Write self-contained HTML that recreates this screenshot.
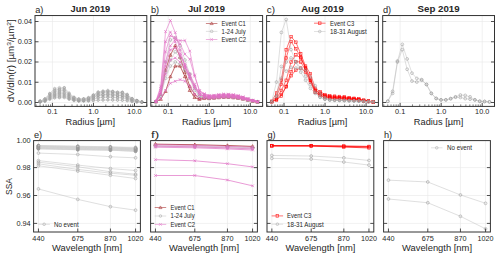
<!DOCTYPE html><html><head><meta charset="utf-8"><style>html,body{margin:0;padding:0;background:#fff;overflow:hidden}svg{display:block}</style></head><body>
<svg width="500" height="258" viewBox="0 0 500 258" font-family='"Liberation Sans", sans-serif'>
<rect width="500" height="258" fill="#fff"/>
<defs>
<clipPath id="ct0"><rect x="35" y="15.55" width="111.8" height="90.85"/></clipPath>
<clipPath id="cb0"><rect x="33.6" y="140.6" width="106.8" height="91.4"/></clipPath>
<clipPath id="ct1"><rect x="150.8" y="15.55" width="111.8" height="90.85"/></clipPath>
<clipPath id="cb1"><rect x="150.6" y="140.6" width="106.8" height="91.4"/></clipPath>
<clipPath id="ct2"><rect x="266.6" y="15.55" width="111.8" height="90.85"/></clipPath>
<clipPath id="cb2"><rect x="267" y="140.6" width="106.8" height="91.4"/></clipPath>
<clipPath id="ct3"><rect x="382.7" y="15.55" width="111.8" height="90.85"/></clipPath>
<clipPath id="cb3"><rect x="383.6" y="140.6" width="106.8" height="91.4"/></clipPath>
</defs>
<line x1="52.43" y1="15.55" x2="52.43" y2="106.4" stroke="#e8e8e8" stroke-width="0.6"/>
<line x1="93.46" y1="15.55" x2="93.46" y2="106.4" stroke="#e8e8e8" stroke-width="0.6"/>
<line x1="134.49" y1="15.55" x2="134.49" y2="106.4" stroke="#e8e8e8" stroke-width="0.6"/>
<line x1="35" y1="102.5" x2="146.8" y2="102.5" stroke="#e8e8e8" stroke-width="0.6"/>
<line x1="35" y1="82.25" x2="146.8" y2="82.25" stroke="#e8e8e8" stroke-width="0.6"/>
<line x1="35" y1="62" x2="146.8" y2="62" stroke="#e8e8e8" stroke-width="0.6"/>
<line x1="35" y1="41.75" x2="146.8" y2="41.75" stroke="#e8e8e8" stroke-width="0.6"/>
<line x1="35" y1="21.5" x2="146.8" y2="21.5" stroke="#e8e8e8" stroke-width="0.6"/>
<g clip-path="url(#ct0)">
<g opacity="1.0">
<path d="M40.08 102.04L44.92 101.35L49.76 99.55L54.6 98.15L59.44 97.87L64.28 97.77L69.12 99.44L73.96 100.7L78.8 101.18L83.64 100.93L88.48 100.32L93.32 99.07L98.16 97.75L103 97.28L107.84 96.92L112.68 97.12L117.52 97.74L122.36 97.58L127.2 98.79L132.04 100.67L136.88 101.47L141.72 102.09" fill="none" stroke="#c4c4c4" stroke-width="0.4" stroke-linejoin="round"/>
<circle cx="40.08" cy="102.04" r="1.15" fill="none" stroke="#a0a0a0" stroke-width="0.5"/>
<circle cx="44.92" cy="101.35" r="1.15" fill="none" stroke="#a0a0a0" stroke-width="0.5"/>
<circle cx="49.76" cy="99.55" r="1.15" fill="none" stroke="#a0a0a0" stroke-width="0.5"/>
<circle cx="54.6" cy="98.15" r="1.15" fill="none" stroke="#a0a0a0" stroke-width="0.5"/>
<circle cx="59.44" cy="97.87" r="1.15" fill="none" stroke="#a0a0a0" stroke-width="0.5"/>
<circle cx="64.28" cy="97.77" r="1.15" fill="none" stroke="#a0a0a0" stroke-width="0.5"/>
<circle cx="69.12" cy="99.44" r="1.15" fill="none" stroke="#a0a0a0" stroke-width="0.5"/>
<circle cx="73.96" cy="100.7" r="1.15" fill="none" stroke="#a0a0a0" stroke-width="0.5"/>
<circle cx="78.8" cy="101.18" r="1.15" fill="none" stroke="#a0a0a0" stroke-width="0.5"/>
<circle cx="83.64" cy="100.93" r="1.15" fill="none" stroke="#a0a0a0" stroke-width="0.5"/>
<circle cx="88.48" cy="100.32" r="1.15" fill="none" stroke="#a0a0a0" stroke-width="0.5"/>
<circle cx="93.32" cy="99.07" r="1.15" fill="none" stroke="#a0a0a0" stroke-width="0.5"/>
<circle cx="98.16" cy="97.75" r="1.15" fill="none" stroke="#a0a0a0" stroke-width="0.5"/>
<circle cx="103" cy="97.28" r="1.15" fill="none" stroke="#a0a0a0" stroke-width="0.5"/>
<circle cx="107.84" cy="96.92" r="1.15" fill="none" stroke="#a0a0a0" stroke-width="0.5"/>
<circle cx="112.68" cy="97.12" r="1.15" fill="none" stroke="#a0a0a0" stroke-width="0.5"/>
<circle cx="117.52" cy="97.74" r="1.15" fill="none" stroke="#a0a0a0" stroke-width="0.5"/>
<circle cx="122.36" cy="97.58" r="1.15" fill="none" stroke="#a0a0a0" stroke-width="0.5"/>
<circle cx="127.2" cy="98.79" r="1.15" fill="none" stroke="#a0a0a0" stroke-width="0.5"/>
<circle cx="132.04" cy="100.67" r="1.15" fill="none" stroke="#a0a0a0" stroke-width="0.5"/>
<circle cx="136.88" cy="101.47" r="1.15" fill="none" stroke="#a0a0a0" stroke-width="0.5"/>
<circle cx="141.72" cy="102.09" r="1.15" fill="none" stroke="#a0a0a0" stroke-width="0.5"/>
</g>
<g opacity="1.0">
<path d="M40.08 101.95L44.92 101.11L49.76 98.97L54.6 97.56L59.44 97.34L64.28 97.12L69.12 99.02L73.96 100.3L78.8 100.91L83.64 100.45L88.48 99.41L93.32 97.43L98.16 95.47L103 94.5L107.84 94.7L112.68 94.7L117.52 95.43L122.36 95.74L127.2 96.97L132.04 99.91L136.88 101.01L141.72 102.09" fill="none" stroke="#c4c4c4" stroke-width="0.4" stroke-linejoin="round"/>
<circle cx="40.08" cy="101.95" r="1.15" fill="none" stroke="#a0a0a0" stroke-width="0.5"/>
<circle cx="44.92" cy="101.11" r="1.15" fill="none" stroke="#a0a0a0" stroke-width="0.5"/>
<circle cx="49.76" cy="98.97" r="1.15" fill="none" stroke="#a0a0a0" stroke-width="0.5"/>
<circle cx="54.6" cy="97.56" r="1.15" fill="none" stroke="#a0a0a0" stroke-width="0.5"/>
<circle cx="59.44" cy="97.34" r="1.15" fill="none" stroke="#a0a0a0" stroke-width="0.5"/>
<circle cx="64.28" cy="97.12" r="1.15" fill="none" stroke="#a0a0a0" stroke-width="0.5"/>
<circle cx="69.12" cy="99.02" r="1.15" fill="none" stroke="#a0a0a0" stroke-width="0.5"/>
<circle cx="73.96" cy="100.3" r="1.15" fill="none" stroke="#a0a0a0" stroke-width="0.5"/>
<circle cx="78.8" cy="100.91" r="1.15" fill="none" stroke="#a0a0a0" stroke-width="0.5"/>
<circle cx="83.64" cy="100.45" r="1.15" fill="none" stroke="#a0a0a0" stroke-width="0.5"/>
<circle cx="88.48" cy="99.41" r="1.15" fill="none" stroke="#a0a0a0" stroke-width="0.5"/>
<circle cx="93.32" cy="97.43" r="1.15" fill="none" stroke="#a0a0a0" stroke-width="0.5"/>
<circle cx="98.16" cy="95.47" r="1.15" fill="none" stroke="#a0a0a0" stroke-width="0.5"/>
<circle cx="103" cy="94.5" r="1.15" fill="none" stroke="#a0a0a0" stroke-width="0.5"/>
<circle cx="107.84" cy="94.7" r="1.15" fill="none" stroke="#a0a0a0" stroke-width="0.5"/>
<circle cx="112.68" cy="94.7" r="1.15" fill="none" stroke="#a0a0a0" stroke-width="0.5"/>
<circle cx="117.52" cy="95.43" r="1.15" fill="none" stroke="#a0a0a0" stroke-width="0.5"/>
<circle cx="122.36" cy="95.74" r="1.15" fill="none" stroke="#a0a0a0" stroke-width="0.5"/>
<circle cx="127.2" cy="96.97" r="1.15" fill="none" stroke="#a0a0a0" stroke-width="0.5"/>
<circle cx="132.04" cy="99.91" r="1.15" fill="none" stroke="#a0a0a0" stroke-width="0.5"/>
<circle cx="136.88" cy="101.01" r="1.15" fill="none" stroke="#a0a0a0" stroke-width="0.5"/>
<circle cx="141.72" cy="102.09" r="1.15" fill="none" stroke="#a0a0a0" stroke-width="0.5"/>
</g>
<g opacity="1.0">
<path d="M40.08 101.87L44.92 100.93L49.76 98.7L54.6 96.74L59.44 96.7L64.28 96.36L69.12 98.68L73.96 100.17L78.8 100.82L83.64 100.36L88.48 99.54L93.32 97.54L98.16 95.57L103 94.82L107.84 94.87L112.68 95.28L117.52 95.86L122.36 95.9L127.2 97.32L132.04 100.04L136.88 101.15L141.72 102.09" fill="none" stroke="#c4c4c4" stroke-width="0.4" stroke-linejoin="round"/>
<circle cx="40.08" cy="101.87" r="1.15" fill="none" stroke="#a0a0a0" stroke-width="0.5"/>
<circle cx="44.92" cy="100.93" r="1.15" fill="none" stroke="#a0a0a0" stroke-width="0.5"/>
<circle cx="49.76" cy="98.7" r="1.15" fill="none" stroke="#a0a0a0" stroke-width="0.5"/>
<circle cx="54.6" cy="96.74" r="1.15" fill="none" stroke="#a0a0a0" stroke-width="0.5"/>
<circle cx="59.44" cy="96.7" r="1.15" fill="none" stroke="#a0a0a0" stroke-width="0.5"/>
<circle cx="64.28" cy="96.36" r="1.15" fill="none" stroke="#a0a0a0" stroke-width="0.5"/>
<circle cx="69.12" cy="98.68" r="1.15" fill="none" stroke="#a0a0a0" stroke-width="0.5"/>
<circle cx="73.96" cy="100.17" r="1.15" fill="none" stroke="#a0a0a0" stroke-width="0.5"/>
<circle cx="78.8" cy="100.82" r="1.15" fill="none" stroke="#a0a0a0" stroke-width="0.5"/>
<circle cx="83.64" cy="100.36" r="1.15" fill="none" stroke="#a0a0a0" stroke-width="0.5"/>
<circle cx="88.48" cy="99.54" r="1.15" fill="none" stroke="#a0a0a0" stroke-width="0.5"/>
<circle cx="93.32" cy="97.54" r="1.15" fill="none" stroke="#a0a0a0" stroke-width="0.5"/>
<circle cx="98.16" cy="95.57" r="1.15" fill="none" stroke="#a0a0a0" stroke-width="0.5"/>
<circle cx="103" cy="94.82" r="1.15" fill="none" stroke="#a0a0a0" stroke-width="0.5"/>
<circle cx="107.84" cy="94.87" r="1.15" fill="none" stroke="#a0a0a0" stroke-width="0.5"/>
<circle cx="112.68" cy="95.28" r="1.15" fill="none" stroke="#a0a0a0" stroke-width="0.5"/>
<circle cx="117.52" cy="95.86" r="1.15" fill="none" stroke="#a0a0a0" stroke-width="0.5"/>
<circle cx="122.36" cy="95.9" r="1.15" fill="none" stroke="#a0a0a0" stroke-width="0.5"/>
<circle cx="127.2" cy="97.32" r="1.15" fill="none" stroke="#a0a0a0" stroke-width="0.5"/>
<circle cx="132.04" cy="100.04" r="1.15" fill="none" stroke="#a0a0a0" stroke-width="0.5"/>
<circle cx="136.88" cy="101.15" r="1.15" fill="none" stroke="#a0a0a0" stroke-width="0.5"/>
<circle cx="141.72" cy="102.09" r="1.15" fill="none" stroke="#a0a0a0" stroke-width="0.5"/>
</g>
<g opacity="1.0">
<path d="M40.08 101.81L44.92 100.83L49.76 98.3L54.6 96.13L59.44 95.89L64.28 95.76L69.12 98.31L73.96 99.74L78.8 100.51L83.64 99.82L88.48 98.6L93.32 95.44L98.16 92.92L103 92.12L107.84 91.45L112.68 91.77L117.52 93.04L122.36 92.62L127.2 94.94L132.04 98.82L136.88 100.53L141.72 102.03" fill="none" stroke="#c4c4c4" stroke-width="0.4" stroke-linejoin="round"/>
<circle cx="40.08" cy="101.81" r="1.15" fill="none" stroke="#a0a0a0" stroke-width="0.5"/>
<circle cx="44.92" cy="100.83" r="1.15" fill="none" stroke="#a0a0a0" stroke-width="0.5"/>
<circle cx="49.76" cy="98.3" r="1.15" fill="none" stroke="#a0a0a0" stroke-width="0.5"/>
<circle cx="54.6" cy="96.13" r="1.15" fill="none" stroke="#a0a0a0" stroke-width="0.5"/>
<circle cx="59.44" cy="95.89" r="1.15" fill="none" stroke="#a0a0a0" stroke-width="0.5"/>
<circle cx="64.28" cy="95.76" r="1.15" fill="none" stroke="#a0a0a0" stroke-width="0.5"/>
<circle cx="69.12" cy="98.31" r="1.15" fill="none" stroke="#a0a0a0" stroke-width="0.5"/>
<circle cx="73.96" cy="99.74" r="1.15" fill="none" stroke="#a0a0a0" stroke-width="0.5"/>
<circle cx="78.8" cy="100.51" r="1.15" fill="none" stroke="#a0a0a0" stroke-width="0.5"/>
<circle cx="83.64" cy="99.82" r="1.15" fill="none" stroke="#a0a0a0" stroke-width="0.5"/>
<circle cx="88.48" cy="98.6" r="1.15" fill="none" stroke="#a0a0a0" stroke-width="0.5"/>
<circle cx="93.32" cy="95.44" r="1.15" fill="none" stroke="#a0a0a0" stroke-width="0.5"/>
<circle cx="98.16" cy="92.92" r="1.15" fill="none" stroke="#a0a0a0" stroke-width="0.5"/>
<circle cx="103" cy="92.12" r="1.15" fill="none" stroke="#a0a0a0" stroke-width="0.5"/>
<circle cx="107.84" cy="91.45" r="1.15" fill="none" stroke="#a0a0a0" stroke-width="0.5"/>
<circle cx="112.68" cy="91.77" r="1.15" fill="none" stroke="#a0a0a0" stroke-width="0.5"/>
<circle cx="117.52" cy="93.04" r="1.15" fill="none" stroke="#a0a0a0" stroke-width="0.5"/>
<circle cx="122.36" cy="92.62" r="1.15" fill="none" stroke="#a0a0a0" stroke-width="0.5"/>
<circle cx="127.2" cy="94.94" r="1.15" fill="none" stroke="#a0a0a0" stroke-width="0.5"/>
<circle cx="132.04" cy="98.82" r="1.15" fill="none" stroke="#a0a0a0" stroke-width="0.5"/>
<circle cx="136.88" cy="100.53" r="1.15" fill="none" stroke="#a0a0a0" stroke-width="0.5"/>
<circle cx="141.72" cy="102.03" r="1.15" fill="none" stroke="#a0a0a0" stroke-width="0.5"/>
</g>
<g opacity="1.0">
<path d="M40.08 101.77L44.92 100.6L49.76 97.85L54.6 95.42L59.44 95.29L64.28 95.01L69.12 97.94L73.96 99.72L78.8 100.84L83.64 101.17L88.48 101.11L93.32 100.56L98.16 100.16L103 99.94L107.84 99.72L112.68 99.93L117.52 100.07L122.36 100.22L127.2 100.62L132.04 101.63L136.88 102L141.72 102.09" fill="none" stroke="#c4c4c4" stroke-width="0.4" stroke-linejoin="round"/>
<circle cx="40.08" cy="101.77" r="1.15" fill="none" stroke="#a0a0a0" stroke-width="0.5"/>
<circle cx="44.92" cy="100.6" r="1.15" fill="none" stroke="#a0a0a0" stroke-width="0.5"/>
<circle cx="49.76" cy="97.85" r="1.15" fill="none" stroke="#a0a0a0" stroke-width="0.5"/>
<circle cx="54.6" cy="95.42" r="1.15" fill="none" stroke="#a0a0a0" stroke-width="0.5"/>
<circle cx="59.44" cy="95.29" r="1.15" fill="none" stroke="#a0a0a0" stroke-width="0.5"/>
<circle cx="64.28" cy="95.01" r="1.15" fill="none" stroke="#a0a0a0" stroke-width="0.5"/>
<circle cx="69.12" cy="97.94" r="1.15" fill="none" stroke="#a0a0a0" stroke-width="0.5"/>
<circle cx="73.96" cy="99.72" r="1.15" fill="none" stroke="#a0a0a0" stroke-width="0.5"/>
<circle cx="78.8" cy="100.84" r="1.15" fill="none" stroke="#a0a0a0" stroke-width="0.5"/>
<circle cx="83.64" cy="101.17" r="1.15" fill="none" stroke="#a0a0a0" stroke-width="0.5"/>
<circle cx="88.48" cy="101.11" r="1.15" fill="none" stroke="#a0a0a0" stroke-width="0.5"/>
<circle cx="93.32" cy="100.56" r="1.15" fill="none" stroke="#a0a0a0" stroke-width="0.5"/>
<circle cx="98.16" cy="100.16" r="1.15" fill="none" stroke="#a0a0a0" stroke-width="0.5"/>
<circle cx="103" cy="99.94" r="1.15" fill="none" stroke="#a0a0a0" stroke-width="0.5"/>
<circle cx="107.84" cy="99.72" r="1.15" fill="none" stroke="#a0a0a0" stroke-width="0.5"/>
<circle cx="112.68" cy="99.93" r="1.15" fill="none" stroke="#a0a0a0" stroke-width="0.5"/>
<circle cx="117.52" cy="100.07" r="1.15" fill="none" stroke="#a0a0a0" stroke-width="0.5"/>
<circle cx="122.36" cy="100.22" r="1.15" fill="none" stroke="#a0a0a0" stroke-width="0.5"/>
<circle cx="127.2" cy="100.62" r="1.15" fill="none" stroke="#a0a0a0" stroke-width="0.5"/>
<circle cx="132.04" cy="101.63" r="1.15" fill="none" stroke="#a0a0a0" stroke-width="0.5"/>
<circle cx="136.88" cy="102" r="1.15" fill="none" stroke="#a0a0a0" stroke-width="0.5"/>
<circle cx="141.72" cy="102.09" r="1.15" fill="none" stroke="#a0a0a0" stroke-width="0.5"/>
</g>
<g opacity="1.0">
<path d="M40.08 101.71L44.92 100.39L49.76 97.4L54.6 95.1L59.44 94.35L64.28 94.31L69.12 97.51L73.96 99.47L78.8 100.44L83.64 100.2L88.48 99.34L93.32 97.38L98.16 95.74L103 95.33L107.84 95.01L112.68 94.87L117.52 95.64L122.36 95.72L127.2 97.25L132.04 99.88L136.88 101.1L141.72 102.09" fill="none" stroke="#c4c4c4" stroke-width="0.4" stroke-linejoin="round"/>
<circle cx="40.08" cy="101.71" r="1.15" fill="none" stroke="#a0a0a0" stroke-width="0.5"/>
<circle cx="44.92" cy="100.39" r="1.15" fill="none" stroke="#a0a0a0" stroke-width="0.5"/>
<circle cx="49.76" cy="97.4" r="1.15" fill="none" stroke="#a0a0a0" stroke-width="0.5"/>
<circle cx="54.6" cy="95.1" r="1.15" fill="none" stroke="#a0a0a0" stroke-width="0.5"/>
<circle cx="59.44" cy="94.35" r="1.15" fill="none" stroke="#a0a0a0" stroke-width="0.5"/>
<circle cx="64.28" cy="94.31" r="1.15" fill="none" stroke="#a0a0a0" stroke-width="0.5"/>
<circle cx="69.12" cy="97.51" r="1.15" fill="none" stroke="#a0a0a0" stroke-width="0.5"/>
<circle cx="73.96" cy="99.47" r="1.15" fill="none" stroke="#a0a0a0" stroke-width="0.5"/>
<circle cx="78.8" cy="100.44" r="1.15" fill="none" stroke="#a0a0a0" stroke-width="0.5"/>
<circle cx="83.64" cy="100.2" r="1.15" fill="none" stroke="#a0a0a0" stroke-width="0.5"/>
<circle cx="88.48" cy="99.34" r="1.15" fill="none" stroke="#a0a0a0" stroke-width="0.5"/>
<circle cx="93.32" cy="97.38" r="1.15" fill="none" stroke="#a0a0a0" stroke-width="0.5"/>
<circle cx="98.16" cy="95.74" r="1.15" fill="none" stroke="#a0a0a0" stroke-width="0.5"/>
<circle cx="103" cy="95.33" r="1.15" fill="none" stroke="#a0a0a0" stroke-width="0.5"/>
<circle cx="107.84" cy="95.01" r="1.15" fill="none" stroke="#a0a0a0" stroke-width="0.5"/>
<circle cx="112.68" cy="94.87" r="1.15" fill="none" stroke="#a0a0a0" stroke-width="0.5"/>
<circle cx="117.52" cy="95.64" r="1.15" fill="none" stroke="#a0a0a0" stroke-width="0.5"/>
<circle cx="122.36" cy="95.72" r="1.15" fill="none" stroke="#a0a0a0" stroke-width="0.5"/>
<circle cx="127.2" cy="97.25" r="1.15" fill="none" stroke="#a0a0a0" stroke-width="0.5"/>
<circle cx="132.04" cy="99.88" r="1.15" fill="none" stroke="#a0a0a0" stroke-width="0.5"/>
<circle cx="136.88" cy="101.1" r="1.15" fill="none" stroke="#a0a0a0" stroke-width="0.5"/>
<circle cx="141.72" cy="102.09" r="1.15" fill="none" stroke="#a0a0a0" stroke-width="0.5"/>
</g>
<g opacity="1.0">
<path d="M40.08 101.62L44.92 100.25L49.76 97.01L54.6 94.45L59.44 93.76L64.28 93.43L69.12 96.79L73.96 99.01L78.8 100.17L83.64 99.63L88.48 98.78L93.32 96.41L98.16 94.19L103 92.74L107.84 92.93L112.68 92.84L117.52 93.44L122.36 94.05L127.2 95.85L132.04 99.09L136.88 100.76L141.72 102.05" fill="none" stroke="#c4c4c4" stroke-width="0.4" stroke-linejoin="round"/>
<circle cx="40.08" cy="101.62" r="1.15" fill="none" stroke="#a0a0a0" stroke-width="0.5"/>
<circle cx="44.92" cy="100.25" r="1.15" fill="none" stroke="#a0a0a0" stroke-width="0.5"/>
<circle cx="49.76" cy="97.01" r="1.15" fill="none" stroke="#a0a0a0" stroke-width="0.5"/>
<circle cx="54.6" cy="94.45" r="1.15" fill="none" stroke="#a0a0a0" stroke-width="0.5"/>
<circle cx="59.44" cy="93.76" r="1.15" fill="none" stroke="#a0a0a0" stroke-width="0.5"/>
<circle cx="64.28" cy="93.43" r="1.15" fill="none" stroke="#a0a0a0" stroke-width="0.5"/>
<circle cx="69.12" cy="96.79" r="1.15" fill="none" stroke="#a0a0a0" stroke-width="0.5"/>
<circle cx="73.96" cy="99.01" r="1.15" fill="none" stroke="#a0a0a0" stroke-width="0.5"/>
<circle cx="78.8" cy="100.17" r="1.15" fill="none" stroke="#a0a0a0" stroke-width="0.5"/>
<circle cx="83.64" cy="99.63" r="1.15" fill="none" stroke="#a0a0a0" stroke-width="0.5"/>
<circle cx="88.48" cy="98.78" r="1.15" fill="none" stroke="#a0a0a0" stroke-width="0.5"/>
<circle cx="93.32" cy="96.41" r="1.15" fill="none" stroke="#a0a0a0" stroke-width="0.5"/>
<circle cx="98.16" cy="94.19" r="1.15" fill="none" stroke="#a0a0a0" stroke-width="0.5"/>
<circle cx="103" cy="92.74" r="1.15" fill="none" stroke="#a0a0a0" stroke-width="0.5"/>
<circle cx="107.84" cy="92.93" r="1.15" fill="none" stroke="#a0a0a0" stroke-width="0.5"/>
<circle cx="112.68" cy="92.84" r="1.15" fill="none" stroke="#a0a0a0" stroke-width="0.5"/>
<circle cx="117.52" cy="93.44" r="1.15" fill="none" stroke="#a0a0a0" stroke-width="0.5"/>
<circle cx="122.36" cy="94.05" r="1.15" fill="none" stroke="#a0a0a0" stroke-width="0.5"/>
<circle cx="127.2" cy="95.85" r="1.15" fill="none" stroke="#a0a0a0" stroke-width="0.5"/>
<circle cx="132.04" cy="99.09" r="1.15" fill="none" stroke="#a0a0a0" stroke-width="0.5"/>
<circle cx="136.88" cy="100.76" r="1.15" fill="none" stroke="#a0a0a0" stroke-width="0.5"/>
<circle cx="141.72" cy="102.05" r="1.15" fill="none" stroke="#a0a0a0" stroke-width="0.5"/>
</g>
<g opacity="1.0">
<path d="M40.08 101.57L44.92 100.08L49.76 96.54L54.6 94.17L59.44 93.15L64.28 93.1L69.12 96.43L73.96 99.11L78.8 100.32L83.64 100.45L88.48 99.96L93.32 98.77L98.16 97.32L103 96.91L107.84 97.03L112.68 97.04L117.52 97.25L122.36 97.4L127.2 98.52L132.04 100.56L136.88 101.48L141.72 102.09" fill="none" stroke="#c4c4c4" stroke-width="0.4" stroke-linejoin="round"/>
<circle cx="40.08" cy="101.57" r="1.15" fill="none" stroke="#a0a0a0" stroke-width="0.5"/>
<circle cx="44.92" cy="100.08" r="1.15" fill="none" stroke="#a0a0a0" stroke-width="0.5"/>
<circle cx="49.76" cy="96.54" r="1.15" fill="none" stroke="#a0a0a0" stroke-width="0.5"/>
<circle cx="54.6" cy="94.17" r="1.15" fill="none" stroke="#a0a0a0" stroke-width="0.5"/>
<circle cx="59.44" cy="93.15" r="1.15" fill="none" stroke="#a0a0a0" stroke-width="0.5"/>
<circle cx="64.28" cy="93.1" r="1.15" fill="none" stroke="#a0a0a0" stroke-width="0.5"/>
<circle cx="69.12" cy="96.43" r="1.15" fill="none" stroke="#a0a0a0" stroke-width="0.5"/>
<circle cx="73.96" cy="99.11" r="1.15" fill="none" stroke="#a0a0a0" stroke-width="0.5"/>
<circle cx="78.8" cy="100.32" r="1.15" fill="none" stroke="#a0a0a0" stroke-width="0.5"/>
<circle cx="83.64" cy="100.45" r="1.15" fill="none" stroke="#a0a0a0" stroke-width="0.5"/>
<circle cx="88.48" cy="99.96" r="1.15" fill="none" stroke="#a0a0a0" stroke-width="0.5"/>
<circle cx="93.32" cy="98.77" r="1.15" fill="none" stroke="#a0a0a0" stroke-width="0.5"/>
<circle cx="98.16" cy="97.32" r="1.15" fill="none" stroke="#a0a0a0" stroke-width="0.5"/>
<circle cx="103" cy="96.91" r="1.15" fill="none" stroke="#a0a0a0" stroke-width="0.5"/>
<circle cx="107.84" cy="97.03" r="1.15" fill="none" stroke="#a0a0a0" stroke-width="0.5"/>
<circle cx="112.68" cy="97.04" r="1.15" fill="none" stroke="#a0a0a0" stroke-width="0.5"/>
<circle cx="117.52" cy="97.25" r="1.15" fill="none" stroke="#a0a0a0" stroke-width="0.5"/>
<circle cx="122.36" cy="97.4" r="1.15" fill="none" stroke="#a0a0a0" stroke-width="0.5"/>
<circle cx="127.2" cy="98.52" r="1.15" fill="none" stroke="#a0a0a0" stroke-width="0.5"/>
<circle cx="132.04" cy="100.56" r="1.15" fill="none" stroke="#a0a0a0" stroke-width="0.5"/>
<circle cx="136.88" cy="101.48" r="1.15" fill="none" stroke="#a0a0a0" stroke-width="0.5"/>
<circle cx="141.72" cy="102.09" r="1.15" fill="none" stroke="#a0a0a0" stroke-width="0.5"/>
</g>
<g opacity="1.0">
<path d="M40.08 101.51L44.92 100.01L49.76 96.31L54.6 93.44L59.44 92.73L64.28 92.25L69.12 96.3L73.96 98.93L78.8 100.24L83.64 100.47L88.48 100.15L93.32 99.03L98.16 98.07L103 97.71L107.84 97.44L112.68 97.73L117.52 97.97L122.36 98.15L127.2 99.22L132.04 100.9L136.88 101.61L141.72 102.09" fill="none" stroke="#c4c4c4" stroke-width="0.4" stroke-linejoin="round"/>
<circle cx="40.08" cy="101.51" r="1.15" fill="none" stroke="#a0a0a0" stroke-width="0.5"/>
<circle cx="44.92" cy="100.01" r="1.15" fill="none" stroke="#a0a0a0" stroke-width="0.5"/>
<circle cx="49.76" cy="96.31" r="1.15" fill="none" stroke="#a0a0a0" stroke-width="0.5"/>
<circle cx="54.6" cy="93.44" r="1.15" fill="none" stroke="#a0a0a0" stroke-width="0.5"/>
<circle cx="59.44" cy="92.73" r="1.15" fill="none" stroke="#a0a0a0" stroke-width="0.5"/>
<circle cx="64.28" cy="92.25" r="1.15" fill="none" stroke="#a0a0a0" stroke-width="0.5"/>
<circle cx="69.12" cy="96.3" r="1.15" fill="none" stroke="#a0a0a0" stroke-width="0.5"/>
<circle cx="73.96" cy="98.93" r="1.15" fill="none" stroke="#a0a0a0" stroke-width="0.5"/>
<circle cx="78.8" cy="100.24" r="1.15" fill="none" stroke="#a0a0a0" stroke-width="0.5"/>
<circle cx="83.64" cy="100.47" r="1.15" fill="none" stroke="#a0a0a0" stroke-width="0.5"/>
<circle cx="88.48" cy="100.15" r="1.15" fill="none" stroke="#a0a0a0" stroke-width="0.5"/>
<circle cx="93.32" cy="99.03" r="1.15" fill="none" stroke="#a0a0a0" stroke-width="0.5"/>
<circle cx="98.16" cy="98.07" r="1.15" fill="none" stroke="#a0a0a0" stroke-width="0.5"/>
<circle cx="103" cy="97.71" r="1.15" fill="none" stroke="#a0a0a0" stroke-width="0.5"/>
<circle cx="107.84" cy="97.44" r="1.15" fill="none" stroke="#a0a0a0" stroke-width="0.5"/>
<circle cx="112.68" cy="97.73" r="1.15" fill="none" stroke="#a0a0a0" stroke-width="0.5"/>
<circle cx="117.52" cy="97.97" r="1.15" fill="none" stroke="#a0a0a0" stroke-width="0.5"/>
<circle cx="122.36" cy="98.15" r="1.15" fill="none" stroke="#a0a0a0" stroke-width="0.5"/>
<circle cx="127.2" cy="99.22" r="1.15" fill="none" stroke="#a0a0a0" stroke-width="0.5"/>
<circle cx="132.04" cy="100.9" r="1.15" fill="none" stroke="#a0a0a0" stroke-width="0.5"/>
<circle cx="136.88" cy="101.61" r="1.15" fill="none" stroke="#a0a0a0" stroke-width="0.5"/>
<circle cx="141.72" cy="102.09" r="1.15" fill="none" stroke="#a0a0a0" stroke-width="0.5"/>
</g>
<g opacity="1.0">
<path d="M40.08 101.38L44.92 99.83L49.76 95.83L54.6 92.87L59.44 92.12L64.28 90.96L69.12 95.86L73.96 98.45L78.8 99.79L83.64 99.37L88.48 98.34L93.32 95.87L98.16 93.37L103 92.71L107.84 92.22L112.68 92.29L117.52 92.99L122.36 92.99L127.2 95.44L132.04 99.1L136.88 100.57L141.72 102.01" fill="none" stroke="#c4c4c4" stroke-width="0.4" stroke-linejoin="round"/>
<circle cx="40.08" cy="101.38" r="1.15" fill="none" stroke="#a0a0a0" stroke-width="0.5"/>
<circle cx="44.92" cy="99.83" r="1.15" fill="none" stroke="#a0a0a0" stroke-width="0.5"/>
<circle cx="49.76" cy="95.83" r="1.15" fill="none" stroke="#a0a0a0" stroke-width="0.5"/>
<circle cx="54.6" cy="92.87" r="1.15" fill="none" stroke="#a0a0a0" stroke-width="0.5"/>
<circle cx="59.44" cy="92.12" r="1.15" fill="none" stroke="#a0a0a0" stroke-width="0.5"/>
<circle cx="64.28" cy="90.96" r="1.15" fill="none" stroke="#a0a0a0" stroke-width="0.5"/>
<circle cx="69.12" cy="95.86" r="1.15" fill="none" stroke="#a0a0a0" stroke-width="0.5"/>
<circle cx="73.96" cy="98.45" r="1.15" fill="none" stroke="#a0a0a0" stroke-width="0.5"/>
<circle cx="78.8" cy="99.79" r="1.15" fill="none" stroke="#a0a0a0" stroke-width="0.5"/>
<circle cx="83.64" cy="99.37" r="1.15" fill="none" stroke="#a0a0a0" stroke-width="0.5"/>
<circle cx="88.48" cy="98.34" r="1.15" fill="none" stroke="#a0a0a0" stroke-width="0.5"/>
<circle cx="93.32" cy="95.87" r="1.15" fill="none" stroke="#a0a0a0" stroke-width="0.5"/>
<circle cx="98.16" cy="93.37" r="1.15" fill="none" stroke="#a0a0a0" stroke-width="0.5"/>
<circle cx="103" cy="92.71" r="1.15" fill="none" stroke="#a0a0a0" stroke-width="0.5"/>
<circle cx="107.84" cy="92.22" r="1.15" fill="none" stroke="#a0a0a0" stroke-width="0.5"/>
<circle cx="112.68" cy="92.29" r="1.15" fill="none" stroke="#a0a0a0" stroke-width="0.5"/>
<circle cx="117.52" cy="92.99" r="1.15" fill="none" stroke="#a0a0a0" stroke-width="0.5"/>
<circle cx="122.36" cy="92.99" r="1.15" fill="none" stroke="#a0a0a0" stroke-width="0.5"/>
<circle cx="127.2" cy="95.44" r="1.15" fill="none" stroke="#a0a0a0" stroke-width="0.5"/>
<circle cx="132.04" cy="99.1" r="1.15" fill="none" stroke="#a0a0a0" stroke-width="0.5"/>
<circle cx="136.88" cy="100.57" r="1.15" fill="none" stroke="#a0a0a0" stroke-width="0.5"/>
<circle cx="141.72" cy="102.01" r="1.15" fill="none" stroke="#a0a0a0" stroke-width="0.5"/>
</g>
<g opacity="1.0">
<path d="M40.08 101.34L44.92 99.55L49.76 95.28L54.6 91.7L59.44 90.97L64.28 90.31L69.12 95.18L73.96 98.29L78.8 99.58L83.64 99.16L88.48 98.07L93.32 95.41L98.16 92.65L103 91.84L107.84 91.37L112.68 91.64L117.52 93.01L122.36 92.67L127.2 94.86L132.04 98.84L136.88 100.51L141.72 101.99" fill="none" stroke="#c4c4c4" stroke-width="0.4" stroke-linejoin="round"/>
<circle cx="40.08" cy="101.34" r="1.15" fill="none" stroke="#a0a0a0" stroke-width="0.5"/>
<circle cx="44.92" cy="99.55" r="1.15" fill="none" stroke="#a0a0a0" stroke-width="0.5"/>
<circle cx="49.76" cy="95.28" r="1.15" fill="none" stroke="#a0a0a0" stroke-width="0.5"/>
<circle cx="54.6" cy="91.7" r="1.15" fill="none" stroke="#a0a0a0" stroke-width="0.5"/>
<circle cx="59.44" cy="90.97" r="1.15" fill="none" stroke="#a0a0a0" stroke-width="0.5"/>
<circle cx="64.28" cy="90.31" r="1.15" fill="none" stroke="#a0a0a0" stroke-width="0.5"/>
<circle cx="69.12" cy="95.18" r="1.15" fill="none" stroke="#a0a0a0" stroke-width="0.5"/>
<circle cx="73.96" cy="98.29" r="1.15" fill="none" stroke="#a0a0a0" stroke-width="0.5"/>
<circle cx="78.8" cy="99.58" r="1.15" fill="none" stroke="#a0a0a0" stroke-width="0.5"/>
<circle cx="83.64" cy="99.16" r="1.15" fill="none" stroke="#a0a0a0" stroke-width="0.5"/>
<circle cx="88.48" cy="98.07" r="1.15" fill="none" stroke="#a0a0a0" stroke-width="0.5"/>
<circle cx="93.32" cy="95.41" r="1.15" fill="none" stroke="#a0a0a0" stroke-width="0.5"/>
<circle cx="98.16" cy="92.65" r="1.15" fill="none" stroke="#a0a0a0" stroke-width="0.5"/>
<circle cx="103" cy="91.84" r="1.15" fill="none" stroke="#a0a0a0" stroke-width="0.5"/>
<circle cx="107.84" cy="91.37" r="1.15" fill="none" stroke="#a0a0a0" stroke-width="0.5"/>
<circle cx="112.68" cy="91.64" r="1.15" fill="none" stroke="#a0a0a0" stroke-width="0.5"/>
<circle cx="117.52" cy="93.01" r="1.15" fill="none" stroke="#a0a0a0" stroke-width="0.5"/>
<circle cx="122.36" cy="92.67" r="1.15" fill="none" stroke="#a0a0a0" stroke-width="0.5"/>
<circle cx="127.2" cy="94.86" r="1.15" fill="none" stroke="#a0a0a0" stroke-width="0.5"/>
<circle cx="132.04" cy="98.84" r="1.15" fill="none" stroke="#a0a0a0" stroke-width="0.5"/>
<circle cx="136.88" cy="100.51" r="1.15" fill="none" stroke="#a0a0a0" stroke-width="0.5"/>
<circle cx="141.72" cy="101.99" r="1.15" fill="none" stroke="#a0a0a0" stroke-width="0.5"/>
</g>
<g opacity="1.0">
<path d="M40.08 101.27L44.92 99.54L49.76 94.73L54.6 91.31L59.44 91.02L64.28 89.82L69.12 94.77L73.96 97.97L78.8 99.58L83.64 99.6L88.48 98.83L93.32 97.02L98.16 94.87L103 94.56L107.84 93.86L112.68 94.36L117.52 95.03L122.36 95.38L127.2 96.81L132.04 99.67L136.88 100.93L141.72 102.09" fill="none" stroke="#c4c4c4" stroke-width="0.4" stroke-linejoin="round"/>
<circle cx="40.08" cy="101.27" r="1.15" fill="none" stroke="#a0a0a0" stroke-width="0.5"/>
<circle cx="44.92" cy="99.54" r="1.15" fill="none" stroke="#a0a0a0" stroke-width="0.5"/>
<circle cx="49.76" cy="94.73" r="1.15" fill="none" stroke="#a0a0a0" stroke-width="0.5"/>
<circle cx="54.6" cy="91.31" r="1.15" fill="none" stroke="#a0a0a0" stroke-width="0.5"/>
<circle cx="59.44" cy="91.02" r="1.15" fill="none" stroke="#a0a0a0" stroke-width="0.5"/>
<circle cx="64.28" cy="89.82" r="1.15" fill="none" stroke="#a0a0a0" stroke-width="0.5"/>
<circle cx="69.12" cy="94.77" r="1.15" fill="none" stroke="#a0a0a0" stroke-width="0.5"/>
<circle cx="73.96" cy="97.97" r="1.15" fill="none" stroke="#a0a0a0" stroke-width="0.5"/>
<circle cx="78.8" cy="99.58" r="1.15" fill="none" stroke="#a0a0a0" stroke-width="0.5"/>
<circle cx="83.64" cy="99.6" r="1.15" fill="none" stroke="#a0a0a0" stroke-width="0.5"/>
<circle cx="88.48" cy="98.83" r="1.15" fill="none" stroke="#a0a0a0" stroke-width="0.5"/>
<circle cx="93.32" cy="97.02" r="1.15" fill="none" stroke="#a0a0a0" stroke-width="0.5"/>
<circle cx="98.16" cy="94.87" r="1.15" fill="none" stroke="#a0a0a0" stroke-width="0.5"/>
<circle cx="103" cy="94.56" r="1.15" fill="none" stroke="#a0a0a0" stroke-width="0.5"/>
<circle cx="107.84" cy="93.86" r="1.15" fill="none" stroke="#a0a0a0" stroke-width="0.5"/>
<circle cx="112.68" cy="94.36" r="1.15" fill="none" stroke="#a0a0a0" stroke-width="0.5"/>
<circle cx="117.52" cy="95.03" r="1.15" fill="none" stroke="#a0a0a0" stroke-width="0.5"/>
<circle cx="122.36" cy="95.38" r="1.15" fill="none" stroke="#a0a0a0" stroke-width="0.5"/>
<circle cx="127.2" cy="96.81" r="1.15" fill="none" stroke="#a0a0a0" stroke-width="0.5"/>
<circle cx="132.04" cy="99.67" r="1.15" fill="none" stroke="#a0a0a0" stroke-width="0.5"/>
<circle cx="136.88" cy="100.93" r="1.15" fill="none" stroke="#a0a0a0" stroke-width="0.5"/>
<circle cx="141.72" cy="102.09" r="1.15" fill="none" stroke="#a0a0a0" stroke-width="0.5"/>
</g>
<g opacity="1.0">
<path d="M40.08 101.21L44.92 99.33L49.76 94.55L54.6 90.43L59.44 89.69L64.28 89.7L69.12 94.31L73.96 98L78.8 99.79L83.64 100.6L88.48 100.9L93.32 100.6L98.16 100.26L103 100.18L107.84 100.06L112.68 100.16L117.52 100.25L122.36 100.33L127.2 100.78L132.04 101.67L136.88 102.05L141.72 102.09" fill="none" stroke="#c4c4c4" stroke-width="0.4" stroke-linejoin="round"/>
<circle cx="40.08" cy="101.21" r="1.15" fill="none" stroke="#a0a0a0" stroke-width="0.5"/>
<circle cx="44.92" cy="99.33" r="1.15" fill="none" stroke="#a0a0a0" stroke-width="0.5"/>
<circle cx="49.76" cy="94.55" r="1.15" fill="none" stroke="#a0a0a0" stroke-width="0.5"/>
<circle cx="54.6" cy="90.43" r="1.15" fill="none" stroke="#a0a0a0" stroke-width="0.5"/>
<circle cx="59.44" cy="89.69" r="1.15" fill="none" stroke="#a0a0a0" stroke-width="0.5"/>
<circle cx="64.28" cy="89.7" r="1.15" fill="none" stroke="#a0a0a0" stroke-width="0.5"/>
<circle cx="69.12" cy="94.31" r="1.15" fill="none" stroke="#a0a0a0" stroke-width="0.5"/>
<circle cx="73.96" cy="98" r="1.15" fill="none" stroke="#a0a0a0" stroke-width="0.5"/>
<circle cx="78.8" cy="99.79" r="1.15" fill="none" stroke="#a0a0a0" stroke-width="0.5"/>
<circle cx="83.64" cy="100.6" r="1.15" fill="none" stroke="#a0a0a0" stroke-width="0.5"/>
<circle cx="88.48" cy="100.9" r="1.15" fill="none" stroke="#a0a0a0" stroke-width="0.5"/>
<circle cx="93.32" cy="100.6" r="1.15" fill="none" stroke="#a0a0a0" stroke-width="0.5"/>
<circle cx="98.16" cy="100.26" r="1.15" fill="none" stroke="#a0a0a0" stroke-width="0.5"/>
<circle cx="103" cy="100.18" r="1.15" fill="none" stroke="#a0a0a0" stroke-width="0.5"/>
<circle cx="107.84" cy="100.06" r="1.15" fill="none" stroke="#a0a0a0" stroke-width="0.5"/>
<circle cx="112.68" cy="100.16" r="1.15" fill="none" stroke="#a0a0a0" stroke-width="0.5"/>
<circle cx="117.52" cy="100.25" r="1.15" fill="none" stroke="#a0a0a0" stroke-width="0.5"/>
<circle cx="122.36" cy="100.33" r="1.15" fill="none" stroke="#a0a0a0" stroke-width="0.5"/>
<circle cx="127.2" cy="100.78" r="1.15" fill="none" stroke="#a0a0a0" stroke-width="0.5"/>
<circle cx="132.04" cy="101.67" r="1.15" fill="none" stroke="#a0a0a0" stroke-width="0.5"/>
<circle cx="136.88" cy="102.05" r="1.15" fill="none" stroke="#a0a0a0" stroke-width="0.5"/>
<circle cx="141.72" cy="102.09" r="1.15" fill="none" stroke="#a0a0a0" stroke-width="0.5"/>
</g>
<g opacity="1.0">
<path d="M40.08 101.17L44.92 99L49.76 94.05L54.6 90.33L59.44 88.78L64.28 88.44L69.12 93.99L73.96 97.63L78.8 99.31L83.64 99.45L88.48 98.64L93.32 96.93L98.16 95.14L103 94.43L107.84 94.06L112.68 93.89L117.52 94.86L122.36 94.92L127.2 96.71L132.04 99.68L136.88 100.98L141.72 102.09" fill="none" stroke="#c4c4c4" stroke-width="0.4" stroke-linejoin="round"/>
<circle cx="40.08" cy="101.17" r="1.15" fill="none" stroke="#a0a0a0" stroke-width="0.5"/>
<circle cx="44.92" cy="99" r="1.15" fill="none" stroke="#a0a0a0" stroke-width="0.5"/>
<circle cx="49.76" cy="94.05" r="1.15" fill="none" stroke="#a0a0a0" stroke-width="0.5"/>
<circle cx="54.6" cy="90.33" r="1.15" fill="none" stroke="#a0a0a0" stroke-width="0.5"/>
<circle cx="59.44" cy="88.78" r="1.15" fill="none" stroke="#a0a0a0" stroke-width="0.5"/>
<circle cx="64.28" cy="88.44" r="1.15" fill="none" stroke="#a0a0a0" stroke-width="0.5"/>
<circle cx="69.12" cy="93.99" r="1.15" fill="none" stroke="#a0a0a0" stroke-width="0.5"/>
<circle cx="73.96" cy="97.63" r="1.15" fill="none" stroke="#a0a0a0" stroke-width="0.5"/>
<circle cx="78.8" cy="99.31" r="1.15" fill="none" stroke="#a0a0a0" stroke-width="0.5"/>
<circle cx="83.64" cy="99.45" r="1.15" fill="none" stroke="#a0a0a0" stroke-width="0.5"/>
<circle cx="88.48" cy="98.64" r="1.15" fill="none" stroke="#a0a0a0" stroke-width="0.5"/>
<circle cx="93.32" cy="96.93" r="1.15" fill="none" stroke="#a0a0a0" stroke-width="0.5"/>
<circle cx="98.16" cy="95.14" r="1.15" fill="none" stroke="#a0a0a0" stroke-width="0.5"/>
<circle cx="103" cy="94.43" r="1.15" fill="none" stroke="#a0a0a0" stroke-width="0.5"/>
<circle cx="107.84" cy="94.06" r="1.15" fill="none" stroke="#a0a0a0" stroke-width="0.5"/>
<circle cx="112.68" cy="93.89" r="1.15" fill="none" stroke="#a0a0a0" stroke-width="0.5"/>
<circle cx="117.52" cy="94.86" r="1.15" fill="none" stroke="#a0a0a0" stroke-width="0.5"/>
<circle cx="122.36" cy="94.92" r="1.15" fill="none" stroke="#a0a0a0" stroke-width="0.5"/>
<circle cx="127.2" cy="96.71" r="1.15" fill="none" stroke="#a0a0a0" stroke-width="0.5"/>
<circle cx="132.04" cy="99.68" r="1.15" fill="none" stroke="#a0a0a0" stroke-width="0.5"/>
<circle cx="136.88" cy="100.98" r="1.15" fill="none" stroke="#a0a0a0" stroke-width="0.5"/>
<circle cx="141.72" cy="102.09" r="1.15" fill="none" stroke="#a0a0a0" stroke-width="0.5"/>
</g>
<g opacity="1.0">
<path d="M40.08 101.11L44.92 99.01L49.76 93.65L54.6 89.15L59.44 89.16L64.28 87.67L69.12 93.63L73.96 97.37L78.8 98.83L83.64 98.65L88.48 97.86L93.32 94.9L98.16 91.89L103 91.05L107.84 90.87L112.68 91.6L117.52 92.29L122.36 92.13L127.2 94.78L132.04 98.57L136.88 100.44L141.72 101.97" fill="none" stroke="#c4c4c4" stroke-width="0.4" stroke-linejoin="round"/>
<circle cx="40.08" cy="101.11" r="1.15" fill="none" stroke="#a0a0a0" stroke-width="0.5"/>
<circle cx="44.92" cy="99.01" r="1.15" fill="none" stroke="#a0a0a0" stroke-width="0.5"/>
<circle cx="49.76" cy="93.65" r="1.15" fill="none" stroke="#a0a0a0" stroke-width="0.5"/>
<circle cx="54.6" cy="89.15" r="1.15" fill="none" stroke="#a0a0a0" stroke-width="0.5"/>
<circle cx="59.44" cy="89.16" r="1.15" fill="none" stroke="#a0a0a0" stroke-width="0.5"/>
<circle cx="64.28" cy="87.67" r="1.15" fill="none" stroke="#a0a0a0" stroke-width="0.5"/>
<circle cx="69.12" cy="93.63" r="1.15" fill="none" stroke="#a0a0a0" stroke-width="0.5"/>
<circle cx="73.96" cy="97.37" r="1.15" fill="none" stroke="#a0a0a0" stroke-width="0.5"/>
<circle cx="78.8" cy="98.83" r="1.15" fill="none" stroke="#a0a0a0" stroke-width="0.5"/>
<circle cx="83.64" cy="98.65" r="1.15" fill="none" stroke="#a0a0a0" stroke-width="0.5"/>
<circle cx="88.48" cy="97.86" r="1.15" fill="none" stroke="#a0a0a0" stroke-width="0.5"/>
<circle cx="93.32" cy="94.9" r="1.15" fill="none" stroke="#a0a0a0" stroke-width="0.5"/>
<circle cx="98.16" cy="91.89" r="1.15" fill="none" stroke="#a0a0a0" stroke-width="0.5"/>
<circle cx="103" cy="91.05" r="1.15" fill="none" stroke="#a0a0a0" stroke-width="0.5"/>
<circle cx="107.84" cy="90.87" r="1.15" fill="none" stroke="#a0a0a0" stroke-width="0.5"/>
<circle cx="112.68" cy="91.6" r="1.15" fill="none" stroke="#a0a0a0" stroke-width="0.5"/>
<circle cx="117.52" cy="92.29" r="1.15" fill="none" stroke="#a0a0a0" stroke-width="0.5"/>
<circle cx="122.36" cy="92.13" r="1.15" fill="none" stroke="#a0a0a0" stroke-width="0.5"/>
<circle cx="127.2" cy="94.78" r="1.15" fill="none" stroke="#a0a0a0" stroke-width="0.5"/>
<circle cx="132.04" cy="98.57" r="1.15" fill="none" stroke="#a0a0a0" stroke-width="0.5"/>
<circle cx="136.88" cy="100.44" r="1.15" fill="none" stroke="#a0a0a0" stroke-width="0.5"/>
<circle cx="141.72" cy="101.97" r="1.15" fill="none" stroke="#a0a0a0" stroke-width="0.5"/>
</g>
<g opacity="1.0">
<path d="M40.08 101.02L44.92 98.74L49.76 93.33L54.6 88.4L59.44 87.52L64.28 87.55L69.12 92.84L73.96 97.01L78.8 98.78L83.64 98.69L88.48 97.41L93.32 94.94L98.16 91.99L103 91.12L107.84 90.24L112.68 91.11L117.52 91.91L122.36 92.16L127.2 94.13L132.04 98.35L136.88 100.37L141.72 101.96" fill="none" stroke="#c4c4c4" stroke-width="0.4" stroke-linejoin="round"/>
<circle cx="40.08" cy="101.02" r="1.15" fill="none" stroke="#a0a0a0" stroke-width="0.5"/>
<circle cx="44.92" cy="98.74" r="1.15" fill="none" stroke="#a0a0a0" stroke-width="0.5"/>
<circle cx="49.76" cy="93.33" r="1.15" fill="none" stroke="#a0a0a0" stroke-width="0.5"/>
<circle cx="54.6" cy="88.4" r="1.15" fill="none" stroke="#a0a0a0" stroke-width="0.5"/>
<circle cx="59.44" cy="87.52" r="1.15" fill="none" stroke="#a0a0a0" stroke-width="0.5"/>
<circle cx="64.28" cy="87.55" r="1.15" fill="none" stroke="#a0a0a0" stroke-width="0.5"/>
<circle cx="69.12" cy="92.84" r="1.15" fill="none" stroke="#a0a0a0" stroke-width="0.5"/>
<circle cx="73.96" cy="97.01" r="1.15" fill="none" stroke="#a0a0a0" stroke-width="0.5"/>
<circle cx="78.8" cy="98.78" r="1.15" fill="none" stroke="#a0a0a0" stroke-width="0.5"/>
<circle cx="83.64" cy="98.69" r="1.15" fill="none" stroke="#a0a0a0" stroke-width="0.5"/>
<circle cx="88.48" cy="97.41" r="1.15" fill="none" stroke="#a0a0a0" stroke-width="0.5"/>
<circle cx="93.32" cy="94.94" r="1.15" fill="none" stroke="#a0a0a0" stroke-width="0.5"/>
<circle cx="98.16" cy="91.99" r="1.15" fill="none" stroke="#a0a0a0" stroke-width="0.5"/>
<circle cx="103" cy="91.12" r="1.15" fill="none" stroke="#a0a0a0" stroke-width="0.5"/>
<circle cx="107.84" cy="90.24" r="1.15" fill="none" stroke="#a0a0a0" stroke-width="0.5"/>
<circle cx="112.68" cy="91.11" r="1.15" fill="none" stroke="#a0a0a0" stroke-width="0.5"/>
<circle cx="117.52" cy="91.91" r="1.15" fill="none" stroke="#a0a0a0" stroke-width="0.5"/>
<circle cx="122.36" cy="92.16" r="1.15" fill="none" stroke="#a0a0a0" stroke-width="0.5"/>
<circle cx="127.2" cy="94.13" r="1.15" fill="none" stroke="#a0a0a0" stroke-width="0.5"/>
<circle cx="132.04" cy="98.35" r="1.15" fill="none" stroke="#a0a0a0" stroke-width="0.5"/>
<circle cx="136.88" cy="100.37" r="1.15" fill="none" stroke="#a0a0a0" stroke-width="0.5"/>
<circle cx="141.72" cy="101.96" r="1.15" fill="none" stroke="#a0a0a0" stroke-width="0.5"/>
</g>
</g>
<line x1="52.43" y1="106.4" x2="52.43" y2="102.9" stroke="#262626" stroke-width="0.8"/>
<line x1="93.46" y1="106.4" x2="93.46" y2="102.9" stroke="#262626" stroke-width="0.8"/>
<line x1="134.49" y1="106.4" x2="134.49" y2="102.9" stroke="#262626" stroke-width="0.8"/>
<line x1="36.11" y1="106.4" x2="36.11" y2="104.4" stroke="#262626" stroke-width="0.6"/>
<line x1="40.08" y1="106.4" x2="40.08" y2="104.4" stroke="#262626" stroke-width="0.6"/>
<line x1="43.33" y1="106.4" x2="43.33" y2="104.4" stroke="#262626" stroke-width="0.6"/>
<line x1="46.08" y1="106.4" x2="46.08" y2="104.4" stroke="#262626" stroke-width="0.6"/>
<line x1="48.46" y1="106.4" x2="48.46" y2="104.4" stroke="#262626" stroke-width="0.6"/>
<line x1="50.56" y1="106.4" x2="50.56" y2="104.4" stroke="#262626" stroke-width="0.6"/>
<line x1="64.78" y1="106.4" x2="64.78" y2="104.4" stroke="#262626" stroke-width="0.6"/>
<line x1="72.01" y1="106.4" x2="72.01" y2="104.4" stroke="#262626" stroke-width="0.6"/>
<line x1="77.14" y1="106.4" x2="77.14" y2="104.4" stroke="#262626" stroke-width="0.6"/>
<line x1="81.11" y1="106.4" x2="81.11" y2="104.4" stroke="#262626" stroke-width="0.6"/>
<line x1="84.36" y1="106.4" x2="84.36" y2="104.4" stroke="#262626" stroke-width="0.6"/>
<line x1="87.11" y1="106.4" x2="87.11" y2="104.4" stroke="#262626" stroke-width="0.6"/>
<line x1="89.49" y1="106.4" x2="89.49" y2="104.4" stroke="#262626" stroke-width="0.6"/>
<line x1="91.59" y1="106.4" x2="91.59" y2="104.4" stroke="#262626" stroke-width="0.6"/>
<line x1="105.81" y1="106.4" x2="105.81" y2="104.4" stroke="#262626" stroke-width="0.6"/>
<line x1="113.04" y1="106.4" x2="113.04" y2="104.4" stroke="#262626" stroke-width="0.6"/>
<line x1="118.17" y1="106.4" x2="118.17" y2="104.4" stroke="#262626" stroke-width="0.6"/>
<line x1="122.14" y1="106.4" x2="122.14" y2="104.4" stroke="#262626" stroke-width="0.6"/>
<line x1="125.39" y1="106.4" x2="125.39" y2="104.4" stroke="#262626" stroke-width="0.6"/>
<line x1="128.14" y1="106.4" x2="128.14" y2="104.4" stroke="#262626" stroke-width="0.6"/>
<line x1="130.52" y1="106.4" x2="130.52" y2="104.4" stroke="#262626" stroke-width="0.6"/>
<line x1="132.62" y1="106.4" x2="132.62" y2="104.4" stroke="#262626" stroke-width="0.6"/>
<line x1="146.84" y1="106.4" x2="146.84" y2="104.4" stroke="#262626" stroke-width="0.6"/>
<line x1="35" y1="102.5" x2="38.5" y2="102.5" stroke="#262626" stroke-width="0.8"/>
<line x1="146.8" y1="102.5" x2="143.3" y2="102.5" stroke="#262626" stroke-width="0.8"/>
<line x1="35" y1="82.25" x2="38.5" y2="82.25" stroke="#262626" stroke-width="0.8"/>
<line x1="146.8" y1="82.25" x2="143.3" y2="82.25" stroke="#262626" stroke-width="0.8"/>
<line x1="35" y1="62" x2="38.5" y2="62" stroke="#262626" stroke-width="0.8"/>
<line x1="146.8" y1="62" x2="143.3" y2="62" stroke="#262626" stroke-width="0.8"/>
<line x1="35" y1="41.75" x2="38.5" y2="41.75" stroke="#262626" stroke-width="0.8"/>
<line x1="146.8" y1="41.75" x2="143.3" y2="41.75" stroke="#262626" stroke-width="0.8"/>
<line x1="35" y1="21.5" x2="38.5" y2="21.5" stroke="#262626" stroke-width="0.8"/>
<line x1="146.8" y1="21.5" x2="143.3" y2="21.5" stroke="#262626" stroke-width="0.8"/>
<rect x="35" y="15.55" width="111.8" height="90.85" fill="none" stroke="#333" stroke-width="1.0"/>
<text x="52.43" y="114.1" font-size="7.2" text-anchor="middle" fill="#262626"  textLength="10.2" lengthAdjust="spacingAndGlyphs" >0.1</text>
<text x="93.46" y="114.1" font-size="7.2" text-anchor="middle" fill="#262626"  textLength="10.2" lengthAdjust="spacingAndGlyphs" >1.0</text>
<text x="134.49" y="114.1" font-size="7.2" text-anchor="middle" fill="#262626"  textLength="14.2" lengthAdjust="spacingAndGlyphs" >10.0</text>
<text x="90.3" y="124.7" font-size="8.8" text-anchor="middle" fill="#262626"  textLength="49.5" lengthAdjust="spacingAndGlyphs" >Radius [µm]</text>
<text x="90.4" y="12" font-size="9.6" text-anchor="middle" fill="#262626"  font-weight="bold" textLength="39.6" lengthAdjust="spacingAndGlyphs" >Jun 2019</text>
<text x="35.2" y="12.9" font-size="8.6" text-anchor="start" fill="#262626"  textLength="8.2" lengthAdjust="spacingAndGlyphs" >a)</text>
<text x="32" y="104.95" font-size="7.2" text-anchor="end" fill="#262626"  textLength="14.2" lengthAdjust="spacingAndGlyphs" >0.00</text>
<text x="32" y="84.7" font-size="7.2" text-anchor="end" fill="#262626"  textLength="14.2" lengthAdjust="spacingAndGlyphs" >0.01</text>
<text x="32" y="64.45" font-size="7.2" text-anchor="end" fill="#262626"  textLength="14.2" lengthAdjust="spacingAndGlyphs" >0.02</text>
<text x="32" y="44.2" font-size="7.2" text-anchor="end" fill="#262626"  textLength="14.2" lengthAdjust="spacingAndGlyphs" >0.03</text>
<text x="32" y="23.95" font-size="7.2" text-anchor="end" fill="#262626"  textLength="14.2" lengthAdjust="spacingAndGlyphs" >0.04</text>
<text x="14.3" y="60.75" font-size="8.8" text-anchor="middle" fill="#262626"  textLength="83" lengthAdjust="spacingAndGlyphs" transform="rotate(-90 14.3 60.75)" >dV/dln(r) [µm<tspan dy="-2.8" font-size="6">3</tspan><tspan dy="2.8">/µm</tspan><tspan dy="-2.8" font-size="6">2</tspan><tspan dy="2.8">]</tspan></text>
<line x1="168.23" y1="15.55" x2="168.23" y2="106.4" stroke="#e8e8e8" stroke-width="0.6"/>
<line x1="209.26" y1="15.55" x2="209.26" y2="106.4" stroke="#e8e8e8" stroke-width="0.6"/>
<line x1="250.29" y1="15.55" x2="250.29" y2="106.4" stroke="#e8e8e8" stroke-width="0.6"/>
<line x1="150.8" y1="102.5" x2="262.6" y2="102.5" stroke="#e8e8e8" stroke-width="0.6"/>
<line x1="150.8" y1="82.25" x2="262.6" y2="82.25" stroke="#e8e8e8" stroke-width="0.6"/>
<line x1="150.8" y1="62" x2="262.6" y2="62" stroke="#e8e8e8" stroke-width="0.6"/>
<line x1="150.8" y1="41.75" x2="262.6" y2="41.75" stroke="#e8e8e8" stroke-width="0.6"/>
<line x1="150.8" y1="21.5" x2="262.6" y2="21.5" stroke="#e8e8e8" stroke-width="0.6"/>
<g clip-path="url(#ct1)">
<g opacity="1.0">
<path d="M155.88 101.49L160.72 94.4L165.56 70.1L170.4 55.12L175.24 45.6L180.08 57.14L184.92 72.12L189.76 86.3L194.6 94.4L199.44 98.45L204.28 97.5L209.12 97.66L213.96 97.23L218.8 96.61L223.64 96.29L228.48 96.3L233.32 96.65L238.16 97.34L243 98.37L247.84 99.57L252.68 100.78L257.52 101.81" fill="none" stroke="#a52a2a" stroke-width="0.7" stroke-linejoin="round"/>
<path d="M155.88 99.88L157.49 102.61L154.27 102.61Z" fill="none" stroke="#a52a2a" stroke-width="0.6"/>
<path d="M160.72 92.79L162.33 95.53L159.11 95.53Z" fill="none" stroke="#a52a2a" stroke-width="0.6"/>
<path d="M165.56 68.49L167.17 71.23L163.95 71.23Z" fill="none" stroke="#a52a2a" stroke-width="0.6"/>
<path d="M170.4 53.51L172.01 56.24L168.79 56.24Z" fill="none" stroke="#a52a2a" stroke-width="0.6"/>
<path d="M175.24 43.99L176.85 46.72L173.63 46.72Z" fill="none" stroke="#a52a2a" stroke-width="0.6"/>
<path d="M180.08 55.53L181.69 58.27L178.47 58.27Z" fill="none" stroke="#a52a2a" stroke-width="0.6"/>
<path d="M184.92 70.52L186.53 73.25L183.31 73.25Z" fill="none" stroke="#a52a2a" stroke-width="0.6"/>
<path d="M189.76 84.69L191.37 87.43L188.15 87.43Z" fill="none" stroke="#a52a2a" stroke-width="0.6"/>
<path d="M194.6 92.79L196.21 95.53L192.99 95.53Z" fill="none" stroke="#a52a2a" stroke-width="0.6"/>
<path d="M199.44 96.84L201.05 99.58L197.83 99.58Z" fill="none" stroke="#a52a2a" stroke-width="0.6"/>
<path d="M204.28 95.89L205.89 98.63L202.67 98.63Z" fill="none" stroke="#a52a2a" stroke-width="0.6"/>
<path d="M209.12 96.05L210.73 98.79L207.51 98.79Z" fill="none" stroke="#a52a2a" stroke-width="0.6"/>
<path d="M213.96 95.62L215.57 98.35L212.35 98.35Z" fill="none" stroke="#a52a2a" stroke-width="0.6"/>
<path d="M218.8 95L220.41 97.74L217.19 97.74Z" fill="none" stroke="#a52a2a" stroke-width="0.6"/>
<path d="M223.64 94.68L225.25 97.42L222.03 97.42Z" fill="none" stroke="#a52a2a" stroke-width="0.6"/>
<path d="M228.48 94.69L230.09 97.43L226.87 97.43Z" fill="none" stroke="#a52a2a" stroke-width="0.6"/>
<path d="M233.32 95.04L234.93 97.77L231.71 97.77Z" fill="none" stroke="#a52a2a" stroke-width="0.6"/>
<path d="M238.16 95.73L239.77 98.46L236.55 98.46Z" fill="none" stroke="#a52a2a" stroke-width="0.6"/>
<path d="M243 96.76L244.61 99.5L241.39 99.5Z" fill="none" stroke="#a52a2a" stroke-width="0.6"/>
<path d="M247.84 97.96L249.45 100.7L246.23 100.7Z" fill="none" stroke="#a52a2a" stroke-width="0.6"/>
<path d="M252.68 99.17L254.29 101.91L251.07 101.91Z" fill="none" stroke="#a52a2a" stroke-width="0.6"/>
<path d="M257.52 100.2L259.13 102.94L255.91 102.94Z" fill="none" stroke="#a52a2a" stroke-width="0.6"/>
</g>
<g opacity="1.0">
<path d="M155.88 101.69L160.72 99.26L165.56 91.36L170.4 76.58L175.24 66.05L180.08 66.05L184.92 76.58L189.76 90.35L194.6 97.44L199.44 99.26L204.28 98.41L209.12 98.52L213.96 98.16L218.8 97.65L223.64 97.39L228.48 97.39L233.32 97.68L238.16 98.25L243 99.1L247.84 100.09L252.68 101.08L257.52 101.93" fill="none" stroke="#a52a2a" stroke-width="0.7" stroke-linejoin="round"/>
<path d="M155.88 100.08L157.49 102.82L154.27 102.82Z" fill="none" stroke="#a52a2a" stroke-width="0.6"/>
<path d="M160.72 97.65L162.33 100.39L159.11 100.39Z" fill="none" stroke="#a52a2a" stroke-width="0.6"/>
<path d="M165.56 89.75L167.17 92.49L163.95 92.49Z" fill="none" stroke="#a52a2a" stroke-width="0.6"/>
<path d="M170.4 74.97L172.01 77.71L168.79 77.71Z" fill="none" stroke="#a52a2a" stroke-width="0.6"/>
<path d="M175.24 64.44L176.85 67.18L173.63 67.18Z" fill="none" stroke="#a52a2a" stroke-width="0.6"/>
<path d="M180.08 64.44L181.69 67.18L178.47 67.18Z" fill="none" stroke="#a52a2a" stroke-width="0.6"/>
<path d="M184.92 74.97L186.53 77.71L183.31 77.71Z" fill="none" stroke="#a52a2a" stroke-width="0.6"/>
<path d="M189.76 88.74L191.37 91.48L188.15 91.48Z" fill="none" stroke="#a52a2a" stroke-width="0.6"/>
<path d="M194.6 95.83L196.21 98.56L192.99 98.56Z" fill="none" stroke="#a52a2a" stroke-width="0.6"/>
<path d="M199.44 97.65L201.05 100.39L197.83 100.39Z" fill="none" stroke="#a52a2a" stroke-width="0.6"/>
<path d="M204.28 96.8L205.89 99.54L202.67 99.54Z" fill="none" stroke="#a52a2a" stroke-width="0.6"/>
<path d="M209.12 96.91L210.73 99.65L207.51 99.65Z" fill="none" stroke="#a52a2a" stroke-width="0.6"/>
<path d="M213.96 96.55L215.57 99.29L212.35 99.29Z" fill="none" stroke="#a52a2a" stroke-width="0.6"/>
<path d="M218.8 96.04L220.41 98.78L217.19 98.78Z" fill="none" stroke="#a52a2a" stroke-width="0.6"/>
<path d="M223.64 95.78L225.25 98.52L222.03 98.52Z" fill="none" stroke="#a52a2a" stroke-width="0.6"/>
<path d="M228.48 95.78L230.09 98.52L226.87 98.52Z" fill="none" stroke="#a52a2a" stroke-width="0.6"/>
<path d="M233.32 96.07L234.93 98.81L231.71 98.81Z" fill="none" stroke="#a52a2a" stroke-width="0.6"/>
<path d="M238.16 96.64L239.77 99.37L236.55 99.37Z" fill="none" stroke="#a52a2a" stroke-width="0.6"/>
<path d="M243 97.49L244.61 100.22L241.39 100.22Z" fill="none" stroke="#a52a2a" stroke-width="0.6"/>
<path d="M247.84 98.48L249.45 101.22L246.23 101.22Z" fill="none" stroke="#a52a2a" stroke-width="0.6"/>
<path d="M252.68 99.47L254.29 102.21L251.07 102.21Z" fill="none" stroke="#a52a2a" stroke-width="0.6"/>
<path d="M257.52 100.32L259.13 103.06L255.91 103.06Z" fill="none" stroke="#a52a2a" stroke-width="0.6"/>
</g>
<g opacity="1.0">
<path d="M155.88 101.49L160.72 94.4L165.56 62L170.4 39.93L175.24 37.7L180.08 45.8L184.92 59.97L189.76 74.15L194.6 88.33L199.44 96.42L204.28 97.11L209.12 97.74L213.96 97.48L218.8 96.94L223.64 96.65L228.48 96.66L233.32 96.99L238.16 97.64L243 98.61L247.84 99.75L252.68 100.88L257.52 101.85" fill="none" stroke="#b8b8b8" stroke-width="0.45" stroke-linejoin="round"/>
<circle cx="155.88" cy="101.49" r="1.4" fill="none" stroke="#9a9a9a" stroke-width="0.55"/>
<circle cx="160.72" cy="94.4" r="1.4" fill="none" stroke="#9a9a9a" stroke-width="0.55"/>
<circle cx="165.56" cy="62" r="1.4" fill="none" stroke="#9a9a9a" stroke-width="0.55"/>
<circle cx="170.4" cy="39.93" r="1.4" fill="none" stroke="#9a9a9a" stroke-width="0.55"/>
<circle cx="175.24" cy="37.7" r="1.4" fill="none" stroke="#9a9a9a" stroke-width="0.55"/>
<circle cx="180.08" cy="45.8" r="1.4" fill="none" stroke="#9a9a9a" stroke-width="0.55"/>
<circle cx="184.92" cy="59.97" r="1.4" fill="none" stroke="#9a9a9a" stroke-width="0.55"/>
<circle cx="189.76" cy="74.15" r="1.4" fill="none" stroke="#9a9a9a" stroke-width="0.55"/>
<circle cx="194.6" cy="88.33" r="1.4" fill="none" stroke="#9a9a9a" stroke-width="0.55"/>
<circle cx="199.44" cy="96.42" r="1.4" fill="none" stroke="#9a9a9a" stroke-width="0.55"/>
<circle cx="204.28" cy="97.11" r="1.4" fill="none" stroke="#9a9a9a" stroke-width="0.55"/>
<circle cx="209.12" cy="97.74" r="1.4" fill="none" stroke="#9a9a9a" stroke-width="0.55"/>
<circle cx="213.96" cy="97.48" r="1.4" fill="none" stroke="#9a9a9a" stroke-width="0.55"/>
<circle cx="218.8" cy="96.94" r="1.4" fill="none" stroke="#9a9a9a" stroke-width="0.55"/>
<circle cx="223.64" cy="96.65" r="1.4" fill="none" stroke="#9a9a9a" stroke-width="0.55"/>
<circle cx="228.48" cy="96.66" r="1.4" fill="none" stroke="#9a9a9a" stroke-width="0.55"/>
<circle cx="233.32" cy="96.99" r="1.4" fill="none" stroke="#9a9a9a" stroke-width="0.55"/>
<circle cx="238.16" cy="97.64" r="1.4" fill="none" stroke="#9a9a9a" stroke-width="0.55"/>
<circle cx="243" cy="98.61" r="1.4" fill="none" stroke="#9a9a9a" stroke-width="0.55"/>
<circle cx="247.84" cy="99.75" r="1.4" fill="none" stroke="#9a9a9a" stroke-width="0.55"/>
<circle cx="252.68" cy="100.88" r="1.4" fill="none" stroke="#9a9a9a" stroke-width="0.55"/>
<circle cx="257.52" cy="101.85" r="1.4" fill="none" stroke="#9a9a9a" stroke-width="0.55"/>
</g>
<g opacity="1.0">
<path d="M155.88 101.49L160.72 96.42L165.56 72.12L170.4 60.18L175.24 51.88L180.08 57.95L184.92 67.06L189.76 74.15L194.6 86.3L199.44 94.4L204.28 95.84L209.12 96.77L213.96 96.51L218.8 95.89L223.64 95.55L228.48 95.57L233.32 95.96L238.16 96.73L243 97.88L247.84 99.23L252.68 100.58L257.52 101.73" fill="none" stroke="#b8b8b8" stroke-width="0.45" stroke-linejoin="round"/>
<circle cx="155.88" cy="101.49" r="1.4" fill="none" stroke="#9a9a9a" stroke-width="0.55"/>
<circle cx="160.72" cy="96.42" r="1.4" fill="none" stroke="#9a9a9a" stroke-width="0.55"/>
<circle cx="165.56" cy="72.12" r="1.4" fill="none" stroke="#9a9a9a" stroke-width="0.55"/>
<circle cx="170.4" cy="60.18" r="1.4" fill="none" stroke="#9a9a9a" stroke-width="0.55"/>
<circle cx="175.24" cy="51.88" r="1.4" fill="none" stroke="#9a9a9a" stroke-width="0.55"/>
<circle cx="180.08" cy="57.95" r="1.4" fill="none" stroke="#9a9a9a" stroke-width="0.55"/>
<circle cx="184.92" cy="67.06" r="1.4" fill="none" stroke="#9a9a9a" stroke-width="0.55"/>
<circle cx="189.76" cy="74.15" r="1.4" fill="none" stroke="#9a9a9a" stroke-width="0.55"/>
<circle cx="194.6" cy="86.3" r="1.4" fill="none" stroke="#9a9a9a" stroke-width="0.55"/>
<circle cx="199.44" cy="94.4" r="1.4" fill="none" stroke="#9a9a9a" stroke-width="0.55"/>
<circle cx="204.28" cy="95.84" r="1.4" fill="none" stroke="#9a9a9a" stroke-width="0.55"/>
<circle cx="209.12" cy="96.77" r="1.4" fill="none" stroke="#9a9a9a" stroke-width="0.55"/>
<circle cx="213.96" cy="96.51" r="1.4" fill="none" stroke="#9a9a9a" stroke-width="0.55"/>
<circle cx="218.8" cy="95.89" r="1.4" fill="none" stroke="#9a9a9a" stroke-width="0.55"/>
<circle cx="223.64" cy="95.55" r="1.4" fill="none" stroke="#9a9a9a" stroke-width="0.55"/>
<circle cx="228.48" cy="95.57" r="1.4" fill="none" stroke="#9a9a9a" stroke-width="0.55"/>
<circle cx="233.32" cy="95.96" r="1.4" fill="none" stroke="#9a9a9a" stroke-width="0.55"/>
<circle cx="238.16" cy="96.73" r="1.4" fill="none" stroke="#9a9a9a" stroke-width="0.55"/>
<circle cx="243" cy="97.88" r="1.4" fill="none" stroke="#9a9a9a" stroke-width="0.55"/>
<circle cx="247.84" cy="99.23" r="1.4" fill="none" stroke="#9a9a9a" stroke-width="0.55"/>
<circle cx="252.68" cy="100.58" r="1.4" fill="none" stroke="#9a9a9a" stroke-width="0.55"/>
<circle cx="257.52" cy="101.73" r="1.4" fill="none" stroke="#9a9a9a" stroke-width="0.55"/>
</g>
<g opacity="1.0">
<path d="M155.88 101.69L160.72 96.42L165.56 78.2L170.4 66.05L175.24 62L180.08 64.03L184.92 70.1L189.76 78.2L194.6 90.35L199.44 96.42L204.28 97.34L209.12 98L213.96 97.78L218.8 97.29L223.64 97.02L228.48 97.03L233.32 97.33L238.16 97.94L243 98.85L247.84 99.92L252.68 100.98L257.52 101.89" fill="none" stroke="#b8b8b8" stroke-width="0.45" stroke-linejoin="round"/>
<circle cx="155.88" cy="101.69" r="1.4" fill="none" stroke="#9a9a9a" stroke-width="0.55"/>
<circle cx="160.72" cy="96.42" r="1.4" fill="none" stroke="#9a9a9a" stroke-width="0.55"/>
<circle cx="165.56" cy="78.2" r="1.4" fill="none" stroke="#9a9a9a" stroke-width="0.55"/>
<circle cx="170.4" cy="66.05" r="1.4" fill="none" stroke="#9a9a9a" stroke-width="0.55"/>
<circle cx="175.24" cy="62" r="1.4" fill="none" stroke="#9a9a9a" stroke-width="0.55"/>
<circle cx="180.08" cy="64.03" r="1.4" fill="none" stroke="#9a9a9a" stroke-width="0.55"/>
<circle cx="184.92" cy="70.1" r="1.4" fill="none" stroke="#9a9a9a" stroke-width="0.55"/>
<circle cx="189.76" cy="78.2" r="1.4" fill="none" stroke="#9a9a9a" stroke-width="0.55"/>
<circle cx="194.6" cy="90.35" r="1.4" fill="none" stroke="#9a9a9a" stroke-width="0.55"/>
<circle cx="199.44" cy="96.42" r="1.4" fill="none" stroke="#9a9a9a" stroke-width="0.55"/>
<circle cx="204.28" cy="97.34" r="1.4" fill="none" stroke="#9a9a9a" stroke-width="0.55"/>
<circle cx="209.12" cy="98" r="1.4" fill="none" stroke="#9a9a9a" stroke-width="0.55"/>
<circle cx="213.96" cy="97.78" r="1.4" fill="none" stroke="#9a9a9a" stroke-width="0.55"/>
<circle cx="218.8" cy="97.29" r="1.4" fill="none" stroke="#9a9a9a" stroke-width="0.55"/>
<circle cx="223.64" cy="97.02" r="1.4" fill="none" stroke="#9a9a9a" stroke-width="0.55"/>
<circle cx="228.48" cy="97.03" r="1.4" fill="none" stroke="#9a9a9a" stroke-width="0.55"/>
<circle cx="233.32" cy="97.33" r="1.4" fill="none" stroke="#9a9a9a" stroke-width="0.55"/>
<circle cx="238.16" cy="97.94" r="1.4" fill="none" stroke="#9a9a9a" stroke-width="0.55"/>
<circle cx="243" cy="98.85" r="1.4" fill="none" stroke="#9a9a9a" stroke-width="0.55"/>
<circle cx="247.84" cy="99.92" r="1.4" fill="none" stroke="#9a9a9a" stroke-width="0.55"/>
<circle cx="252.68" cy="100.98" r="1.4" fill="none" stroke="#9a9a9a" stroke-width="0.55"/>
<circle cx="257.52" cy="101.89" r="1.4" fill="none" stroke="#9a9a9a" stroke-width="0.55"/>
</g>
<g opacity="1.0">
<path d="M155.88 101.28L160.72 86.3L165.56 31.62L170.4 20.49L175.24 32.64L180.08 49.85L184.92 66.05L189.76 78.2L194.6 88.33L199.44 94.4L204.28 96.06L209.12 97.03L213.96 96.81L218.8 96.24L223.64 95.92L228.48 95.93L233.32 96.3L238.16 97.03L243 98.13L247.84 99.4L252.68 100.68L257.52 101.77" fill="none" stroke="#e070c4" stroke-width="0.6" stroke-linejoin="round"/>
<path d="M154.55 99.95L157.21 102.61M154.55 102.61L157.21 99.95" stroke="#e070c4" stroke-width="0.7150000000000001"/>
<path d="M159.39 84.97L162.05 87.63M159.39 87.63L162.05 84.97" stroke="#e070c4" stroke-width="0.7150000000000001"/>
<path d="M164.23 30.3L166.89 32.95M164.23 32.95L166.89 30.3" stroke="#e070c4" stroke-width="0.7150000000000001"/>
<path d="M169.07 19.16L171.73 21.82M169.07 21.82L171.73 19.16" stroke="#e070c4" stroke-width="0.7150000000000001"/>
<path d="M173.91 31.31L176.57 33.97M173.91 33.97L176.57 31.31" stroke="#e070c4" stroke-width="0.7150000000000001"/>
<path d="M178.75 48.52L181.41 51.18M178.75 51.18L181.41 48.52" stroke="#e070c4" stroke-width="0.7150000000000001"/>
<path d="M183.59 64.72L186.25 67.38M183.59 67.38L186.25 64.72" stroke="#e070c4" stroke-width="0.7150000000000001"/>
<path d="M188.43 76.87L191.09 79.53M188.43 79.53L191.09 76.87" stroke="#e070c4" stroke-width="0.7150000000000001"/>
<path d="M193.27 87L195.93 89.66M193.27 89.66L195.93 87" stroke="#e070c4" stroke-width="0.7150000000000001"/>
<path d="M198.11 93.07L200.77 95.73M198.11 95.73L200.77 93.07" stroke="#e070c4" stroke-width="0.7150000000000001"/>
<path d="M202.95 94.73L205.61 97.39M202.95 97.39L205.61 94.73" stroke="#e070c4" stroke-width="0.7150000000000001"/>
<path d="M207.79 95.7L210.45 98.36M207.79 98.36L210.45 95.7" stroke="#e070c4" stroke-width="0.7150000000000001"/>
<path d="M212.63 95.48L215.29 98.14M212.63 98.14L215.29 95.48" stroke="#e070c4" stroke-width="0.7150000000000001"/>
<path d="M217.47 94.91L220.13 97.57M217.47 97.57L220.13 94.91" stroke="#e070c4" stroke-width="0.7150000000000001"/>
<path d="M222.31 94.59L224.97 97.25M222.31 97.25L224.97 94.59" stroke="#e070c4" stroke-width="0.7150000000000001"/>
<path d="M227.15 94.6L229.81 97.26M227.15 97.26L229.81 94.6" stroke="#e070c4" stroke-width="0.7150000000000001"/>
<path d="M231.99 94.97L234.65 97.63M231.99 97.63L234.65 94.97" stroke="#e070c4" stroke-width="0.7150000000000001"/>
<path d="M236.83 95.7L239.49 98.36M236.83 98.36L239.49 95.7" stroke="#e070c4" stroke-width="0.7150000000000001"/>
<path d="M241.67 96.8L244.33 99.46M241.67 99.46L244.33 96.8" stroke="#e070c4" stroke-width="0.7150000000000001"/>
<path d="M246.51 98.07L249.17 100.73M246.51 100.73L249.17 98.07" stroke="#e070c4" stroke-width="0.7150000000000001"/>
<path d="M251.35 99.35L254.01 102.01M251.35 102.01L254.01 99.35" stroke="#e070c4" stroke-width="0.7150000000000001"/>
<path d="M256.19 100.44L258.85 103.1M256.19 103.1L258.85 100.44" stroke="#e070c4" stroke-width="0.7150000000000001"/>
</g>
<g opacity="1.0">
<path d="M155.88 101.49L160.72 88.33L165.56 41.75L170.4 32.03L175.24 41.75L180.08 53.9L184.92 66.05L189.76 76.17L194.6 86.3L199.44 92.38L204.28 94.56L209.12 95.8L213.96 95.54L218.8 94.84L223.64 94.46L228.48 94.47L233.32 94.92L238.16 95.82L243 97.15L247.84 98.71L252.68 100.27L257.52 101.61" fill="none" stroke="#e070c4" stroke-width="0.6" stroke-linejoin="round"/>
<path d="M154.55 100.16L157.21 102.82M154.55 102.82L157.21 100.16" stroke="#e070c4" stroke-width="0.7150000000000001"/>
<path d="M159.39 87L162.05 89.66M159.39 89.66L162.05 87" stroke="#e070c4" stroke-width="0.7150000000000001"/>
<path d="M164.23 40.42L166.89 43.08M164.23 43.08L166.89 40.42" stroke="#e070c4" stroke-width="0.7150000000000001"/>
<path d="M169.07 30.7L171.73 33.36M169.07 33.36L171.73 30.7" stroke="#e070c4" stroke-width="0.7150000000000001"/>
<path d="M173.91 40.42L176.57 43.08M173.91 43.08L176.57 40.42" stroke="#e070c4" stroke-width="0.7150000000000001"/>
<path d="M178.75 52.57L181.41 55.23M178.75 55.23L181.41 52.57" stroke="#e070c4" stroke-width="0.7150000000000001"/>
<path d="M183.59 64.72L186.25 67.38M183.59 67.38L186.25 64.72" stroke="#e070c4" stroke-width="0.7150000000000001"/>
<path d="M188.43 74.84L191.09 77.5M188.43 77.5L191.09 74.84" stroke="#e070c4" stroke-width="0.7150000000000001"/>
<path d="M193.27 84.97L195.93 87.63M193.27 87.63L195.93 84.97" stroke="#e070c4" stroke-width="0.7150000000000001"/>
<path d="M198.11 91.05L200.77 93.7M198.11 93.7L200.77 91.05" stroke="#e070c4" stroke-width="0.7150000000000001"/>
<path d="M202.95 93.23L205.61 95.89M202.95 95.89L205.61 93.23" stroke="#e070c4" stroke-width="0.7150000000000001"/>
<path d="M207.79 94.47L210.45 97.13M207.79 97.13L210.45 94.47" stroke="#e070c4" stroke-width="0.7150000000000001"/>
<path d="M212.63 94.21L215.29 96.87M212.63 96.87L215.29 94.21" stroke="#e070c4" stroke-width="0.7150000000000001"/>
<path d="M217.47 93.51L220.13 96.17M217.47 96.17L220.13 93.51" stroke="#e070c4" stroke-width="0.7150000000000001"/>
<path d="M222.31 93.13L224.97 95.79M222.31 95.79L224.97 93.13" stroke="#e070c4" stroke-width="0.7150000000000001"/>
<path d="M227.15 93.14L229.81 95.8M227.15 95.8L229.81 93.14" stroke="#e070c4" stroke-width="0.7150000000000001"/>
<path d="M231.99 93.59L234.65 96.25M231.99 96.25L234.65 93.59" stroke="#e070c4" stroke-width="0.7150000000000001"/>
<path d="M236.83 94.49L239.49 97.15M236.83 97.15L239.49 94.49" stroke="#e070c4" stroke-width="0.7150000000000001"/>
<path d="M241.67 95.82L244.33 98.48M241.67 98.48L244.33 95.82" stroke="#e070c4" stroke-width="0.7150000000000001"/>
<path d="M246.51 97.38L249.17 100.04M246.51 100.04L249.17 97.38" stroke="#e070c4" stroke-width="0.7150000000000001"/>
<path d="M251.35 98.94L254.01 101.6M251.35 101.6L254.01 98.94" stroke="#e070c4" stroke-width="0.7150000000000001"/>
<path d="M256.19 100.28L258.85 102.94M256.19 102.94L258.85 100.28" stroke="#e070c4" stroke-width="0.7150000000000001"/>
</g>
<g opacity="1.0">
<path d="M155.88 101.49L160.72 92.38L165.56 62L170.4 45.8L175.24 39.73L180.08 40.54L184.92 40.54L189.76 51.07L194.6 74.96L199.44 91.16L204.28 94.64L209.12 96.21L213.96 96.12L218.8 95.52L223.64 95.18L228.48 95.2L233.32 95.61L238.16 96.42L243 97.64L247.84 99.06L252.68 100.47L257.52 101.69" fill="none" stroke="#e070c4" stroke-width="0.6" stroke-linejoin="round"/>
<path d="M154.55 100.16L157.21 102.82M154.55 102.82L157.21 100.16" stroke="#e070c4" stroke-width="0.7150000000000001"/>
<path d="M159.39 91.05L162.05 93.7M159.39 93.7L162.05 91.05" stroke="#e070c4" stroke-width="0.7150000000000001"/>
<path d="M164.23 60.67L166.89 63.33M164.23 63.33L166.89 60.67" stroke="#e070c4" stroke-width="0.7150000000000001"/>
<path d="M169.07 44.47L171.73 47.13M169.07 47.13L171.73 44.47" stroke="#e070c4" stroke-width="0.7150000000000001"/>
<path d="M173.91 38.4L176.57 41.05M173.91 41.05L176.57 38.4" stroke="#e070c4" stroke-width="0.7150000000000001"/>
<path d="M178.75 39.21L181.41 41.87M178.75 41.87L181.41 39.21" stroke="#e070c4" stroke-width="0.7150000000000001"/>
<path d="M183.59 39.21L186.25 41.87M183.59 41.87L186.25 39.21" stroke="#e070c4" stroke-width="0.7150000000000001"/>
<path d="M188.43 49.74L191.09 52.4M188.43 52.4L191.09 49.74" stroke="#e070c4" stroke-width="0.7150000000000001"/>
<path d="M193.27 73.63L195.93 76.29M193.27 76.29L195.93 73.63" stroke="#e070c4" stroke-width="0.7150000000000001"/>
<path d="M198.11 89.83L200.77 92.49M198.11 92.49L200.77 89.83" stroke="#e070c4" stroke-width="0.7150000000000001"/>
<path d="M202.95 93.31L205.61 95.97M202.95 95.97L205.61 93.31" stroke="#e070c4" stroke-width="0.7150000000000001"/>
<path d="M207.79 94.88L210.45 97.54M207.79 97.54L210.45 94.88" stroke="#e070c4" stroke-width="0.7150000000000001"/>
<path d="M212.63 94.79L215.29 97.45M212.63 97.45L215.29 94.79" stroke="#e070c4" stroke-width="0.7150000000000001"/>
<path d="M217.47 94.19L220.13 96.85M217.47 96.85L220.13 94.19" stroke="#e070c4" stroke-width="0.7150000000000001"/>
<path d="M222.31 93.85L224.97 96.51M222.31 96.51L224.97 93.85" stroke="#e070c4" stroke-width="0.7150000000000001"/>
<path d="M227.15 93.87L229.81 96.53M227.15 96.53L229.81 93.87" stroke="#e070c4" stroke-width="0.7150000000000001"/>
<path d="M231.99 94.28L234.65 96.94M231.99 96.94L234.65 94.28" stroke="#e070c4" stroke-width="0.7150000000000001"/>
<path d="M236.83 95.09L239.49 97.75M236.83 97.75L239.49 95.09" stroke="#e070c4" stroke-width="0.7150000000000001"/>
<path d="M241.67 96.31L244.33 98.97M241.67 98.97L244.33 96.31" stroke="#e070c4" stroke-width="0.7150000000000001"/>
<path d="M246.51 97.73L249.17 100.39M246.51 100.39L249.17 97.73" stroke="#e070c4" stroke-width="0.7150000000000001"/>
<path d="M251.35 99.14L254.01 101.8M251.35 101.8L254.01 99.14" stroke="#e070c4" stroke-width="0.7150000000000001"/>
<path d="M256.19 100.36L258.85 103.02M256.19 103.02L258.85 100.36" stroke="#e070c4" stroke-width="0.7150000000000001"/>
</g>
<g opacity="1.0">
<path d="M155.88 101.49L160.72 90.35L165.56 51.88L170.4 35.67L175.24 37.7L180.08 43.77L184.92 54.1L189.76 59.16L194.6 76.17L199.44 90.35L204.28 93.73L209.12 95.35L213.96 95.19L218.8 94.48L223.64 94.09L228.48 94.11L233.32 94.58L238.16 95.51L243 96.91L247.84 98.54L252.68 100.17L257.52 101.57" fill="none" stroke="#e070c4" stroke-width="0.6" stroke-linejoin="round"/>
<path d="M154.55 100.16L157.21 102.82M154.55 102.82L157.21 100.16" stroke="#e070c4" stroke-width="0.7150000000000001"/>
<path d="M159.39 89.02L162.05 91.68M159.39 91.68L162.05 89.02" stroke="#e070c4" stroke-width="0.7150000000000001"/>
<path d="M164.23 50.55L166.89 53.2M164.23 53.2L166.89 50.55" stroke="#e070c4" stroke-width="0.7150000000000001"/>
<path d="M169.07 34.34L171.73 37M169.07 37L171.73 34.34" stroke="#e070c4" stroke-width="0.7150000000000001"/>
<path d="M173.91 36.37L176.57 39.03M173.91 39.03L176.57 36.37" stroke="#e070c4" stroke-width="0.7150000000000001"/>
<path d="M178.75 42.45L181.41 45.1M178.75 45.1L181.41 42.45" stroke="#e070c4" stroke-width="0.7150000000000001"/>
<path d="M183.59 52.77L186.25 55.43M183.59 55.43L186.25 52.77" stroke="#e070c4" stroke-width="0.7150000000000001"/>
<path d="M188.43 57.84L191.09 60.49M188.43 60.49L191.09 57.84" stroke="#e070c4" stroke-width="0.7150000000000001"/>
<path d="M193.27 74.84L195.93 77.5M193.27 77.5L195.93 74.84" stroke="#e070c4" stroke-width="0.7150000000000001"/>
<path d="M198.11 89.02L200.77 91.68M198.11 91.68L200.77 89.02" stroke="#e070c4" stroke-width="0.7150000000000001"/>
<path d="M202.95 92.4L205.61 95.06M202.95 95.06L205.61 92.4" stroke="#e070c4" stroke-width="0.7150000000000001"/>
<path d="M207.79 94.02L210.45 96.68M207.79 96.68L210.45 94.02" stroke="#e070c4" stroke-width="0.7150000000000001"/>
<path d="M212.63 93.86L215.29 96.52M212.63 96.52L215.29 93.86" stroke="#e070c4" stroke-width="0.7150000000000001"/>
<path d="M217.47 93.15L220.13 95.81M217.47 95.81L220.13 93.15" stroke="#e070c4" stroke-width="0.7150000000000001"/>
<path d="M222.31 92.76L224.97 95.42M222.31 95.42L224.97 92.76" stroke="#e070c4" stroke-width="0.7150000000000001"/>
<path d="M227.15 92.78L229.81 95.44M227.15 95.44L229.81 92.78" stroke="#e070c4" stroke-width="0.7150000000000001"/>
<path d="M231.99 93.25L234.65 95.91M231.99 95.91L234.65 93.25" stroke="#e070c4" stroke-width="0.7150000000000001"/>
<path d="M236.83 94.18L239.49 96.84M236.83 96.84L239.49 94.18" stroke="#e070c4" stroke-width="0.7150000000000001"/>
<path d="M241.67 95.58L244.33 98.24M241.67 98.24L244.33 95.58" stroke="#e070c4" stroke-width="0.7150000000000001"/>
<path d="M246.51 97.21L249.17 99.87M246.51 99.87L249.17 97.21" stroke="#e070c4" stroke-width="0.7150000000000001"/>
<path d="M251.35 98.84L254.01 101.5M251.35 101.5L254.01 98.84" stroke="#e070c4" stroke-width="0.7150000000000001"/>
<path d="M256.19 100.24L258.85 102.9M256.19 102.9L258.85 100.24" stroke="#e070c4" stroke-width="0.7150000000000001"/>
</g>
<g opacity="1.0">
<path d="M155.88 101.69L160.72 98.45L165.56 90.35L170.4 83.26L175.24 81.24L180.08 79.62L184.92 81.24L189.76 86.3L194.6 94.4L199.44 98.45L204.28 98.17L209.12 98.45L213.96 98.14L218.8 97.65L223.64 97.39L228.48 97.39L233.32 97.68L238.16 98.25L243 99.1L247.84 100.09L252.68 101.08L257.52 101.93" fill="none" stroke="#e070c4" stroke-width="0.6" stroke-linejoin="round"/>
<path d="M154.55 100.36L157.21 103.02M154.55 103.02L157.21 100.36" stroke="#e070c4" stroke-width="0.7150000000000001"/>
<path d="M159.39 97.12L162.05 99.78M159.39 99.78L162.05 97.12" stroke="#e070c4" stroke-width="0.7150000000000001"/>
<path d="M164.23 89.02L166.89 91.68M164.23 91.68L166.89 89.02" stroke="#e070c4" stroke-width="0.7150000000000001"/>
<path d="M169.07 81.93L171.73 84.59M169.07 84.59L171.73 81.93" stroke="#e070c4" stroke-width="0.7150000000000001"/>
<path d="M173.91 79.91L176.57 82.57M173.91 82.57L176.57 79.91" stroke="#e070c4" stroke-width="0.7150000000000001"/>
<path d="M178.75 78.29L181.41 80.95M178.75 80.95L181.41 78.29" stroke="#e070c4" stroke-width="0.7150000000000001"/>
<path d="M183.59 79.91L186.25 82.57M183.59 82.57L186.25 79.91" stroke="#e070c4" stroke-width="0.7150000000000001"/>
<path d="M188.43 84.97L191.09 87.63M188.43 87.63L191.09 84.97" stroke="#e070c4" stroke-width="0.7150000000000001"/>
<path d="M193.27 93.07L195.93 95.73M193.27 95.73L195.93 93.07" stroke="#e070c4" stroke-width="0.7150000000000001"/>
<path d="M198.11 97.12L200.77 99.78M198.11 99.78L200.77 97.12" stroke="#e070c4" stroke-width="0.7150000000000001"/>
<path d="M202.95 96.84L205.61 99.5M202.95 99.5L205.61 96.84" stroke="#e070c4" stroke-width="0.7150000000000001"/>
<path d="M207.79 97.12L210.45 99.78M207.79 99.78L210.45 97.12" stroke="#e070c4" stroke-width="0.7150000000000001"/>
<path d="M212.63 96.81L215.29 99.47M212.63 99.47L215.29 96.81" stroke="#e070c4" stroke-width="0.7150000000000001"/>
<path d="M217.47 96.32L220.13 98.98M217.47 98.98L220.13 96.32" stroke="#e070c4" stroke-width="0.7150000000000001"/>
<path d="M222.31 96.06L224.97 98.72M222.31 98.72L224.97 96.06" stroke="#e070c4" stroke-width="0.7150000000000001"/>
<path d="M227.15 96.06L229.81 98.72M227.15 98.72L229.81 96.06" stroke="#e070c4" stroke-width="0.7150000000000001"/>
<path d="M231.99 96.35L234.65 99.01M231.99 99.01L234.65 96.35" stroke="#e070c4" stroke-width="0.7150000000000001"/>
<path d="M236.83 96.92L239.49 99.58M236.83 99.58L239.49 96.92" stroke="#e070c4" stroke-width="0.7150000000000001"/>
<path d="M241.67 97.77L244.33 100.43M241.67 100.43L244.33 97.77" stroke="#e070c4" stroke-width="0.7150000000000001"/>
<path d="M246.51 98.76L249.17 101.42M246.51 101.42L249.17 98.76" stroke="#e070c4" stroke-width="0.7150000000000001"/>
<path d="M251.35 99.75L254.01 102.41M251.35 102.41L254.01 99.75" stroke="#e070c4" stroke-width="0.7150000000000001"/>
<path d="M256.19 100.6L258.85 103.26M256.19 103.26L258.85 100.6" stroke="#e070c4" stroke-width="0.7150000000000001"/>
</g>
<g opacity="1.0">
<path d="M155.88 101.49L160.72 92.38L165.56 66.05L170.4 49.85L175.24 47.83L180.08 55.93L184.92 64.03L189.76 74.15L194.6 84.28L199.44 94.4L204.28 95.84L209.12 96.77L213.96 96.51L218.8 95.89L223.64 95.55L228.48 95.57L233.32 95.96L238.16 96.73L243 97.88L247.84 99.23L252.68 100.58L257.52 101.73" fill="none" stroke="#e070c4" stroke-width="0.6" stroke-linejoin="round"/>
<path d="M154.55 100.16L157.21 102.82M154.55 102.82L157.21 100.16" stroke="#e070c4" stroke-width="0.7150000000000001"/>
<path d="M159.39 91.05L162.05 93.7M159.39 93.7L162.05 91.05" stroke="#e070c4" stroke-width="0.7150000000000001"/>
<path d="M164.23 64.72L166.89 67.38M164.23 67.38L166.89 64.72" stroke="#e070c4" stroke-width="0.7150000000000001"/>
<path d="M169.07 48.52L171.73 51.18M169.07 51.18L171.73 48.52" stroke="#e070c4" stroke-width="0.7150000000000001"/>
<path d="M173.91 46.5L176.57 49.16M173.91 49.16L176.57 46.5" stroke="#e070c4" stroke-width="0.7150000000000001"/>
<path d="M178.75 54.6L181.41 57.26M178.75 57.26L181.41 54.6" stroke="#e070c4" stroke-width="0.7150000000000001"/>
<path d="M183.59 62.7L186.25 65.36M183.59 65.36L186.25 62.7" stroke="#e070c4" stroke-width="0.7150000000000001"/>
<path d="M188.43 72.82L191.09 75.48M188.43 75.48L191.09 72.82" stroke="#e070c4" stroke-width="0.7150000000000001"/>
<path d="M193.27 82.95L195.93 85.61M193.27 85.61L195.93 82.95" stroke="#e070c4" stroke-width="0.7150000000000001"/>
<path d="M198.11 93.07L200.77 95.73M198.11 95.73L200.77 93.07" stroke="#e070c4" stroke-width="0.7150000000000001"/>
<path d="M202.95 94.51L205.61 97.17M202.95 97.17L205.61 94.51" stroke="#e070c4" stroke-width="0.7150000000000001"/>
<path d="M207.79 95.44L210.45 98.1M207.79 98.1L210.45 95.44" stroke="#e070c4" stroke-width="0.7150000000000001"/>
<path d="M212.63 95.18L215.29 97.84M212.63 97.84L215.29 95.18" stroke="#e070c4" stroke-width="0.7150000000000001"/>
<path d="M217.47 94.56L220.13 97.22M217.47 97.22L220.13 94.56" stroke="#e070c4" stroke-width="0.7150000000000001"/>
<path d="M222.31 94.22L224.97 96.88M222.31 96.88L224.97 94.22" stroke="#e070c4" stroke-width="0.7150000000000001"/>
<path d="M227.15 94.24L229.81 96.9M227.15 96.9L229.81 94.24" stroke="#e070c4" stroke-width="0.7150000000000001"/>
<path d="M231.99 94.63L234.65 97.29M231.99 97.29L234.65 94.63" stroke="#e070c4" stroke-width="0.7150000000000001"/>
<path d="M236.83 95.4L239.49 98.06M236.83 98.06L239.49 95.4" stroke="#e070c4" stroke-width="0.7150000000000001"/>
<path d="M241.67 96.55L244.33 99.21M241.67 99.21L244.33 96.55" stroke="#e070c4" stroke-width="0.7150000000000001"/>
<path d="M246.51 97.9L249.17 100.56M246.51 100.56L249.17 97.9" stroke="#e070c4" stroke-width="0.7150000000000001"/>
<path d="M251.35 99.25L254.01 101.91M251.35 101.91L254.01 99.25" stroke="#e070c4" stroke-width="0.7150000000000001"/>
<path d="M256.19 100.4L258.85 103.06M256.19 103.06L258.85 100.4" stroke="#e070c4" stroke-width="0.7150000000000001"/>
</g>
<g opacity="1.0">
<path d="M155.88 101.49L160.72 94.4L165.56 74.15L170.4 59.97L175.24 57.95L180.08 62L184.92 68.07L189.76 78.2L194.6 86.3L199.44 94.4L204.28 96.51L209.12 97.56L213.96 97.42L218.8 96.93L223.64 96.65L228.48 96.66L233.32 96.99L238.16 97.64L243 98.61L247.84 99.75L252.68 100.88L257.52 101.85" fill="none" stroke="#e070c4" stroke-width="0.6" stroke-linejoin="round"/>
<path d="M154.55 100.16L157.21 102.82M154.55 102.82L157.21 100.16" stroke="#e070c4" stroke-width="0.7150000000000001"/>
<path d="M159.39 93.07L162.05 95.73M159.39 95.73L162.05 93.07" stroke="#e070c4" stroke-width="0.7150000000000001"/>
<path d="M164.23 72.82L166.89 75.48M164.23 75.48L166.89 72.82" stroke="#e070c4" stroke-width="0.7150000000000001"/>
<path d="M169.07 58.64L171.73 61.3M169.07 61.3L171.73 58.64" stroke="#e070c4" stroke-width="0.7150000000000001"/>
<path d="M173.91 56.62L176.57 59.28M173.91 59.28L176.57 56.62" stroke="#e070c4" stroke-width="0.7150000000000001"/>
<path d="M178.75 60.67L181.41 63.33M178.75 63.33L181.41 60.67" stroke="#e070c4" stroke-width="0.7150000000000001"/>
<path d="M183.59 66.74L186.25 69.4M183.59 69.4L186.25 66.74" stroke="#e070c4" stroke-width="0.7150000000000001"/>
<path d="M188.43 76.87L191.09 79.53M188.43 79.53L191.09 76.87" stroke="#e070c4" stroke-width="0.7150000000000001"/>
<path d="M193.27 84.97L195.93 87.63M193.27 87.63L195.93 84.97" stroke="#e070c4" stroke-width="0.7150000000000001"/>
<path d="M198.11 93.07L200.77 95.73M198.11 95.73L200.77 93.07" stroke="#e070c4" stroke-width="0.7150000000000001"/>
<path d="M202.95 95.18L205.61 97.84M202.95 97.84L205.61 95.18" stroke="#e070c4" stroke-width="0.7150000000000001"/>
<path d="M207.79 96.23L210.45 98.89M207.79 98.89L210.45 96.23" stroke="#e070c4" stroke-width="0.7150000000000001"/>
<path d="M212.63 96.09L215.29 98.75M212.63 98.75L215.29 96.09" stroke="#e070c4" stroke-width="0.7150000000000001"/>
<path d="M217.47 95.6L220.13 98.26M217.47 98.26L220.13 95.6" stroke="#e070c4" stroke-width="0.7150000000000001"/>
<path d="M222.31 95.32L224.97 97.98M222.31 97.98L224.97 95.32" stroke="#e070c4" stroke-width="0.7150000000000001"/>
<path d="M227.15 95.33L229.81 97.99M227.15 97.99L229.81 95.33" stroke="#e070c4" stroke-width="0.7150000000000001"/>
<path d="M231.99 95.66L234.65 98.32M231.99 98.32L234.65 95.66" stroke="#e070c4" stroke-width="0.7150000000000001"/>
<path d="M236.83 96.31L239.49 98.97M236.83 98.97L239.49 96.31" stroke="#e070c4" stroke-width="0.7150000000000001"/>
<path d="M241.67 97.28L244.33 99.94M241.67 99.94L244.33 97.28" stroke="#e070c4" stroke-width="0.7150000000000001"/>
<path d="M246.51 98.42L249.17 101.08M246.51 101.08L249.17 98.42" stroke="#e070c4" stroke-width="0.7150000000000001"/>
<path d="M251.35 99.55L254.01 102.21M251.35 102.21L254.01 99.55" stroke="#e070c4" stroke-width="0.7150000000000001"/>
<path d="M256.19 100.52L258.85 103.18M256.19 103.18L258.85 100.52" stroke="#e070c4" stroke-width="0.7150000000000001"/>
</g>
</g>
<line x1="168.23" y1="106.4" x2="168.23" y2="102.9" stroke="#262626" stroke-width="0.8"/>
<line x1="209.26" y1="106.4" x2="209.26" y2="102.9" stroke="#262626" stroke-width="0.8"/>
<line x1="250.29" y1="106.4" x2="250.29" y2="102.9" stroke="#262626" stroke-width="0.8"/>
<line x1="151.91" y1="106.4" x2="151.91" y2="104.4" stroke="#262626" stroke-width="0.6"/>
<line x1="155.88" y1="106.4" x2="155.88" y2="104.4" stroke="#262626" stroke-width="0.6"/>
<line x1="159.13" y1="106.4" x2="159.13" y2="104.4" stroke="#262626" stroke-width="0.6"/>
<line x1="161.88" y1="106.4" x2="161.88" y2="104.4" stroke="#262626" stroke-width="0.6"/>
<line x1="164.26" y1="106.4" x2="164.26" y2="104.4" stroke="#262626" stroke-width="0.6"/>
<line x1="166.36" y1="106.4" x2="166.36" y2="104.4" stroke="#262626" stroke-width="0.6"/>
<line x1="180.58" y1="106.4" x2="180.58" y2="104.4" stroke="#262626" stroke-width="0.6"/>
<line x1="187.81" y1="106.4" x2="187.81" y2="104.4" stroke="#262626" stroke-width="0.6"/>
<line x1="192.94" y1="106.4" x2="192.94" y2="104.4" stroke="#262626" stroke-width="0.6"/>
<line x1="196.91" y1="106.4" x2="196.91" y2="104.4" stroke="#262626" stroke-width="0.6"/>
<line x1="200.16" y1="106.4" x2="200.16" y2="104.4" stroke="#262626" stroke-width="0.6"/>
<line x1="202.91" y1="106.4" x2="202.91" y2="104.4" stroke="#262626" stroke-width="0.6"/>
<line x1="205.29" y1="106.4" x2="205.29" y2="104.4" stroke="#262626" stroke-width="0.6"/>
<line x1="207.39" y1="106.4" x2="207.39" y2="104.4" stroke="#262626" stroke-width="0.6"/>
<line x1="221.61" y1="106.4" x2="221.61" y2="104.4" stroke="#262626" stroke-width="0.6"/>
<line x1="228.84" y1="106.4" x2="228.84" y2="104.4" stroke="#262626" stroke-width="0.6"/>
<line x1="233.97" y1="106.4" x2="233.97" y2="104.4" stroke="#262626" stroke-width="0.6"/>
<line x1="237.94" y1="106.4" x2="237.94" y2="104.4" stroke="#262626" stroke-width="0.6"/>
<line x1="241.19" y1="106.4" x2="241.19" y2="104.4" stroke="#262626" stroke-width="0.6"/>
<line x1="243.94" y1="106.4" x2="243.94" y2="104.4" stroke="#262626" stroke-width="0.6"/>
<line x1="246.32" y1="106.4" x2="246.32" y2="104.4" stroke="#262626" stroke-width="0.6"/>
<line x1="248.42" y1="106.4" x2="248.42" y2="104.4" stroke="#262626" stroke-width="0.6"/>
<line x1="262.64" y1="106.4" x2="262.64" y2="104.4" stroke="#262626" stroke-width="0.6"/>
<line x1="150.8" y1="102.5" x2="154.3" y2="102.5" stroke="#262626" stroke-width="0.8"/>
<line x1="262.6" y1="102.5" x2="259.1" y2="102.5" stroke="#262626" stroke-width="0.8"/>
<line x1="150.8" y1="82.25" x2="154.3" y2="82.25" stroke="#262626" stroke-width="0.8"/>
<line x1="262.6" y1="82.25" x2="259.1" y2="82.25" stroke="#262626" stroke-width="0.8"/>
<line x1="150.8" y1="62" x2="154.3" y2="62" stroke="#262626" stroke-width="0.8"/>
<line x1="262.6" y1="62" x2="259.1" y2="62" stroke="#262626" stroke-width="0.8"/>
<line x1="150.8" y1="41.75" x2="154.3" y2="41.75" stroke="#262626" stroke-width="0.8"/>
<line x1="262.6" y1="41.75" x2="259.1" y2="41.75" stroke="#262626" stroke-width="0.8"/>
<line x1="150.8" y1="21.5" x2="154.3" y2="21.5" stroke="#262626" stroke-width="0.8"/>
<line x1="262.6" y1="21.5" x2="259.1" y2="21.5" stroke="#262626" stroke-width="0.8"/>
<rect x="150.8" y="15.55" width="111.8" height="90.85" fill="none" stroke="#333" stroke-width="1.0"/>
<text x="168.23" y="114.1" font-size="7.2" text-anchor="middle" fill="#262626"  textLength="10.2" lengthAdjust="spacingAndGlyphs" >0.1</text>
<text x="209.26" y="114.1" font-size="7.2" text-anchor="middle" fill="#262626"  textLength="10.2" lengthAdjust="spacingAndGlyphs" >1.0</text>
<text x="250.29" y="114.1" font-size="7.2" text-anchor="middle" fill="#262626"  textLength="14.2" lengthAdjust="spacingAndGlyphs" >10.0</text>
<text x="206.7" y="124.7" font-size="8.8" text-anchor="middle" fill="#262626"  textLength="49.5" lengthAdjust="spacingAndGlyphs" >Radius [µm]</text>
<text x="206.4" y="12" font-size="9.6" text-anchor="middle" fill="#262626"  font-weight="bold" textLength="37" lengthAdjust="spacingAndGlyphs" >Jul 2019</text>
<text x="151" y="12.9" font-size="8.6" text-anchor="start" fill="#262626"  textLength="8.2" lengthAdjust="spacingAndGlyphs" >b)</text>
<line x1="284.03" y1="15.55" x2="284.03" y2="106.4" stroke="#e8e8e8" stroke-width="0.6"/>
<line x1="325.06" y1="15.55" x2="325.06" y2="106.4" stroke="#e8e8e8" stroke-width="0.6"/>
<line x1="366.09" y1="15.55" x2="366.09" y2="106.4" stroke="#e8e8e8" stroke-width="0.6"/>
<line x1="266.6" y1="102.5" x2="378.4" y2="102.5" stroke="#e8e8e8" stroke-width="0.6"/>
<line x1="266.6" y1="82.25" x2="378.4" y2="82.25" stroke="#e8e8e8" stroke-width="0.6"/>
<line x1="266.6" y1="62" x2="378.4" y2="62" stroke="#e8e8e8" stroke-width="0.6"/>
<line x1="266.6" y1="41.75" x2="378.4" y2="41.75" stroke="#e8e8e8" stroke-width="0.6"/>
<line x1="266.6" y1="21.5" x2="378.4" y2="21.5" stroke="#e8e8e8" stroke-width="0.6"/>
<g clip-path="url(#ct2)">
<g opacity="0.9">
<path d="M271.68 101.28L276.52 92.98L281.36 80.22L286.2 49.85L291.04 36.69L295.88 42.16L300.72 53.9L305.56 66.05L310.4 73.75L315.24 88.33L320.08 91.56L324.92 94.54L329.76 95.66L334.6 96.15L339.44 96.45L344.28 96.92L349.12 97.6L353.96 98.27L358.8 98.94L363.64 100.05L368.48 100.94L373.32 101.83" fill="none" stroke="#ff0000" stroke-width="0.6" stroke-linejoin="round"/>
<rect x="270.45" y="100.05" width="2.47" height="2.47" fill="none" stroke="#ff0000" stroke-width="0.6"/>
<rect x="275.29" y="91.75" width="2.47" height="2.47" fill="none" stroke="#ff0000" stroke-width="0.6"/>
<rect x="280.13" y="78.99" width="2.47" height="2.47" fill="none" stroke="#ff0000" stroke-width="0.6"/>
<rect x="284.97" y="48.62" width="2.47" height="2.47" fill="none" stroke="#ff0000" stroke-width="0.6"/>
<rect x="289.81" y="35.45" width="2.47" height="2.47" fill="none" stroke="#ff0000" stroke-width="0.6"/>
<rect x="294.65" y="40.92" width="2.47" height="2.47" fill="none" stroke="#ff0000" stroke-width="0.6"/>
<rect x="299.49" y="52.66" width="2.47" height="2.47" fill="none" stroke="#ff0000" stroke-width="0.6"/>
<rect x="304.33" y="64.82" width="2.47" height="2.47" fill="none" stroke="#ff0000" stroke-width="0.6"/>
<rect x="309.17" y="72.51" width="2.47" height="2.47" fill="none" stroke="#ff0000" stroke-width="0.6"/>
<rect x="314.01" y="87.09" width="2.47" height="2.47" fill="none" stroke="#ff0000" stroke-width="0.6"/>
<rect x="318.85" y="90.33" width="2.47" height="2.47" fill="none" stroke="#ff0000" stroke-width="0.6"/>
<rect x="323.68" y="93.31" width="2.47" height="2.47" fill="none" stroke="#ff0000" stroke-width="0.6"/>
<rect x="328.52" y="94.42" width="2.47" height="2.47" fill="none" stroke="#ff0000" stroke-width="0.6"/>
<rect x="333.36" y="94.91" width="2.47" height="2.47" fill="none" stroke="#ff0000" stroke-width="0.6"/>
<rect x="338.2" y="95.22" width="2.47" height="2.47" fill="none" stroke="#ff0000" stroke-width="0.6"/>
<rect x="343.04" y="95.69" width="2.47" height="2.47" fill="none" stroke="#ff0000" stroke-width="0.6"/>
<rect x="347.88" y="96.36" width="2.47" height="2.47" fill="none" stroke="#ff0000" stroke-width="0.6"/>
<rect x="352.72" y="97.03" width="2.47" height="2.47" fill="none" stroke="#ff0000" stroke-width="0.6"/>
<rect x="357.56" y="97.7" width="2.47" height="2.47" fill="none" stroke="#ff0000" stroke-width="0.6"/>
<rect x="362.4" y="98.81" width="2.47" height="2.47" fill="none" stroke="#ff0000" stroke-width="0.6"/>
<rect x="367.24" y="99.71" width="2.47" height="2.47" fill="none" stroke="#ff0000" stroke-width="0.6"/>
<rect x="372.08" y="100.6" width="2.47" height="2.47" fill="none" stroke="#ff0000" stroke-width="0.6"/>
</g>
<g opacity="0.9">
<path d="M271.68 101.49L276.52 96.42L281.36 84.28L286.2 57.95L291.04 41.55L295.88 48.84L300.72 56.94L305.56 68.07L310.4 78.2L315.24 90.35L320.08 93.08L324.92 95.64L329.76 96.59L334.6 97.02L339.44 97.28L344.28 97.68L349.12 98.27L353.96 98.84L358.8 99.42L363.64 100.38L368.48 101.15L373.32 101.92" fill="none" stroke="#ff0000" stroke-width="0.6" stroke-linejoin="round"/>
<rect x="270.45" y="100.25" width="2.47" height="2.47" fill="none" stroke="#ff0000" stroke-width="0.6"/>
<rect x="275.29" y="95.19" width="2.47" height="2.47" fill="none" stroke="#ff0000" stroke-width="0.6"/>
<rect x="280.13" y="83.04" width="2.47" height="2.47" fill="none" stroke="#ff0000" stroke-width="0.6"/>
<rect x="284.97" y="56.72" width="2.47" height="2.47" fill="none" stroke="#ff0000" stroke-width="0.6"/>
<rect x="289.81" y="40.31" width="2.47" height="2.47" fill="none" stroke="#ff0000" stroke-width="0.6"/>
<rect x="294.65" y="47.6" width="2.47" height="2.47" fill="none" stroke="#ff0000" stroke-width="0.6"/>
<rect x="299.49" y="55.7" width="2.47" height="2.47" fill="none" stroke="#ff0000" stroke-width="0.6"/>
<rect x="304.33" y="66.84" width="2.47" height="2.47" fill="none" stroke="#ff0000" stroke-width="0.6"/>
<rect x="309.17" y="76.97" width="2.47" height="2.47" fill="none" stroke="#ff0000" stroke-width="0.6"/>
<rect x="314.01" y="89.11" width="2.47" height="2.47" fill="none" stroke="#ff0000" stroke-width="0.6"/>
<rect x="318.85" y="91.85" width="2.47" height="2.47" fill="none" stroke="#ff0000" stroke-width="0.6"/>
<rect x="323.68" y="94.4" width="2.47" height="2.47" fill="none" stroke="#ff0000" stroke-width="0.6"/>
<rect x="328.52" y="95.36" width="2.47" height="2.47" fill="none" stroke="#ff0000" stroke-width="0.6"/>
<rect x="333.36" y="95.78" width="2.47" height="2.47" fill="none" stroke="#ff0000" stroke-width="0.6"/>
<rect x="338.2" y="96.04" width="2.47" height="2.47" fill="none" stroke="#ff0000" stroke-width="0.6"/>
<rect x="343.04" y="96.45" width="2.47" height="2.47" fill="none" stroke="#ff0000" stroke-width="0.6"/>
<rect x="347.88" y="97.03" width="2.47" height="2.47" fill="none" stroke="#ff0000" stroke-width="0.6"/>
<rect x="352.72" y="97.61" width="2.47" height="2.47" fill="none" stroke="#ff0000" stroke-width="0.6"/>
<rect x="357.56" y="98.19" width="2.47" height="2.47" fill="none" stroke="#ff0000" stroke-width="0.6"/>
<rect x="362.4" y="99.15" width="2.47" height="2.47" fill="none" stroke="#ff0000" stroke-width="0.6"/>
<rect x="367.24" y="99.92" width="2.47" height="2.47" fill="none" stroke="#ff0000" stroke-width="0.6"/>
<rect x="372.08" y="100.69" width="2.47" height="2.47" fill="none" stroke="#ff0000" stroke-width="0.6"/>
</g>
<g opacity="0.9">
<path d="M271.68 101.69L276.52 98.45L281.36 90.35L286.2 80.22L291.04 62L295.88 54.91L300.72 57.95L305.56 68.07L310.4 80.22L315.24 90.35L320.08 93.69L324.92 96.24L329.76 97.18L334.6 97.58L339.44 97.82L344.28 98.19L349.12 98.71L353.96 99.23L358.8 99.75L363.64 100.61L368.48 101.3L373.32 101.98" fill="none" stroke="#ff0000" stroke-width="0.6" stroke-linejoin="round"/>
<rect x="270.45" y="100.45" width="2.47" height="2.47" fill="none" stroke="#ff0000" stroke-width="0.6"/>
<rect x="275.29" y="97.22" width="2.47" height="2.47" fill="none" stroke="#ff0000" stroke-width="0.6"/>
<rect x="280.13" y="89.11" width="2.47" height="2.47" fill="none" stroke="#ff0000" stroke-width="0.6"/>
<rect x="284.97" y="78.99" width="2.47" height="2.47" fill="none" stroke="#ff0000" stroke-width="0.6"/>
<rect x="289.81" y="60.77" width="2.47" height="2.47" fill="none" stroke="#ff0000" stroke-width="0.6"/>
<rect x="294.65" y="53.68" width="2.47" height="2.47" fill="none" stroke="#ff0000" stroke-width="0.6"/>
<rect x="299.49" y="56.72" width="2.47" height="2.47" fill="none" stroke="#ff0000" stroke-width="0.6"/>
<rect x="304.33" y="66.84" width="2.47" height="2.47" fill="none" stroke="#ff0000" stroke-width="0.6"/>
<rect x="309.17" y="78.99" width="2.47" height="2.47" fill="none" stroke="#ff0000" stroke-width="0.6"/>
<rect x="314.01" y="89.11" width="2.47" height="2.47" fill="none" stroke="#ff0000" stroke-width="0.6"/>
<rect x="318.85" y="92.46" width="2.47" height="2.47" fill="none" stroke="#ff0000" stroke-width="0.6"/>
<rect x="323.68" y="95.01" width="2.47" height="2.47" fill="none" stroke="#ff0000" stroke-width="0.6"/>
<rect x="328.52" y="95.95" width="2.47" height="2.47" fill="none" stroke="#ff0000" stroke-width="0.6"/>
<rect x="333.36" y="96.35" width="2.47" height="2.47" fill="none" stroke="#ff0000" stroke-width="0.6"/>
<rect x="338.2" y="96.59" width="2.47" height="2.47" fill="none" stroke="#ff0000" stroke-width="0.6"/>
<rect x="343.04" y="96.95" width="2.47" height="2.47" fill="none" stroke="#ff0000" stroke-width="0.6"/>
<rect x="347.88" y="97.48" width="2.47" height="2.47" fill="none" stroke="#ff0000" stroke-width="0.6"/>
<rect x="352.72" y="97.99" width="2.47" height="2.47" fill="none" stroke="#ff0000" stroke-width="0.6"/>
<rect x="357.56" y="98.51" width="2.47" height="2.47" fill="none" stroke="#ff0000" stroke-width="0.6"/>
<rect x="362.4" y="99.37" width="2.47" height="2.47" fill="none" stroke="#ff0000" stroke-width="0.6"/>
<rect x="367.24" y="100.06" width="2.47" height="2.47" fill="none" stroke="#ff0000" stroke-width="0.6"/>
<rect x="372.08" y="100.75" width="2.47" height="2.47" fill="none" stroke="#ff0000" stroke-width="0.6"/>
</g>
<g opacity="0.9">
<path d="M271.68 101.69L276.52 99.46L281.36 94.4L286.2 86.91L291.04 71.72L295.88 61.59L300.72 62L305.56 70.1L310.4 80.22L315.24 92.38L320.08 94.91L324.92 97.03L329.76 97.82L334.6 98.17L339.44 98.37L344.28 98.7L349.12 99.16L353.96 99.61L358.8 100.07L363.64 100.83L368.48 101.44L373.32 102.04" fill="none" stroke="#ff0000" stroke-width="0.6" stroke-linejoin="round"/>
<rect x="270.45" y="100.45" width="2.47" height="2.47" fill="none" stroke="#ff0000" stroke-width="0.6"/>
<rect x="275.29" y="98.23" width="2.47" height="2.47" fill="none" stroke="#ff0000" stroke-width="0.6"/>
<rect x="280.13" y="93.17" width="2.47" height="2.47" fill="none" stroke="#ff0000" stroke-width="0.6"/>
<rect x="284.97" y="85.67" width="2.47" height="2.47" fill="none" stroke="#ff0000" stroke-width="0.6"/>
<rect x="289.81" y="70.48" width="2.47" height="2.47" fill="none" stroke="#ff0000" stroke-width="0.6"/>
<rect x="294.65" y="60.36" width="2.47" height="2.47" fill="none" stroke="#ff0000" stroke-width="0.6"/>
<rect x="299.49" y="60.77" width="2.47" height="2.47" fill="none" stroke="#ff0000" stroke-width="0.6"/>
<rect x="304.33" y="68.86" width="2.47" height="2.47" fill="none" stroke="#ff0000" stroke-width="0.6"/>
<rect x="309.17" y="78.99" width="2.47" height="2.47" fill="none" stroke="#ff0000" stroke-width="0.6"/>
<rect x="314.01" y="91.14" width="2.47" height="2.47" fill="none" stroke="#ff0000" stroke-width="0.6"/>
<rect x="318.85" y="93.67" width="2.47" height="2.47" fill="none" stroke="#ff0000" stroke-width="0.6"/>
<rect x="323.68" y="95.8" width="2.47" height="2.47" fill="none" stroke="#ff0000" stroke-width="0.6"/>
<rect x="328.52" y="96.59" width="2.47" height="2.47" fill="none" stroke="#ff0000" stroke-width="0.6"/>
<rect x="333.36" y="96.93" width="2.47" height="2.47" fill="none" stroke="#ff0000" stroke-width="0.6"/>
<rect x="338.2" y="97.14" width="2.47" height="2.47" fill="none" stroke="#ff0000" stroke-width="0.6"/>
<rect x="343.04" y="97.46" width="2.47" height="2.47" fill="none" stroke="#ff0000" stroke-width="0.6"/>
<rect x="347.88" y="97.92" width="2.47" height="2.47" fill="none" stroke="#ff0000" stroke-width="0.6"/>
<rect x="352.72" y="98.38" width="2.47" height="2.47" fill="none" stroke="#ff0000" stroke-width="0.6"/>
<rect x="357.56" y="98.83" width="2.47" height="2.47" fill="none" stroke="#ff0000" stroke-width="0.6"/>
<rect x="362.4" y="99.59" width="2.47" height="2.47" fill="none" stroke="#ff0000" stroke-width="0.6"/>
<rect x="367.24" y="100.2" width="2.47" height="2.47" fill="none" stroke="#ff0000" stroke-width="0.6"/>
<rect x="372.08" y="100.81" width="2.47" height="2.47" fill="none" stroke="#ff0000" stroke-width="0.6"/>
</g>
<g opacity="0.9">
<path d="M271.68 101.69L276.52 100.07L281.36 96.02L286.2 86.3L291.04 75.77L295.88 70.1L300.72 68.07L305.56 72.12L310.4 82.25L315.24 92.38L320.08 95.51L324.92 97.64L329.76 98.41L334.6 98.73L339.44 98.92L344.28 99.2L349.12 99.6L353.96 100L358.8 100.39L363.64 101.05L368.48 101.58L373.32 102.09" fill="none" stroke="#ff0000" stroke-width="0.6" stroke-linejoin="round"/>
<rect x="270.45" y="100.45" width="2.47" height="2.47" fill="none" stroke="#ff0000" stroke-width="0.6"/>
<rect x="275.29" y="98.83" width="2.47" height="2.47" fill="none" stroke="#ff0000" stroke-width="0.6"/>
<rect x="280.13" y="94.78" width="2.47" height="2.47" fill="none" stroke="#ff0000" stroke-width="0.6"/>
<rect x="284.97" y="85.06" width="2.47" height="2.47" fill="none" stroke="#ff0000" stroke-width="0.6"/>
<rect x="289.81" y="74.53" width="2.47" height="2.47" fill="none" stroke="#ff0000" stroke-width="0.6"/>
<rect x="294.65" y="68.86" width="2.47" height="2.47" fill="none" stroke="#ff0000" stroke-width="0.6"/>
<rect x="299.49" y="66.84" width="2.47" height="2.47" fill="none" stroke="#ff0000" stroke-width="0.6"/>
<rect x="304.33" y="70.89" width="2.47" height="2.47" fill="none" stroke="#ff0000" stroke-width="0.6"/>
<rect x="309.17" y="81.02" width="2.47" height="2.47" fill="none" stroke="#ff0000" stroke-width="0.6"/>
<rect x="314.01" y="91.14" width="2.47" height="2.47" fill="none" stroke="#ff0000" stroke-width="0.6"/>
<rect x="318.85" y="94.28" width="2.47" height="2.47" fill="none" stroke="#ff0000" stroke-width="0.6"/>
<rect x="323.68" y="96.41" width="2.47" height="2.47" fill="none" stroke="#ff0000" stroke-width="0.6"/>
<rect x="328.52" y="97.17" width="2.47" height="2.47" fill="none" stroke="#ff0000" stroke-width="0.6"/>
<rect x="333.36" y="97.5" width="2.47" height="2.47" fill="none" stroke="#ff0000" stroke-width="0.6"/>
<rect x="338.2" y="97.69" width="2.47" height="2.47" fill="none" stroke="#ff0000" stroke-width="0.6"/>
<rect x="343.04" y="97.97" width="2.47" height="2.47" fill="none" stroke="#ff0000" stroke-width="0.6"/>
<rect x="347.88" y="98.37" width="2.47" height="2.47" fill="none" stroke="#ff0000" stroke-width="0.6"/>
<rect x="352.72" y="98.76" width="2.47" height="2.47" fill="none" stroke="#ff0000" stroke-width="0.6"/>
<rect x="357.56" y="99.16" width="2.47" height="2.47" fill="none" stroke="#ff0000" stroke-width="0.6"/>
<rect x="362.4" y="99.82" width="2.47" height="2.47" fill="none" stroke="#ff0000" stroke-width="0.6"/>
<rect x="367.24" y="100.34" width="2.47" height="2.47" fill="none" stroke="#ff0000" stroke-width="0.6"/>
<rect x="372.08" y="100.86" width="2.47" height="2.47" fill="none" stroke="#ff0000" stroke-width="0.6"/>
</g>
<g opacity="1.0">
<path d="M271.68 101.69L276.52 82.05L281.36 32.44L286.2 19.47L291.04 49.65L295.88 62L300.72 72.12L305.56 80.22L310.4 88.33L315.24 93.39L320.08 97.34L324.92 99.25L329.76 100.03L334.6 100.2L339.44 100.25L344.28 100.47L349.12 100.68L353.96 100.88L358.8 101.08L363.64 101.28L368.48 101.69L373.32 101.89" fill="none" stroke="#b8b8b8" stroke-width="0.45" stroke-linejoin="round"/>
<circle cx="271.68" cy="101.69" r="1.4" fill="none" stroke="#9a9a9a" stroke-width="0.55"/>
<circle cx="276.52" cy="82.05" r="1.4" fill="none" stroke="#9a9a9a" stroke-width="0.55"/>
<circle cx="281.36" cy="32.44" r="1.4" fill="none" stroke="#9a9a9a" stroke-width="0.55"/>
<circle cx="286.2" cy="19.47" r="1.4" fill="none" stroke="#9a9a9a" stroke-width="0.55"/>
<circle cx="291.04" cy="49.65" r="1.4" fill="none" stroke="#9a9a9a" stroke-width="0.55"/>
<circle cx="295.88" cy="62" r="1.4" fill="none" stroke="#9a9a9a" stroke-width="0.55"/>
<circle cx="300.72" cy="72.12" r="1.4" fill="none" stroke="#9a9a9a" stroke-width="0.55"/>
<circle cx="305.56" cy="80.22" r="1.4" fill="none" stroke="#9a9a9a" stroke-width="0.55"/>
<circle cx="310.4" cy="88.33" r="1.4" fill="none" stroke="#9a9a9a" stroke-width="0.55"/>
<circle cx="315.24" cy="93.39" r="1.4" fill="none" stroke="#9a9a9a" stroke-width="0.55"/>
<circle cx="320.08" cy="97.34" r="1.4" fill="none" stroke="#9a9a9a" stroke-width="0.55"/>
<circle cx="324.92" cy="99.25" r="1.4" fill="none" stroke="#9a9a9a" stroke-width="0.55"/>
<circle cx="329.76" cy="100.03" r="1.4" fill="none" stroke="#9a9a9a" stroke-width="0.55"/>
<circle cx="334.6" cy="100.2" r="1.4" fill="none" stroke="#9a9a9a" stroke-width="0.55"/>
<circle cx="339.44" cy="100.25" r="1.4" fill="none" stroke="#9a9a9a" stroke-width="0.55"/>
<circle cx="344.28" cy="100.47" r="1.4" fill="none" stroke="#9a9a9a" stroke-width="0.55"/>
<circle cx="349.12" cy="100.68" r="1.4" fill="none" stroke="#9a9a9a" stroke-width="0.55"/>
<circle cx="353.96" cy="100.88" r="1.4" fill="none" stroke="#9a9a9a" stroke-width="0.55"/>
<circle cx="358.8" cy="101.08" r="1.4" fill="none" stroke="#9a9a9a" stroke-width="0.55"/>
<circle cx="363.64" cy="101.28" r="1.4" fill="none" stroke="#9a9a9a" stroke-width="0.55"/>
<circle cx="368.48" cy="101.69" r="1.4" fill="none" stroke="#9a9a9a" stroke-width="0.55"/>
<circle cx="373.32" cy="101.89" r="1.4" fill="none" stroke="#9a9a9a" stroke-width="0.55"/>
</g>
<g opacity="1.0">
<path d="M271.68 101.69L276.52 96.42L281.36 66.45L286.2 71.11L291.04 67.27L295.88 68.07L300.72 68.48L305.56 70.1L310.4 77.19L315.24 85.69L320.08 93.59L324.92 97.64L329.76 99.54L334.6 100.05L339.44 100.21L344.28 100.46L349.12 100.67L353.96 100.88L358.8 101.08L363.64 101.28L368.48 101.69L373.32 101.89" fill="none" stroke="#b8b8b8" stroke-width="0.45" stroke-linejoin="round"/>
<circle cx="271.68" cy="101.69" r="1.4" fill="none" stroke="#9a9a9a" stroke-width="0.55"/>
<circle cx="276.52" cy="96.42" r="1.4" fill="none" stroke="#9a9a9a" stroke-width="0.55"/>
<circle cx="281.36" cy="66.45" r="1.4" fill="none" stroke="#9a9a9a" stroke-width="0.55"/>
<circle cx="286.2" cy="71.11" r="1.4" fill="none" stroke="#9a9a9a" stroke-width="0.55"/>
<circle cx="291.04" cy="67.27" r="1.4" fill="none" stroke="#9a9a9a" stroke-width="0.55"/>
<circle cx="295.88" cy="68.07" r="1.4" fill="none" stroke="#9a9a9a" stroke-width="0.55"/>
<circle cx="300.72" cy="68.48" r="1.4" fill="none" stroke="#9a9a9a" stroke-width="0.55"/>
<circle cx="305.56" cy="70.1" r="1.4" fill="none" stroke="#9a9a9a" stroke-width="0.55"/>
<circle cx="310.4" cy="77.19" r="1.4" fill="none" stroke="#9a9a9a" stroke-width="0.55"/>
<circle cx="315.24" cy="85.69" r="1.4" fill="none" stroke="#9a9a9a" stroke-width="0.55"/>
<circle cx="320.08" cy="93.59" r="1.4" fill="none" stroke="#9a9a9a" stroke-width="0.55"/>
<circle cx="324.92" cy="97.64" r="1.4" fill="none" stroke="#9a9a9a" stroke-width="0.55"/>
<circle cx="329.76" cy="99.54" r="1.4" fill="none" stroke="#9a9a9a" stroke-width="0.55"/>
<circle cx="334.6" cy="100.05" r="1.4" fill="none" stroke="#9a9a9a" stroke-width="0.55"/>
<circle cx="339.44" cy="100.21" r="1.4" fill="none" stroke="#9a9a9a" stroke-width="0.55"/>
<circle cx="344.28" cy="100.46" r="1.4" fill="none" stroke="#9a9a9a" stroke-width="0.55"/>
<circle cx="349.12" cy="100.67" r="1.4" fill="none" stroke="#9a9a9a" stroke-width="0.55"/>
<circle cx="353.96" cy="100.88" r="1.4" fill="none" stroke="#9a9a9a" stroke-width="0.55"/>
<circle cx="358.8" cy="101.08" r="1.4" fill="none" stroke="#9a9a9a" stroke-width="0.55"/>
<circle cx="363.64" cy="101.28" r="1.4" fill="none" stroke="#9a9a9a" stroke-width="0.55"/>
<circle cx="368.48" cy="101.69" r="1.4" fill="none" stroke="#9a9a9a" stroke-width="0.55"/>
<circle cx="373.32" cy="101.89" r="1.4" fill="none" stroke="#9a9a9a" stroke-width="0.55"/>
</g>
<g opacity="1.0">
<path d="M271.68 101.69L276.52 96.42L281.36 78.2L286.2 62L291.04 57.95L295.88 62L300.72 68.07L305.56 76.17L310.4 84.28L315.24 92.38L320.08 97.03L324.92 99.16L329.76 100L334.6 100.19L339.44 100.25L344.28 100.47L349.12 100.68L353.96 100.88L358.8 101.08L363.64 101.28L368.48 101.69L373.32 101.89" fill="none" stroke="#b8b8b8" stroke-width="0.45" stroke-linejoin="round"/>
<circle cx="271.68" cy="101.69" r="1.4" fill="none" stroke="#9a9a9a" stroke-width="0.55"/>
<circle cx="276.52" cy="96.42" r="1.4" fill="none" stroke="#9a9a9a" stroke-width="0.55"/>
<circle cx="281.36" cy="78.2" r="1.4" fill="none" stroke="#9a9a9a" stroke-width="0.55"/>
<circle cx="286.2" cy="62" r="1.4" fill="none" stroke="#9a9a9a" stroke-width="0.55"/>
<circle cx="291.04" cy="57.95" r="1.4" fill="none" stroke="#9a9a9a" stroke-width="0.55"/>
<circle cx="295.88" cy="62" r="1.4" fill="none" stroke="#9a9a9a" stroke-width="0.55"/>
<circle cx="300.72" cy="68.07" r="1.4" fill="none" stroke="#9a9a9a" stroke-width="0.55"/>
<circle cx="305.56" cy="76.17" r="1.4" fill="none" stroke="#9a9a9a" stroke-width="0.55"/>
<circle cx="310.4" cy="84.28" r="1.4" fill="none" stroke="#9a9a9a" stroke-width="0.55"/>
<circle cx="315.24" cy="92.38" r="1.4" fill="none" stroke="#9a9a9a" stroke-width="0.55"/>
<circle cx="320.08" cy="97.03" r="1.4" fill="none" stroke="#9a9a9a" stroke-width="0.55"/>
<circle cx="324.92" cy="99.16" r="1.4" fill="none" stroke="#9a9a9a" stroke-width="0.55"/>
<circle cx="329.76" cy="100" r="1.4" fill="none" stroke="#9a9a9a" stroke-width="0.55"/>
<circle cx="334.6" cy="100.19" r="1.4" fill="none" stroke="#9a9a9a" stroke-width="0.55"/>
<circle cx="339.44" cy="100.25" r="1.4" fill="none" stroke="#9a9a9a" stroke-width="0.55"/>
<circle cx="344.28" cy="100.47" r="1.4" fill="none" stroke="#9a9a9a" stroke-width="0.55"/>
<circle cx="349.12" cy="100.68" r="1.4" fill="none" stroke="#9a9a9a" stroke-width="0.55"/>
<circle cx="353.96" cy="100.88" r="1.4" fill="none" stroke="#9a9a9a" stroke-width="0.55"/>
<circle cx="358.8" cy="101.08" r="1.4" fill="none" stroke="#9a9a9a" stroke-width="0.55"/>
<circle cx="363.64" cy="101.28" r="1.4" fill="none" stroke="#9a9a9a" stroke-width="0.55"/>
<circle cx="368.48" cy="101.69" r="1.4" fill="none" stroke="#9a9a9a" stroke-width="0.55"/>
<circle cx="373.32" cy="101.89" r="1.4" fill="none" stroke="#9a9a9a" stroke-width="0.55"/>
</g>
</g>
<line x1="284.03" y1="106.4" x2="284.03" y2="102.9" stroke="#262626" stroke-width="0.8"/>
<line x1="325.06" y1="106.4" x2="325.06" y2="102.9" stroke="#262626" stroke-width="0.8"/>
<line x1="366.09" y1="106.4" x2="366.09" y2="102.9" stroke="#262626" stroke-width="0.8"/>
<line x1="267.71" y1="106.4" x2="267.71" y2="104.4" stroke="#262626" stroke-width="0.6"/>
<line x1="271.68" y1="106.4" x2="271.68" y2="104.4" stroke="#262626" stroke-width="0.6"/>
<line x1="274.93" y1="106.4" x2="274.93" y2="104.4" stroke="#262626" stroke-width="0.6"/>
<line x1="277.68" y1="106.4" x2="277.68" y2="104.4" stroke="#262626" stroke-width="0.6"/>
<line x1="280.06" y1="106.4" x2="280.06" y2="104.4" stroke="#262626" stroke-width="0.6"/>
<line x1="282.16" y1="106.4" x2="282.16" y2="104.4" stroke="#262626" stroke-width="0.6"/>
<line x1="296.38" y1="106.4" x2="296.38" y2="104.4" stroke="#262626" stroke-width="0.6"/>
<line x1="303.61" y1="106.4" x2="303.61" y2="104.4" stroke="#262626" stroke-width="0.6"/>
<line x1="308.74" y1="106.4" x2="308.74" y2="104.4" stroke="#262626" stroke-width="0.6"/>
<line x1="312.71" y1="106.4" x2="312.71" y2="104.4" stroke="#262626" stroke-width="0.6"/>
<line x1="315.96" y1="106.4" x2="315.96" y2="104.4" stroke="#262626" stroke-width="0.6"/>
<line x1="318.71" y1="106.4" x2="318.71" y2="104.4" stroke="#262626" stroke-width="0.6"/>
<line x1="321.09" y1="106.4" x2="321.09" y2="104.4" stroke="#262626" stroke-width="0.6"/>
<line x1="323.19" y1="106.4" x2="323.19" y2="104.4" stroke="#262626" stroke-width="0.6"/>
<line x1="337.41" y1="106.4" x2="337.41" y2="104.4" stroke="#262626" stroke-width="0.6"/>
<line x1="344.64" y1="106.4" x2="344.64" y2="104.4" stroke="#262626" stroke-width="0.6"/>
<line x1="349.77" y1="106.4" x2="349.77" y2="104.4" stroke="#262626" stroke-width="0.6"/>
<line x1="353.74" y1="106.4" x2="353.74" y2="104.4" stroke="#262626" stroke-width="0.6"/>
<line x1="356.99" y1="106.4" x2="356.99" y2="104.4" stroke="#262626" stroke-width="0.6"/>
<line x1="359.74" y1="106.4" x2="359.74" y2="104.4" stroke="#262626" stroke-width="0.6"/>
<line x1="362.12" y1="106.4" x2="362.12" y2="104.4" stroke="#262626" stroke-width="0.6"/>
<line x1="364.22" y1="106.4" x2="364.22" y2="104.4" stroke="#262626" stroke-width="0.6"/>
<line x1="378.44" y1="106.4" x2="378.44" y2="104.4" stroke="#262626" stroke-width="0.6"/>
<line x1="266.6" y1="102.5" x2="270.1" y2="102.5" stroke="#262626" stroke-width="0.8"/>
<line x1="378.4" y1="102.5" x2="374.9" y2="102.5" stroke="#262626" stroke-width="0.8"/>
<line x1="266.6" y1="82.25" x2="270.1" y2="82.25" stroke="#262626" stroke-width="0.8"/>
<line x1="378.4" y1="82.25" x2="374.9" y2="82.25" stroke="#262626" stroke-width="0.8"/>
<line x1="266.6" y1="62" x2="270.1" y2="62" stroke="#262626" stroke-width="0.8"/>
<line x1="378.4" y1="62" x2="374.9" y2="62" stroke="#262626" stroke-width="0.8"/>
<line x1="266.6" y1="41.75" x2="270.1" y2="41.75" stroke="#262626" stroke-width="0.8"/>
<line x1="378.4" y1="41.75" x2="374.9" y2="41.75" stroke="#262626" stroke-width="0.8"/>
<line x1="266.6" y1="21.5" x2="270.1" y2="21.5" stroke="#262626" stroke-width="0.8"/>
<line x1="378.4" y1="21.5" x2="374.9" y2="21.5" stroke="#262626" stroke-width="0.8"/>
<rect x="266.6" y="15.55" width="111.8" height="90.85" fill="none" stroke="#333" stroke-width="1.0"/>
<text x="284.03" y="114.1" font-size="7.2" text-anchor="middle" fill="#262626"  textLength="10.2" lengthAdjust="spacingAndGlyphs" >0.1</text>
<text x="325.06" y="114.1" font-size="7.2" text-anchor="middle" fill="#262626"  textLength="10.2" lengthAdjust="spacingAndGlyphs" >1.0</text>
<text x="366.09" y="114.1" font-size="7.2" text-anchor="middle" fill="#262626"  textLength="14.2" lengthAdjust="spacingAndGlyphs" >10.0</text>
<text x="322.5" y="124.7" font-size="8.8" text-anchor="middle" fill="#262626"  textLength="49.5" lengthAdjust="spacingAndGlyphs" >Radius [µm]</text>
<text x="322.5" y="12" font-size="9.6" text-anchor="middle" fill="#262626"  font-weight="bold" textLength="42.6" lengthAdjust="spacingAndGlyphs" >Aug 2019</text>
<text x="266.8" y="12.9" font-size="8.6" text-anchor="start" fill="#262626"  textLength="8.2" lengthAdjust="spacingAndGlyphs" >c)</text>
<line x1="400.13" y1="15.55" x2="400.13" y2="106.4" stroke="#e8e8e8" stroke-width="0.6"/>
<line x1="441.16" y1="15.55" x2="441.16" y2="106.4" stroke="#e8e8e8" stroke-width="0.6"/>
<line x1="482.19" y1="15.55" x2="482.19" y2="106.4" stroke="#e8e8e8" stroke-width="0.6"/>
<line x1="382.7" y1="102.5" x2="494.5" y2="102.5" stroke="#e8e8e8" stroke-width="0.6"/>
<line x1="382.7" y1="82.25" x2="494.5" y2="82.25" stroke="#e8e8e8" stroke-width="0.6"/>
<line x1="382.7" y1="62" x2="494.5" y2="62" stroke="#e8e8e8" stroke-width="0.6"/>
<line x1="382.7" y1="41.75" x2="494.5" y2="41.75" stroke="#e8e8e8" stroke-width="0.6"/>
<line x1="382.7" y1="21.5" x2="494.5" y2="21.5" stroke="#e8e8e8" stroke-width="0.6"/>
<g clip-path="url(#ct3)">
<g opacity="1.0">
<path d="M387.78 101.28L392.62 91.36L397.46 60.99L402.3 44.38L407.14 58.96L411.98 73.14L416.82 78.4L421.66 79.62L426.5 84.48L431.34 93.39L436.18 98.45L441.02 99.87L445.86 99.87L450.7 98.65L455.54 96.83L460.38 95.01L465.22 95.41L470.06 96.83L474.9 99.87L479.74 101.28L484.58 101.49L489.42 101.89" fill="none" stroke="#b8b8b8" stroke-width="0.45" stroke-linejoin="round"/>
<circle cx="387.78" cy="101.28" r="1.4" fill="none" stroke="#9a9a9a" stroke-width="0.55"/>
<circle cx="392.62" cy="91.36" r="1.4" fill="none" stroke="#9a9a9a" stroke-width="0.55"/>
<circle cx="397.46" cy="60.99" r="1.4" fill="none" stroke="#9a9a9a" stroke-width="0.55"/>
<circle cx="402.3" cy="44.38" r="1.4" fill="none" stroke="#9a9a9a" stroke-width="0.55"/>
<circle cx="407.14" cy="58.96" r="1.4" fill="none" stroke="#9a9a9a" stroke-width="0.55"/>
<circle cx="411.98" cy="73.14" r="1.4" fill="none" stroke="#9a9a9a" stroke-width="0.55"/>
<circle cx="416.82" cy="78.4" r="1.4" fill="none" stroke="#9a9a9a" stroke-width="0.55"/>
<circle cx="421.66" cy="79.62" r="1.4" fill="none" stroke="#9a9a9a" stroke-width="0.55"/>
<circle cx="426.5" cy="84.48" r="1.4" fill="none" stroke="#9a9a9a" stroke-width="0.55"/>
<circle cx="431.34" cy="93.39" r="1.4" fill="none" stroke="#9a9a9a" stroke-width="0.55"/>
<circle cx="436.18" cy="98.45" r="1.4" fill="none" stroke="#9a9a9a" stroke-width="0.55"/>
<circle cx="441.02" cy="99.87" r="1.4" fill="none" stroke="#9a9a9a" stroke-width="0.55"/>
<circle cx="445.86" cy="99.87" r="1.4" fill="none" stroke="#9a9a9a" stroke-width="0.55"/>
<circle cx="450.7" cy="98.65" r="1.4" fill="none" stroke="#9a9a9a" stroke-width="0.55"/>
<circle cx="455.54" cy="96.83" r="1.4" fill="none" stroke="#9a9a9a" stroke-width="0.55"/>
<circle cx="460.38" cy="95.01" r="1.4" fill="none" stroke="#9a9a9a" stroke-width="0.55"/>
<circle cx="465.22" cy="95.41" r="1.4" fill="none" stroke="#9a9a9a" stroke-width="0.55"/>
<circle cx="470.06" cy="96.83" r="1.4" fill="none" stroke="#9a9a9a" stroke-width="0.55"/>
<circle cx="474.9" cy="99.87" r="1.4" fill="none" stroke="#9a9a9a" stroke-width="0.55"/>
<circle cx="479.74" cy="101.28" r="1.4" fill="none" stroke="#9a9a9a" stroke-width="0.55"/>
<circle cx="484.58" cy="101.49" r="1.4" fill="none" stroke="#9a9a9a" stroke-width="0.55"/>
<circle cx="489.42" cy="101.89" r="1.4" fill="none" stroke="#9a9a9a" stroke-width="0.55"/>
</g>
<g opacity="1.0">
<path d="M387.78 101.28L392.62 93.39L397.46 62L402.3 49.65L407.14 69.29L411.98 81.03L416.82 82.05L421.66 80.22L426.5 84.48L431.34 93.39L436.18 98.45L441.02 99.87L445.86 99.87L450.7 98.65L455.54 97.23L460.38 97.44L465.22 98.65L470.06 99.26L474.9 99.87L479.74 101.28L484.58 101.49L489.42 101.89" fill="none" stroke="#b8b8b8" stroke-width="0.45" stroke-linejoin="round"/>
<circle cx="387.78" cy="101.28" r="1.4" fill="none" stroke="#9a9a9a" stroke-width="0.55"/>
<circle cx="392.62" cy="93.39" r="1.4" fill="none" stroke="#9a9a9a" stroke-width="0.55"/>
<circle cx="397.46" cy="62" r="1.4" fill="none" stroke="#9a9a9a" stroke-width="0.55"/>
<circle cx="402.3" cy="49.65" r="1.4" fill="none" stroke="#9a9a9a" stroke-width="0.55"/>
<circle cx="407.14" cy="69.29" r="1.4" fill="none" stroke="#9a9a9a" stroke-width="0.55"/>
<circle cx="411.98" cy="81.03" r="1.4" fill="none" stroke="#9a9a9a" stroke-width="0.55"/>
<circle cx="416.82" cy="82.05" r="1.4" fill="none" stroke="#9a9a9a" stroke-width="0.55"/>
<circle cx="421.66" cy="80.22" r="1.4" fill="none" stroke="#9a9a9a" stroke-width="0.55"/>
<circle cx="426.5" cy="84.48" r="1.4" fill="none" stroke="#9a9a9a" stroke-width="0.55"/>
<circle cx="431.34" cy="93.39" r="1.4" fill="none" stroke="#9a9a9a" stroke-width="0.55"/>
<circle cx="436.18" cy="98.45" r="1.4" fill="none" stroke="#9a9a9a" stroke-width="0.55"/>
<circle cx="441.02" cy="99.87" r="1.4" fill="none" stroke="#9a9a9a" stroke-width="0.55"/>
<circle cx="445.86" cy="99.87" r="1.4" fill="none" stroke="#9a9a9a" stroke-width="0.55"/>
<circle cx="450.7" cy="98.65" r="1.4" fill="none" stroke="#9a9a9a" stroke-width="0.55"/>
<circle cx="455.54" cy="97.23" r="1.4" fill="none" stroke="#9a9a9a" stroke-width="0.55"/>
<circle cx="460.38" cy="97.44" r="1.4" fill="none" stroke="#9a9a9a" stroke-width="0.55"/>
<circle cx="465.22" cy="98.65" r="1.4" fill="none" stroke="#9a9a9a" stroke-width="0.55"/>
<circle cx="470.06" cy="99.26" r="1.4" fill="none" stroke="#9a9a9a" stroke-width="0.55"/>
<circle cx="474.9" cy="99.87" r="1.4" fill="none" stroke="#9a9a9a" stroke-width="0.55"/>
<circle cx="479.74" cy="101.28" r="1.4" fill="none" stroke="#9a9a9a" stroke-width="0.55"/>
<circle cx="484.58" cy="101.49" r="1.4" fill="none" stroke="#9a9a9a" stroke-width="0.55"/>
<circle cx="489.42" cy="101.89" r="1.4" fill="none" stroke="#9a9a9a" stroke-width="0.55"/>
</g>
</g>
<line x1="400.13" y1="106.4" x2="400.13" y2="102.9" stroke="#262626" stroke-width="0.8"/>
<line x1="441.16" y1="106.4" x2="441.16" y2="102.9" stroke="#262626" stroke-width="0.8"/>
<line x1="482.19" y1="106.4" x2="482.19" y2="102.9" stroke="#262626" stroke-width="0.8"/>
<line x1="383.81" y1="106.4" x2="383.81" y2="104.4" stroke="#262626" stroke-width="0.6"/>
<line x1="387.78" y1="106.4" x2="387.78" y2="104.4" stroke="#262626" stroke-width="0.6"/>
<line x1="391.03" y1="106.4" x2="391.03" y2="104.4" stroke="#262626" stroke-width="0.6"/>
<line x1="393.78" y1="106.4" x2="393.78" y2="104.4" stroke="#262626" stroke-width="0.6"/>
<line x1="396.16" y1="106.4" x2="396.16" y2="104.4" stroke="#262626" stroke-width="0.6"/>
<line x1="398.26" y1="106.4" x2="398.26" y2="104.4" stroke="#262626" stroke-width="0.6"/>
<line x1="412.48" y1="106.4" x2="412.48" y2="104.4" stroke="#262626" stroke-width="0.6"/>
<line x1="419.71" y1="106.4" x2="419.71" y2="104.4" stroke="#262626" stroke-width="0.6"/>
<line x1="424.84" y1="106.4" x2="424.84" y2="104.4" stroke="#262626" stroke-width="0.6"/>
<line x1="428.81" y1="106.4" x2="428.81" y2="104.4" stroke="#262626" stroke-width="0.6"/>
<line x1="432.06" y1="106.4" x2="432.06" y2="104.4" stroke="#262626" stroke-width="0.6"/>
<line x1="434.81" y1="106.4" x2="434.81" y2="104.4" stroke="#262626" stroke-width="0.6"/>
<line x1="437.19" y1="106.4" x2="437.19" y2="104.4" stroke="#262626" stroke-width="0.6"/>
<line x1="439.29" y1="106.4" x2="439.29" y2="104.4" stroke="#262626" stroke-width="0.6"/>
<line x1="453.51" y1="106.4" x2="453.51" y2="104.4" stroke="#262626" stroke-width="0.6"/>
<line x1="460.74" y1="106.4" x2="460.74" y2="104.4" stroke="#262626" stroke-width="0.6"/>
<line x1="465.87" y1="106.4" x2="465.87" y2="104.4" stroke="#262626" stroke-width="0.6"/>
<line x1="469.84" y1="106.4" x2="469.84" y2="104.4" stroke="#262626" stroke-width="0.6"/>
<line x1="473.09" y1="106.4" x2="473.09" y2="104.4" stroke="#262626" stroke-width="0.6"/>
<line x1="475.84" y1="106.4" x2="475.84" y2="104.4" stroke="#262626" stroke-width="0.6"/>
<line x1="478.22" y1="106.4" x2="478.22" y2="104.4" stroke="#262626" stroke-width="0.6"/>
<line x1="480.32" y1="106.4" x2="480.32" y2="104.4" stroke="#262626" stroke-width="0.6"/>
<line x1="494.54" y1="106.4" x2="494.54" y2="104.4" stroke="#262626" stroke-width="0.6"/>
<line x1="382.7" y1="102.5" x2="386.2" y2="102.5" stroke="#262626" stroke-width="0.8"/>
<line x1="494.5" y1="102.5" x2="491" y2="102.5" stroke="#262626" stroke-width="0.8"/>
<line x1="382.7" y1="82.25" x2="386.2" y2="82.25" stroke="#262626" stroke-width="0.8"/>
<line x1="494.5" y1="82.25" x2="491" y2="82.25" stroke="#262626" stroke-width="0.8"/>
<line x1="382.7" y1="62" x2="386.2" y2="62" stroke="#262626" stroke-width="0.8"/>
<line x1="494.5" y1="62" x2="491" y2="62" stroke="#262626" stroke-width="0.8"/>
<line x1="382.7" y1="41.75" x2="386.2" y2="41.75" stroke="#262626" stroke-width="0.8"/>
<line x1="494.5" y1="41.75" x2="491" y2="41.75" stroke="#262626" stroke-width="0.8"/>
<line x1="382.7" y1="21.5" x2="386.2" y2="21.5" stroke="#262626" stroke-width="0.8"/>
<line x1="494.5" y1="21.5" x2="491" y2="21.5" stroke="#262626" stroke-width="0.8"/>
<rect x="382.7" y="15.55" width="111.8" height="90.85" fill="none" stroke="#333" stroke-width="1.0"/>
<text x="400.13" y="114.1" font-size="7.2" text-anchor="middle" fill="#262626"  textLength="10.2" lengthAdjust="spacingAndGlyphs" >0.1</text>
<text x="441.16" y="114.1" font-size="7.2" text-anchor="middle" fill="#262626"  textLength="10.2" lengthAdjust="spacingAndGlyphs" >1.0</text>
<text x="482.19" y="114.1" font-size="7.2" text-anchor="middle" fill="#262626"  textLength="14.2" lengthAdjust="spacingAndGlyphs" >10.0</text>
<text x="438.6" y="124.7" font-size="8.8" text-anchor="middle" fill="#262626"  textLength="49.5" lengthAdjust="spacingAndGlyphs" >Radius [µm]</text>
<text x="438.6" y="12" font-size="9.6" text-anchor="middle" fill="#262626"  font-weight="bold" textLength="42" lengthAdjust="spacingAndGlyphs" >Sep 2019</text>
<text x="382.9" y="12.9" font-size="8.6" text-anchor="start" fill="#262626"  textLength="8.2" lengthAdjust="spacingAndGlyphs" >d)</text>
<g opacity="0.8">
<line x1="205.9" y1="23.5" x2="217.4" y2="23.5" stroke="#a52a2a" stroke-width="0.68"/>
<path d="M211.65 21.95L213.2 24.59L210.1 24.59Z" fill="none" stroke="#a52a2a" stroke-width="0.7"/>
</g>
<text x="221.6" y="25.8" font-size="6.8" text-anchor="start" fill="#262626"  textLength="24.1" lengthAdjust="spacingAndGlyphs" >Event C1</text>
<g opacity="0.8">
<line x1="205.9" y1="31.4" x2="217.4" y2="31.4" stroke="#b8b8b8" stroke-width="0.51"/>
<circle cx="211.65" cy="31.4" r="1.3" fill="none" stroke="#9a9a9a" stroke-width="0.6"/>
</g>
<text x="221.6" y="33.7" font-size="6.8" text-anchor="start" fill="#262626"  textLength="24" lengthAdjust="spacingAndGlyphs" >1-24 July</text>
<g opacity="0.8">
<line x1="205.9" y1="39.5" x2="217.4" y2="39.5" stroke="#e070c4" stroke-width="0.68"/>
<path d="M210.37 38.22L212.93 40.78M210.37 40.78L212.93 38.22" stroke="#e070c4" stroke-width="0.78"/>
</g>
<text x="221.6" y="41.8" font-size="6.8" text-anchor="start" fill="#262626"  textLength="24.5" lengthAdjust="spacingAndGlyphs" >Event C2</text>
<g opacity="0.8">
<line x1="314" y1="23.2" x2="325.5" y2="23.2" stroke="#ff0000" stroke-width="0.68"/>
<rect x="318.47" y="21.92" width="2.56" height="2.56" fill="none" stroke="#ff0000" stroke-width="0.7"/>
</g>
<text x="330" y="25.5" font-size="6.8" text-anchor="start" fill="#262626"  textLength="24.3" lengthAdjust="spacingAndGlyphs" >Event C3</text>
<g opacity="0.8">
<line x1="314" y1="31.5" x2="325.5" y2="31.5" stroke="#b8b8b8" stroke-width="0.51"/>
<circle cx="319.75" cy="31.5" r="1.3" fill="none" stroke="#9a9a9a" stroke-width="0.6"/>
</g>
<text x="330" y="33.8" font-size="6.8" text-anchor="start" fill="#262626"  textLength="36.7" lengthAdjust="spacingAndGlyphs" >18-31 August</text>
<line x1="38.45" y1="140.6" x2="38.45" y2="232.0" stroke="#e8e8e8" stroke-width="0.6"/>
<line x1="77.79" y1="140.6" x2="77.79" y2="232.0" stroke="#e8e8e8" stroke-width="0.6"/>
<line x1="110.44" y1="140.6" x2="110.44" y2="232.0" stroke="#e8e8e8" stroke-width="0.6"/>
<line x1="135.55" y1="140.6" x2="135.55" y2="232.0" stroke="#e8e8e8" stroke-width="0.6"/>
<line x1="33.6" y1="223.4" x2="140.4" y2="223.4" stroke="#e8e8e8" stroke-width="0.6"/>
<line x1="33.6" y1="195.5" x2="140.4" y2="195.5" stroke="#e8e8e8" stroke-width="0.6"/>
<line x1="33.6" y1="167.6" x2="140.4" y2="167.6" stroke="#e8e8e8" stroke-width="0.6"/>
<g clip-path="url(#cb0)">
<g opacity="1.0">
<path d="M38.45 148.86L77.79 149.84L110.44 150.12L135.55 151.23" fill="none" stroke="#d0d0d0" stroke-width="0.4" stroke-linejoin="round"/>
<circle cx="38.45" cy="148.86" r="1.35" fill="none" stroke="#999999" stroke-width="0.5"/>
<circle cx="77.79" cy="149.84" r="1.35" fill="none" stroke="#999999" stroke-width="0.5"/>
<circle cx="110.44" cy="150.12" r="1.35" fill="none" stroke="#999999" stroke-width="0.5"/>
<circle cx="135.55" cy="151.23" r="1.35" fill="none" stroke="#999999" stroke-width="0.5"/>
</g>
<g opacity="1.0">
<path d="M38.45 148.91L77.79 149.64L110.44 150.15L135.55 151.46" fill="none" stroke="#d0d0d0" stroke-width="0.4" stroke-linejoin="round"/>
<circle cx="38.45" cy="148.91" r="1.35" fill="none" stroke="#999999" stroke-width="0.5"/>
<circle cx="77.79" cy="149.64" r="1.35" fill="none" stroke="#999999" stroke-width="0.5"/>
<circle cx="110.44" cy="150.15" r="1.35" fill="none" stroke="#999999" stroke-width="0.5"/>
<circle cx="135.55" cy="151.46" r="1.35" fill="none" stroke="#999999" stroke-width="0.5"/>
</g>
<g opacity="1.0">
<path d="M38.45 148.51L77.79 149.78L110.44 150.2L135.55 150.91" fill="none" stroke="#d0d0d0" stroke-width="0.4" stroke-linejoin="round"/>
<circle cx="38.45" cy="148.51" r="1.35" fill="none" stroke="#999999" stroke-width="0.5"/>
<circle cx="77.79" cy="149.78" r="1.35" fill="none" stroke="#999999" stroke-width="0.5"/>
<circle cx="110.44" cy="150.2" r="1.35" fill="none" stroke="#999999" stroke-width="0.5"/>
<circle cx="135.55" cy="150.91" r="1.35" fill="none" stroke="#999999" stroke-width="0.5"/>
</g>
<g opacity="1.0">
<path d="M38.45 148.72L77.79 149.35L110.44 150.25L135.55 151.17" fill="none" stroke="#d0d0d0" stroke-width="0.4" stroke-linejoin="round"/>
<circle cx="38.45" cy="148.72" r="1.35" fill="none" stroke="#999999" stroke-width="0.5"/>
<circle cx="77.79" cy="149.35" r="1.35" fill="none" stroke="#999999" stroke-width="0.5"/>
<circle cx="110.44" cy="150.25" r="1.35" fill="none" stroke="#999999" stroke-width="0.5"/>
<circle cx="135.55" cy="151.17" r="1.35" fill="none" stroke="#999999" stroke-width="0.5"/>
</g>
<g opacity="1.0">
<path d="M38.45 148.19L77.79 149.28L110.44 149.55L135.55 150.3" fill="none" stroke="#d0d0d0" stroke-width="0.4" stroke-linejoin="round"/>
<circle cx="38.45" cy="148.19" r="1.35" fill="none" stroke="#999999" stroke-width="0.5"/>
<circle cx="77.79" cy="149.28" r="1.35" fill="none" stroke="#999999" stroke-width="0.5"/>
<circle cx="110.44" cy="149.55" r="1.35" fill="none" stroke="#999999" stroke-width="0.5"/>
<circle cx="135.55" cy="150.3" r="1.35" fill="none" stroke="#999999" stroke-width="0.5"/>
</g>
<g opacity="1.0">
<path d="M38.45 148.21L77.79 149.28L110.44 149.38L135.55 150.75" fill="none" stroke="#d0d0d0" stroke-width="0.4" stroke-linejoin="round"/>
<circle cx="38.45" cy="148.21" r="1.35" fill="none" stroke="#999999" stroke-width="0.5"/>
<circle cx="77.79" cy="149.28" r="1.35" fill="none" stroke="#999999" stroke-width="0.5"/>
<circle cx="110.44" cy="149.38" r="1.35" fill="none" stroke="#999999" stroke-width="0.5"/>
<circle cx="135.55" cy="150.75" r="1.35" fill="none" stroke="#999999" stroke-width="0.5"/>
</g>
<g opacity="1.0">
<path d="M38.45 148.15L77.79 149.01L110.44 149.3L135.55 150.19" fill="none" stroke="#d0d0d0" stroke-width="0.4" stroke-linejoin="round"/>
<circle cx="38.45" cy="148.15" r="1.35" fill="none" stroke="#999999" stroke-width="0.5"/>
<circle cx="77.79" cy="149.01" r="1.35" fill="none" stroke="#999999" stroke-width="0.5"/>
<circle cx="110.44" cy="149.3" r="1.35" fill="none" stroke="#999999" stroke-width="0.5"/>
<circle cx="135.55" cy="150.19" r="1.35" fill="none" stroke="#999999" stroke-width="0.5"/>
</g>
<g opacity="1.0">
<path d="M38.45 147.74L77.79 148.48L110.44 149.2L135.55 149.58" fill="none" stroke="#d0d0d0" stroke-width="0.4" stroke-linejoin="round"/>
<circle cx="38.45" cy="147.74" r="1.35" fill="none" stroke="#999999" stroke-width="0.5"/>
<circle cx="77.79" cy="148.48" r="1.35" fill="none" stroke="#999999" stroke-width="0.5"/>
<circle cx="110.44" cy="149.2" r="1.35" fill="none" stroke="#999999" stroke-width="0.5"/>
<circle cx="135.55" cy="149.58" r="1.35" fill="none" stroke="#999999" stroke-width="0.5"/>
</g>
<g opacity="1.0">
<path d="M38.45 147.56L77.79 148.76L110.44 148.91L135.55 149.96" fill="none" stroke="#d0d0d0" stroke-width="0.4" stroke-linejoin="round"/>
<circle cx="38.45" cy="147.56" r="1.35" fill="none" stroke="#999999" stroke-width="0.5"/>
<circle cx="77.79" cy="148.76" r="1.35" fill="none" stroke="#999999" stroke-width="0.5"/>
<circle cx="110.44" cy="148.91" r="1.35" fill="none" stroke="#999999" stroke-width="0.5"/>
<circle cx="135.55" cy="149.96" r="1.35" fill="none" stroke="#999999" stroke-width="0.5"/>
</g>
<g opacity="1.0">
<path d="M38.45 147.54L77.79 148.25L110.44 149.14L135.55 149.77" fill="none" stroke="#d0d0d0" stroke-width="0.4" stroke-linejoin="round"/>
<circle cx="38.45" cy="147.54" r="1.35" fill="none" stroke="#999999" stroke-width="0.5"/>
<circle cx="77.79" cy="148.25" r="1.35" fill="none" stroke="#999999" stroke-width="0.5"/>
<circle cx="110.44" cy="149.14" r="1.35" fill="none" stroke="#999999" stroke-width="0.5"/>
<circle cx="135.55" cy="149.77" r="1.35" fill="none" stroke="#999999" stroke-width="0.5"/>
</g>
<g opacity="1.0">
<path d="M38.45 147.14L77.79 148.19L110.44 148.63L135.55 149.85" fill="none" stroke="#d0d0d0" stroke-width="0.4" stroke-linejoin="round"/>
<circle cx="38.45" cy="147.14" r="1.35" fill="none" stroke="#999999" stroke-width="0.5"/>
<circle cx="77.79" cy="148.19" r="1.35" fill="none" stroke="#999999" stroke-width="0.5"/>
<circle cx="110.44" cy="148.63" r="1.35" fill="none" stroke="#999999" stroke-width="0.5"/>
<circle cx="135.55" cy="149.85" r="1.35" fill="none" stroke="#999999" stroke-width="0.5"/>
</g>
<g opacity="1.0">
<path d="M38.45 146.97L77.79 148.03L110.44 148.25L135.55 148.99" fill="none" stroke="#d0d0d0" stroke-width="0.4" stroke-linejoin="round"/>
<circle cx="38.45" cy="146.97" r="1.35" fill="none" stroke="#999999" stroke-width="0.5"/>
<circle cx="77.79" cy="148.03" r="1.35" fill="none" stroke="#999999" stroke-width="0.5"/>
<circle cx="110.44" cy="148.25" r="1.35" fill="none" stroke="#999999" stroke-width="0.5"/>
<circle cx="135.55" cy="148.99" r="1.35" fill="none" stroke="#999999" stroke-width="0.5"/>
</g>
<g opacity="1.0">
<path d="M38.45 146.69L77.79 147.85L110.44 148.12L135.55 149.29" fill="none" stroke="#d0d0d0" stroke-width="0.4" stroke-linejoin="round"/>
<circle cx="38.45" cy="146.69" r="1.35" fill="none" stroke="#999999" stroke-width="0.5"/>
<circle cx="77.79" cy="147.85" r="1.35" fill="none" stroke="#999999" stroke-width="0.5"/>
<circle cx="110.44" cy="148.12" r="1.35" fill="none" stroke="#999999" stroke-width="0.5"/>
<circle cx="135.55" cy="149.29" r="1.35" fill="none" stroke="#999999" stroke-width="0.5"/>
</g>
<g opacity="1.0">
<path d="M38.45 146.75L77.79 147.51L110.44 148.07L135.55 149.22" fill="none" stroke="#d0d0d0" stroke-width="0.4" stroke-linejoin="round"/>
<circle cx="38.45" cy="146.75" r="1.35" fill="none" stroke="#999999" stroke-width="0.5"/>
<circle cx="77.79" cy="147.51" r="1.35" fill="none" stroke="#999999" stroke-width="0.5"/>
<circle cx="110.44" cy="148.07" r="1.35" fill="none" stroke="#999999" stroke-width="0.5"/>
<circle cx="135.55" cy="149.22" r="1.35" fill="none" stroke="#999999" stroke-width="0.5"/>
</g>
<g opacity="1.0">
<path d="M38.45 146.62L77.79 147.44L110.44 148.16L135.55 148.7" fill="none" stroke="#d0d0d0" stroke-width="0.4" stroke-linejoin="round"/>
<circle cx="38.45" cy="146.62" r="1.35" fill="none" stroke="#999999" stroke-width="0.5"/>
<circle cx="77.79" cy="147.44" r="1.35" fill="none" stroke="#999999" stroke-width="0.5"/>
<circle cx="110.44" cy="148.16" r="1.35" fill="none" stroke="#999999" stroke-width="0.5"/>
<circle cx="135.55" cy="148.7" r="1.35" fill="none" stroke="#999999" stroke-width="0.5"/>
</g>
<g opacity="1.0">
<path d="M38.45 146.2L77.79 147.29L110.44 147.5L135.55 148.71" fill="none" stroke="#d0d0d0" stroke-width="0.4" stroke-linejoin="round"/>
<circle cx="38.45" cy="146.2" r="1.35" fill="none" stroke="#999999" stroke-width="0.5"/>
<circle cx="77.79" cy="147.29" r="1.35" fill="none" stroke="#999999" stroke-width="0.5"/>
<circle cx="110.44" cy="147.5" r="1.35" fill="none" stroke="#999999" stroke-width="0.5"/>
<circle cx="135.55" cy="148.71" r="1.35" fill="none" stroke="#999999" stroke-width="0.5"/>
</g>
<g opacity="1.0">
<path d="M38.45 146.11L77.79 147.3L110.44 147.43L135.55 148.46" fill="none" stroke="#d0d0d0" stroke-width="0.4" stroke-linejoin="round"/>
<circle cx="38.45" cy="146.11" r="1.35" fill="none" stroke="#999999" stroke-width="0.5"/>
<circle cx="77.79" cy="147.3" r="1.35" fill="none" stroke="#999999" stroke-width="0.5"/>
<circle cx="110.44" cy="147.43" r="1.35" fill="none" stroke="#999999" stroke-width="0.5"/>
<circle cx="135.55" cy="148.46" r="1.35" fill="none" stroke="#999999" stroke-width="0.5"/>
</g>
<g opacity="1.0">
<path d="M38.45 146.08L77.79 146.87L110.44 147.56L135.55 148.57" fill="none" stroke="#d0d0d0" stroke-width="0.4" stroke-linejoin="round"/>
<circle cx="38.45" cy="146.08" r="1.35" fill="none" stroke="#999999" stroke-width="0.5"/>
<circle cx="77.79" cy="146.87" r="1.35" fill="none" stroke="#999999" stroke-width="0.5"/>
<circle cx="110.44" cy="147.56" r="1.35" fill="none" stroke="#999999" stroke-width="0.5"/>
<circle cx="135.55" cy="148.57" r="1.35" fill="none" stroke="#999999" stroke-width="0.5"/>
</g>
<g opacity="1.0">
<path d="M38.45 145.84L77.79 146.48L110.44 147.56L135.55 148.06" fill="none" stroke="#d0d0d0" stroke-width="0.4" stroke-linejoin="round"/>
<circle cx="38.45" cy="145.84" r="1.35" fill="none" stroke="#999999" stroke-width="0.5"/>
<circle cx="77.79" cy="146.48" r="1.35" fill="none" stroke="#999999" stroke-width="0.5"/>
<circle cx="110.44" cy="147.56" r="1.35" fill="none" stroke="#999999" stroke-width="0.5"/>
<circle cx="135.55" cy="148.06" r="1.35" fill="none" stroke="#999999" stroke-width="0.5"/>
</g>
<g opacity="1.0">
<path d="M38.45 145.69L77.79 146.51L110.44 146.89L135.55 148.1" fill="none" stroke="#d0d0d0" stroke-width="0.4" stroke-linejoin="round"/>
<circle cx="38.45" cy="145.69" r="1.35" fill="none" stroke="#999999" stroke-width="0.5"/>
<circle cx="77.79" cy="146.51" r="1.35" fill="none" stroke="#999999" stroke-width="0.5"/>
<circle cx="110.44" cy="146.89" r="1.35" fill="none" stroke="#999999" stroke-width="0.5"/>
<circle cx="135.55" cy="148.1" r="1.35" fill="none" stroke="#999999" stroke-width="0.5"/>
</g>
<g opacity="1.0">
<path d="M38.45 145.53L77.79 146.47L110.44 146.9L135.55 147.87" fill="none" stroke="#d0d0d0" stroke-width="0.4" stroke-linejoin="round"/>
<circle cx="38.45" cy="145.53" r="1.35" fill="none" stroke="#999999" stroke-width="0.5"/>
<circle cx="77.79" cy="146.47" r="1.35" fill="none" stroke="#999999" stroke-width="0.5"/>
<circle cx="110.44" cy="146.9" r="1.35" fill="none" stroke="#999999" stroke-width="0.5"/>
<circle cx="135.55" cy="147.87" r="1.35" fill="none" stroke="#999999" stroke-width="0.5"/>
</g>
<g opacity="1.0">
<path d="M38.45 145.45L77.79 146.07L110.44 146.9L135.55 147.21" fill="none" stroke="#d0d0d0" stroke-width="0.4" stroke-linejoin="round"/>
<circle cx="38.45" cy="145.45" r="1.35" fill="none" stroke="#999999" stroke-width="0.5"/>
<circle cx="77.79" cy="146.07" r="1.35" fill="none" stroke="#999999" stroke-width="0.5"/>
<circle cx="110.44" cy="146.9" r="1.35" fill="none" stroke="#999999" stroke-width="0.5"/>
<circle cx="135.55" cy="147.21" r="1.35" fill="none" stroke="#999999" stroke-width="0.5"/>
</g>
<g opacity="1.0">
<path d="M38.45 153.09L77.79 154.49L110.44 156.72L135.55 157.83" fill="none" stroke="#b8b8b8" stroke-width="0.45" stroke-linejoin="round"/>
<circle cx="38.45" cy="153.09" r="1.4" fill="none" stroke="#9a9a9a" stroke-width="0.55"/>
<circle cx="77.79" cy="154.49" r="1.4" fill="none" stroke="#9a9a9a" stroke-width="0.55"/>
<circle cx="110.44" cy="156.72" r="1.4" fill="none" stroke="#9a9a9a" stroke-width="0.55"/>
<circle cx="135.55" cy="157.83" r="1.4" fill="none" stroke="#9a9a9a" stroke-width="0.55"/>
</g>
<g opacity="1.0">
<path d="M38.45 160.62L77.79 165.09L110.44 168.58L135.55 170.53" fill="none" stroke="#b8b8b8" stroke-width="0.45" stroke-linejoin="round"/>
<circle cx="38.45" cy="160.62" r="1.4" fill="none" stroke="#9a9a9a" stroke-width="0.55"/>
<circle cx="77.79" cy="165.09" r="1.4" fill="none" stroke="#9a9a9a" stroke-width="0.55"/>
<circle cx="110.44" cy="168.58" r="1.4" fill="none" stroke="#9a9a9a" stroke-width="0.55"/>
<circle cx="135.55" cy="170.53" r="1.4" fill="none" stroke="#9a9a9a" stroke-width="0.55"/>
</g>
<g opacity="1.0">
<path d="M38.45 162.16L77.79 166.76L110.44 171.78L135.55 174.16" fill="none" stroke="#b8b8b8" stroke-width="0.45" stroke-linejoin="round"/>
<circle cx="38.45" cy="162.16" r="1.4" fill="none" stroke="#9a9a9a" stroke-width="0.55"/>
<circle cx="77.79" cy="166.76" r="1.4" fill="none" stroke="#9a9a9a" stroke-width="0.55"/>
<circle cx="110.44" cy="171.78" r="1.4" fill="none" stroke="#9a9a9a" stroke-width="0.55"/>
<circle cx="135.55" cy="174.16" r="1.4" fill="none" stroke="#9a9a9a" stroke-width="0.55"/>
</g>
<g opacity="1.0">
<path d="M38.45 163.83L77.79 169.41L110.44 173.18L135.55 175.27" fill="none" stroke="#b8b8b8" stroke-width="0.45" stroke-linejoin="round"/>
<circle cx="38.45" cy="163.83" r="1.4" fill="none" stroke="#9a9a9a" stroke-width="0.55"/>
<circle cx="77.79" cy="169.41" r="1.4" fill="none" stroke="#9a9a9a" stroke-width="0.55"/>
<circle cx="110.44" cy="173.18" r="1.4" fill="none" stroke="#9a9a9a" stroke-width="0.55"/>
<circle cx="135.55" cy="175.27" r="1.4" fill="none" stroke="#9a9a9a" stroke-width="0.55"/>
</g>
<g opacity="1.0">
<path d="M38.45 165.79L77.79 171.09L110.44 175.27L135.55 178.48" fill="none" stroke="#b8b8b8" stroke-width="0.45" stroke-linejoin="round"/>
<circle cx="38.45" cy="165.79" r="1.4" fill="none" stroke="#9a9a9a" stroke-width="0.55"/>
<circle cx="77.79" cy="171.09" r="1.4" fill="none" stroke="#9a9a9a" stroke-width="0.55"/>
<circle cx="110.44" cy="175.27" r="1.4" fill="none" stroke="#9a9a9a" stroke-width="0.55"/>
<circle cx="135.55" cy="178.48" r="1.4" fill="none" stroke="#9a9a9a" stroke-width="0.55"/>
</g>
<g opacity="1.0">
<path d="M38.45 188.94L77.79 199.41L110.44 206.66L135.55 210.15" fill="none" stroke="#b8b8b8" stroke-width="0.45" stroke-linejoin="round"/>
<circle cx="38.45" cy="188.94" r="1.4" fill="none" stroke="#9a9a9a" stroke-width="0.55"/>
<circle cx="77.79" cy="199.41" r="1.4" fill="none" stroke="#9a9a9a" stroke-width="0.55"/>
<circle cx="110.44" cy="206.66" r="1.4" fill="none" stroke="#9a9a9a" stroke-width="0.55"/>
<circle cx="135.55" cy="210.15" r="1.4" fill="none" stroke="#9a9a9a" stroke-width="0.55"/>
</g>
</g>
<line x1="38.45" y1="232.0" x2="38.45" y2="228.5" stroke="#262626" stroke-width="0.8"/>
<line x1="77.79" y1="232.0" x2="77.79" y2="228.5" stroke="#262626" stroke-width="0.8"/>
<line x1="110.44" y1="232.0" x2="110.44" y2="228.5" stroke="#262626" stroke-width="0.8"/>
<line x1="135.55" y1="232.0" x2="135.55" y2="228.5" stroke="#262626" stroke-width="0.8"/>
<line x1="33.6" y1="223.4" x2="37.1" y2="223.4" stroke="#262626" stroke-width="0.8"/>
<line x1="140.4" y1="223.4" x2="136.9" y2="223.4" stroke="#262626" stroke-width="0.8"/>
<line x1="33.6" y1="195.5" x2="37.1" y2="195.5" stroke="#262626" stroke-width="0.8"/>
<line x1="140.4" y1="195.5" x2="136.9" y2="195.5" stroke="#262626" stroke-width="0.8"/>
<line x1="33.6" y1="167.6" x2="37.1" y2="167.6" stroke="#262626" stroke-width="0.8"/>
<line x1="140.4" y1="167.6" x2="136.9" y2="167.6" stroke="#262626" stroke-width="0.8"/>
<rect x="33.6" y="140.6" width="106.8" height="91.4" fill="none" stroke="#333" stroke-width="1.0"/>
<text x="38.45" y="240.7" font-size="7.2" text-anchor="middle" fill="#262626"  textLength="12.2" lengthAdjust="spacingAndGlyphs" >440</text>
<text x="77.79" y="240.7" font-size="7.2" text-anchor="middle" fill="#262626"  textLength="12.2" lengthAdjust="spacingAndGlyphs" >675</text>
<text x="110.44" y="240.7" font-size="7.2" text-anchor="middle" fill="#262626"  textLength="12.2" lengthAdjust="spacingAndGlyphs" >870</text>
<text x="135.55" y="240.7" font-size="7.2" text-anchor="middle" fill="#262626"  textLength="16" lengthAdjust="spacingAndGlyphs" >1020</text>
<text x="87" y="250.9" font-size="8.8" text-anchor="middle" fill="#262626"  textLength="70" lengthAdjust="spacingAndGlyphs" >Wavelength [nm]</text>
<text x="34" y="138.3" font-size="8.6" text-anchor="start" fill="#262626"  textLength="8.2" lengthAdjust="spacingAndGlyphs" >e)</text>
<text x="30.6" y="143.25" font-size="7.2" text-anchor="end" fill="#262626"  textLength="14.2" lengthAdjust="spacingAndGlyphs" >1.00</text>
<text x="30.6" y="170.05" font-size="7.2" text-anchor="end" fill="#262626"  textLength="14.2" lengthAdjust="spacingAndGlyphs" >0.98</text>
<text x="30.6" y="197.95" font-size="7.2" text-anchor="end" fill="#262626"  textLength="14.2" lengthAdjust="spacingAndGlyphs" >0.96</text>
<text x="30.6" y="225.85" font-size="7.2" text-anchor="end" fill="#262626"  textLength="14.2" lengthAdjust="spacingAndGlyphs" >0.94</text>
<text x="12.4" y="186.5" font-size="8.8" text-anchor="middle" fill="#262626"  textLength="16.8" lengthAdjust="spacingAndGlyphs" transform="rotate(-90 12.4 186.5)" >SSA</text>
<line x1="155.45" y1="140.6" x2="155.45" y2="232.0" stroke="#e8e8e8" stroke-width="0.6"/>
<line x1="194.79" y1="140.6" x2="194.79" y2="232.0" stroke="#e8e8e8" stroke-width="0.6"/>
<line x1="227.44" y1="140.6" x2="227.44" y2="232.0" stroke="#e8e8e8" stroke-width="0.6"/>
<line x1="252.55" y1="140.6" x2="252.55" y2="232.0" stroke="#e8e8e8" stroke-width="0.6"/>
<line x1="150.6" y1="223.4" x2="257.4" y2="223.4" stroke="#e8e8e8" stroke-width="0.6"/>
<line x1="150.6" y1="195.5" x2="257.4" y2="195.5" stroke="#e8e8e8" stroke-width="0.6"/>
<line x1="150.6" y1="167.6" x2="257.4" y2="167.6" stroke="#e8e8e8" stroke-width="0.6"/>
<g clip-path="url(#cb1)">
<g opacity="1.0">
<path d="M155.45 144.16L194.79 144.72L227.44 145.56L252.55 146.4" fill="none" stroke="#a52a2a" stroke-width="0.8" stroke-linejoin="round"/>
<path d="M155.45 142.44L157.18 145.37L153.73 145.37Z" fill="none" stroke="#a52a2a" stroke-width="0.7"/>
<path d="M194.79 143L196.52 145.93L193.07 145.93Z" fill="none" stroke="#a52a2a" stroke-width="0.7"/>
<path d="M227.44 143.83L229.16 146.77L225.71 146.77Z" fill="none" stroke="#a52a2a" stroke-width="0.7"/>
<path d="M252.55 144.67L254.27 147.6L250.82 147.6Z" fill="none" stroke="#a52a2a" stroke-width="0.7"/>
</g>
<g opacity="1.0">
<path d="M155.45 145.56L194.79 146.12L227.44 146.95L252.55 147.79" fill="none" stroke="#b8b8b8" stroke-width="0.45" stroke-linejoin="round"/>
<circle cx="155.45" cy="145.56" r="1.4" fill="none" stroke="#9a9a9a" stroke-width="0.55"/>
<circle cx="194.79" cy="146.12" r="1.4" fill="none" stroke="#9a9a9a" stroke-width="0.55"/>
<circle cx="227.44" cy="146.95" r="1.4" fill="none" stroke="#9a9a9a" stroke-width="0.55"/>
<circle cx="252.55" cy="147.79" r="1.4" fill="none" stroke="#9a9a9a" stroke-width="0.55"/>
</g>
<g opacity="1.0">
<path d="M155.45 146.4L194.79 146.95L227.44 147.65L252.55 148.49" fill="none" stroke="#b8b8b8" stroke-width="0.45" stroke-linejoin="round"/>
<circle cx="155.45" cy="146.4" r="1.4" fill="none" stroke="#9a9a9a" stroke-width="0.55"/>
<circle cx="194.79" cy="146.95" r="1.4" fill="none" stroke="#9a9a9a" stroke-width="0.55"/>
<circle cx="227.44" cy="147.65" r="1.4" fill="none" stroke="#9a9a9a" stroke-width="0.55"/>
<circle cx="252.55" cy="148.49" r="1.4" fill="none" stroke="#9a9a9a" stroke-width="0.55"/>
</g>
<g opacity="1.0">
<path d="M155.45 144.72L194.79 145.42L227.44 146.4L252.55 147.23" fill="none" stroke="#e070c4" stroke-width="0.7" stroke-linejoin="round"/>
<path d="M154.12 143.39L156.78 146.05M154.12 146.05L156.78 143.39" stroke="#e070c4" stroke-width="0.7150000000000001"/>
<path d="M193.46 144.09L196.12 146.75M193.46 146.75L196.12 144.09" stroke="#e070c4" stroke-width="0.7150000000000001"/>
<path d="M226.11 145.07L228.77 147.73M226.11 147.73L228.77 145.07" stroke="#e070c4" stroke-width="0.7150000000000001"/>
<path d="M251.22 145.9L253.88 148.56M251.22 148.56L253.88 145.9" stroke="#e070c4" stroke-width="0.7150000000000001"/>
</g>
<g opacity="1.0">
<path d="M155.45 146.12L194.79 146.81L227.44 147.93L252.55 148.91" fill="none" stroke="#e070c4" stroke-width="0.7" stroke-linejoin="round"/>
<path d="M154.12 144.79L156.78 147.45M154.12 147.45L156.78 144.79" stroke="#e070c4" stroke-width="0.7150000000000001"/>
<path d="M193.46 145.48L196.12 148.14M193.46 148.14L196.12 145.48" stroke="#e070c4" stroke-width="0.7150000000000001"/>
<path d="M226.11 146.6L228.77 149.26M226.11 149.26L228.77 146.6" stroke="#e070c4" stroke-width="0.7150000000000001"/>
<path d="M251.22 147.58L253.88 150.24M251.22 150.24L253.88 147.58" stroke="#e070c4" stroke-width="0.7150000000000001"/>
</g>
<g opacity="1.0">
<path d="M155.45 147.23L194.79 147.79L227.44 148.91L252.55 150.02" fill="none" stroke="#e070c4" stroke-width="0.7" stroke-linejoin="round"/>
<path d="M154.12 145.9L156.78 148.56M154.12 148.56L156.78 145.9" stroke="#e070c4" stroke-width="0.7150000000000001"/>
<path d="M193.46 146.46L196.12 149.12M193.46 149.12L196.12 146.46" stroke="#e070c4" stroke-width="0.7150000000000001"/>
<path d="M226.11 147.58L228.77 150.24M226.11 150.24L228.77 147.58" stroke="#e070c4" stroke-width="0.7150000000000001"/>
<path d="M251.22 148.69L253.88 151.35M251.22 151.35L253.88 148.69" stroke="#e070c4" stroke-width="0.7150000000000001"/>
</g>
<g opacity="1.0">
<path d="M155.45 159.69L194.79 160.79L227.44 163.69L252.55 166.9" fill="none" stroke="#e070c4" stroke-width="0.7" stroke-linejoin="round"/>
<path d="M154.12 158.36L156.78 161.02M154.12 161.02L156.78 158.36" stroke="#e070c4" stroke-width="0.7150000000000001"/>
<path d="M193.46 159.46L196.12 162.12M193.46 162.12L196.12 159.46" stroke="#e070c4" stroke-width="0.7150000000000001"/>
<path d="M226.11 162.36L228.77 165.02M226.11 165.02L228.77 162.36" stroke="#e070c4" stroke-width="0.7150000000000001"/>
<path d="M251.22 165.57L253.88 168.23M251.22 168.23L253.88 165.57" stroke="#e070c4" stroke-width="0.7150000000000001"/>
</g>
<g opacity="1.0">
<path d="M155.45 175.51L194.79 175.51L227.44 180.02L252.55 185.83" fill="none" stroke="#e070c4" stroke-width="0.7" stroke-linejoin="round"/>
<path d="M154.12 174.18L156.78 176.84M154.12 176.84L156.78 174.18" stroke="#e070c4" stroke-width="0.7150000000000001"/>
<path d="M193.46 174.18L196.12 176.84M193.46 176.84L196.12 174.18" stroke="#e070c4" stroke-width="0.7150000000000001"/>
<path d="M226.11 178.69L228.77 181.35M226.11 181.35L228.77 178.69" stroke="#e070c4" stroke-width="0.7150000000000001"/>
<path d="M251.22 184.5L253.88 187.16M251.22 187.16L253.88 184.5" stroke="#e070c4" stroke-width="0.7150000000000001"/>
</g>
</g>
<line x1="155.45" y1="232.0" x2="155.45" y2="228.5" stroke="#262626" stroke-width="0.8"/>
<line x1="194.79" y1="232.0" x2="194.79" y2="228.5" stroke="#262626" stroke-width="0.8"/>
<line x1="227.44" y1="232.0" x2="227.44" y2="228.5" stroke="#262626" stroke-width="0.8"/>
<line x1="252.55" y1="232.0" x2="252.55" y2="228.5" stroke="#262626" stroke-width="0.8"/>
<line x1="150.6" y1="223.4" x2="154.1" y2="223.4" stroke="#262626" stroke-width="0.8"/>
<line x1="257.4" y1="223.4" x2="253.9" y2="223.4" stroke="#262626" stroke-width="0.8"/>
<line x1="150.6" y1="195.5" x2="154.1" y2="195.5" stroke="#262626" stroke-width="0.8"/>
<line x1="257.4" y1="195.5" x2="253.9" y2="195.5" stroke="#262626" stroke-width="0.8"/>
<line x1="150.6" y1="167.6" x2="154.1" y2="167.6" stroke="#262626" stroke-width="0.8"/>
<line x1="257.4" y1="167.6" x2="253.9" y2="167.6" stroke="#262626" stroke-width="0.8"/>
<rect x="150.6" y="140.6" width="106.8" height="91.4" fill="none" stroke="#333" stroke-width="1.0"/>
<text x="155.45" y="240.7" font-size="7.2" text-anchor="middle" fill="#262626"  textLength="12.2" lengthAdjust="spacingAndGlyphs" >440</text>
<text x="194.79" y="240.7" font-size="7.2" text-anchor="middle" fill="#262626"  textLength="12.2" lengthAdjust="spacingAndGlyphs" >675</text>
<text x="227.44" y="240.7" font-size="7.2" text-anchor="middle" fill="#262626"  textLength="12.2" lengthAdjust="spacingAndGlyphs" >870</text>
<text x="252.55" y="240.7" font-size="7.2" text-anchor="middle" fill="#262626"  textLength="16" lengthAdjust="spacingAndGlyphs" >1020</text>
<text x="204" y="250.9" font-size="8.8" text-anchor="middle" fill="#262626"  textLength="70" lengthAdjust="spacingAndGlyphs" >Wavelength [nm]</text>
<text x="151" y="138.3" font-size="8.6" text-anchor="start" fill="#262626"  textLength="8.2" lengthAdjust="spacingAndGlyphs" >f)</text>
<line x1="271.85" y1="140.6" x2="271.85" y2="232.0" stroke="#e8e8e8" stroke-width="0.6"/>
<line x1="311.19" y1="140.6" x2="311.19" y2="232.0" stroke="#e8e8e8" stroke-width="0.6"/>
<line x1="343.84" y1="140.6" x2="343.84" y2="232.0" stroke="#e8e8e8" stroke-width="0.6"/>
<line x1="368.95" y1="140.6" x2="368.95" y2="232.0" stroke="#e8e8e8" stroke-width="0.6"/>
<line x1="267" y1="223.4" x2="373.8" y2="223.4" stroke="#e8e8e8" stroke-width="0.6"/>
<line x1="267" y1="195.5" x2="373.8" y2="195.5" stroke="#e8e8e8" stroke-width="0.6"/>
<line x1="267" y1="167.6" x2="373.8" y2="167.6" stroke="#e8e8e8" stroke-width="0.6"/>
<g clip-path="url(#cb2)">
<g opacity="1.0">
<path d="M271.85 155.46L311.19 156.02L343.84 157.83L368.95 160.49" fill="none" stroke="#b8b8b8" stroke-width="0.45" stroke-linejoin="round"/>
<circle cx="271.85" cy="155.46" r="1.4" fill="none" stroke="#9a9a9a" stroke-width="0.55"/>
<circle cx="311.19" cy="156.02" r="1.4" fill="none" stroke="#9a9a9a" stroke-width="0.55"/>
<circle cx="343.84" cy="157.83" r="1.4" fill="none" stroke="#9a9a9a" stroke-width="0.55"/>
<circle cx="368.95" cy="160.49" r="1.4" fill="none" stroke="#9a9a9a" stroke-width="0.55"/>
</g>
<g opacity="1.0">
<path d="M271.85 158.39L311.19 159.09L343.84 162.02L368.95 165.09" fill="none" stroke="#b8b8b8" stroke-width="0.45" stroke-linejoin="round"/>
<circle cx="271.85" cy="158.39" r="1.4" fill="none" stroke="#9a9a9a" stroke-width="0.55"/>
<circle cx="311.19" cy="159.09" r="1.4" fill="none" stroke="#9a9a9a" stroke-width="0.55"/>
<circle cx="343.84" cy="162.02" r="1.4" fill="none" stroke="#9a9a9a" stroke-width="0.55"/>
<circle cx="368.95" cy="165.09" r="1.4" fill="none" stroke="#9a9a9a" stroke-width="0.55"/>
</g>
<g opacity="0.9">
<path d="M271.85 145.56L311.19 145.7L343.84 145.98L368.95 146.4" fill="none" stroke="#ff0000" stroke-width="0.8" stroke-linejoin="round"/>
<rect x="270.62" y="144.32" width="2.47" height="2.47" fill="none" stroke="#ff0000" stroke-width="0.6"/>
<rect x="309.96" y="144.46" width="2.47" height="2.47" fill="none" stroke="#ff0000" stroke-width="0.6"/>
<rect x="342.6" y="144.74" width="2.47" height="2.47" fill="none" stroke="#ff0000" stroke-width="0.6"/>
<rect x="367.71" y="145.16" width="2.47" height="2.47" fill="none" stroke="#ff0000" stroke-width="0.6"/>
</g>
<g opacity="0.9">
<path d="M271.85 145.84L311.19 145.84L343.84 146.4L368.95 146.95" fill="none" stroke="#ff0000" stroke-width="0.8" stroke-linejoin="round"/>
<rect x="270.62" y="144.6" width="2.47" height="2.47" fill="none" stroke="#ff0000" stroke-width="0.6"/>
<rect x="309.96" y="144.6" width="2.47" height="2.47" fill="none" stroke="#ff0000" stroke-width="0.6"/>
<rect x="342.6" y="145.16" width="2.47" height="2.47" fill="none" stroke="#ff0000" stroke-width="0.6"/>
<rect x="367.71" y="145.72" width="2.47" height="2.47" fill="none" stroke="#ff0000" stroke-width="0.6"/>
</g>
<g opacity="0.9">
<path d="M271.85 145.98L311.19 145.98L343.84 147.09L368.95 147.93" fill="none" stroke="#ff0000" stroke-width="0.8" stroke-linejoin="round"/>
<rect x="270.62" y="144.74" width="2.47" height="2.47" fill="none" stroke="#ff0000" stroke-width="0.6"/>
<rect x="309.96" y="144.74" width="2.47" height="2.47" fill="none" stroke="#ff0000" stroke-width="0.6"/>
<rect x="342.6" y="145.86" width="2.47" height="2.47" fill="none" stroke="#ff0000" stroke-width="0.6"/>
<rect x="367.71" y="146.7" width="2.47" height="2.47" fill="none" stroke="#ff0000" stroke-width="0.6"/>
</g>
</g>
<line x1="271.85" y1="232.0" x2="271.85" y2="228.5" stroke="#262626" stroke-width="0.8"/>
<line x1="311.19" y1="232.0" x2="311.19" y2="228.5" stroke="#262626" stroke-width="0.8"/>
<line x1="343.84" y1="232.0" x2="343.84" y2="228.5" stroke="#262626" stroke-width="0.8"/>
<line x1="368.95" y1="232.0" x2="368.95" y2="228.5" stroke="#262626" stroke-width="0.8"/>
<line x1="267" y1="223.4" x2="270.5" y2="223.4" stroke="#262626" stroke-width="0.8"/>
<line x1="373.8" y1="223.4" x2="370.3" y2="223.4" stroke="#262626" stroke-width="0.8"/>
<line x1="267" y1="195.5" x2="270.5" y2="195.5" stroke="#262626" stroke-width="0.8"/>
<line x1="373.8" y1="195.5" x2="370.3" y2="195.5" stroke="#262626" stroke-width="0.8"/>
<line x1="267" y1="167.6" x2="270.5" y2="167.6" stroke="#262626" stroke-width="0.8"/>
<line x1="373.8" y1="167.6" x2="370.3" y2="167.6" stroke="#262626" stroke-width="0.8"/>
<rect x="267" y="140.6" width="106.8" height="91.4" fill="none" stroke="#333" stroke-width="1.0"/>
<text x="271.85" y="240.7" font-size="7.2" text-anchor="middle" fill="#262626"  textLength="12.2" lengthAdjust="spacingAndGlyphs" >440</text>
<text x="311.19" y="240.7" font-size="7.2" text-anchor="middle" fill="#262626"  textLength="12.2" lengthAdjust="spacingAndGlyphs" >675</text>
<text x="343.84" y="240.7" font-size="7.2" text-anchor="middle" fill="#262626"  textLength="12.2" lengthAdjust="spacingAndGlyphs" >870</text>
<text x="368.95" y="240.7" font-size="7.2" text-anchor="middle" fill="#262626"  textLength="16" lengthAdjust="spacingAndGlyphs" >1020</text>
<text x="320.4" y="250.9" font-size="8.8" text-anchor="middle" fill="#262626"  textLength="70" lengthAdjust="spacingAndGlyphs" >Wavelength [nm]</text>
<text x="267.4" y="138.3" font-size="8.6" text-anchor="start" fill="#262626"  textLength="8.2" lengthAdjust="spacingAndGlyphs" >g)</text>
<line x1="388.45" y1="140.6" x2="388.45" y2="232.0" stroke="#e8e8e8" stroke-width="0.6"/>
<line x1="427.79" y1="140.6" x2="427.79" y2="232.0" stroke="#e8e8e8" stroke-width="0.6"/>
<line x1="460.44" y1="140.6" x2="460.44" y2="232.0" stroke="#e8e8e8" stroke-width="0.6"/>
<line x1="485.55" y1="140.6" x2="485.55" y2="232.0" stroke="#e8e8e8" stroke-width="0.6"/>
<line x1="383.6" y1="223.4" x2="490.4" y2="223.4" stroke="#e8e8e8" stroke-width="0.6"/>
<line x1="383.6" y1="195.5" x2="490.4" y2="195.5" stroke="#e8e8e8" stroke-width="0.6"/>
<line x1="383.6" y1="167.6" x2="490.4" y2="167.6" stroke="#e8e8e8" stroke-width="0.6"/>
<g clip-path="url(#cb3)">
<g opacity="1.0">
<path d="M388.45 180.15L427.79 181.97L460.44 194.94L485.55 203.31" fill="none" stroke="#b8b8b8" stroke-width="0.45" stroke-linejoin="round"/>
<circle cx="388.45" cy="180.15" r="1.4" fill="none" stroke="#9a9a9a" stroke-width="0.55"/>
<circle cx="427.79" cy="181.97" r="1.4" fill="none" stroke="#9a9a9a" stroke-width="0.55"/>
<circle cx="460.44" cy="194.94" r="1.4" fill="none" stroke="#9a9a9a" stroke-width="0.55"/>
<circle cx="485.55" cy="203.31" r="1.4" fill="none" stroke="#9a9a9a" stroke-width="0.55"/>
</g>
<g opacity="1.0">
<path d="M388.45 198.99L427.79 202.75L460.44 216.29L485.55 228.84" fill="none" stroke="#b8b8b8" stroke-width="0.45" stroke-linejoin="round"/>
<circle cx="388.45" cy="198.99" r="1.4" fill="none" stroke="#9a9a9a" stroke-width="0.55"/>
<circle cx="427.79" cy="202.75" r="1.4" fill="none" stroke="#9a9a9a" stroke-width="0.55"/>
<circle cx="460.44" cy="216.29" r="1.4" fill="none" stroke="#9a9a9a" stroke-width="0.55"/>
<circle cx="485.55" cy="228.84" r="1.4" fill="none" stroke="#9a9a9a" stroke-width="0.55"/>
</g>
</g>
<line x1="388.45" y1="232.0" x2="388.45" y2="228.5" stroke="#262626" stroke-width="0.8"/>
<line x1="427.79" y1="232.0" x2="427.79" y2="228.5" stroke="#262626" stroke-width="0.8"/>
<line x1="460.44" y1="232.0" x2="460.44" y2="228.5" stroke="#262626" stroke-width="0.8"/>
<line x1="485.55" y1="232.0" x2="485.55" y2="228.5" stroke="#262626" stroke-width="0.8"/>
<line x1="383.6" y1="223.4" x2="387.1" y2="223.4" stroke="#262626" stroke-width="0.8"/>
<line x1="490.4" y1="223.4" x2="486.9" y2="223.4" stroke="#262626" stroke-width="0.8"/>
<line x1="383.6" y1="195.5" x2="387.1" y2="195.5" stroke="#262626" stroke-width="0.8"/>
<line x1="490.4" y1="195.5" x2="486.9" y2="195.5" stroke="#262626" stroke-width="0.8"/>
<line x1="383.6" y1="167.6" x2="387.1" y2="167.6" stroke="#262626" stroke-width="0.8"/>
<line x1="490.4" y1="167.6" x2="486.9" y2="167.6" stroke="#262626" stroke-width="0.8"/>
<rect x="383.6" y="140.6" width="106.8" height="91.4" fill="none" stroke="#333" stroke-width="1.0"/>
<text x="388.45" y="240.7" font-size="7.2" text-anchor="middle" fill="#262626"  textLength="12.2" lengthAdjust="spacingAndGlyphs" >440</text>
<text x="427.79" y="240.7" font-size="7.2" text-anchor="middle" fill="#262626"  textLength="12.2" lengthAdjust="spacingAndGlyphs" >675</text>
<text x="460.44" y="240.7" font-size="7.2" text-anchor="middle" fill="#262626"  textLength="12.2" lengthAdjust="spacingAndGlyphs" >870</text>
<text x="485.55" y="240.7" font-size="7.2" text-anchor="middle" fill="#262626"  textLength="16" lengthAdjust="spacingAndGlyphs" >1020</text>
<text x="437" y="250.9" font-size="8.8" text-anchor="middle" fill="#262626"  textLength="70" lengthAdjust="spacingAndGlyphs" >Wavelength [nm]</text>
<text x="384" y="138.3" font-size="8.6" text-anchor="start" fill="#262626"  textLength="8.2" lengthAdjust="spacingAndGlyphs" >h)</text>
<g opacity="0.8">
<line x1="38.4" y1="224.3" x2="49.9" y2="224.3" stroke="#b8b8b8" stroke-width="0.51"/>
<circle cx="44.15" cy="224.3" r="1.3" fill="none" stroke="#9a9a9a" stroke-width="0.6"/>
</g>
<text x="54" y="226.6" font-size="6.8" text-anchor="start" fill="#262626"  textLength="24.6" lengthAdjust="spacingAndGlyphs" >No event</text>
<g opacity="0.8">
<line x1="154.7" y1="207.5" x2="166.2" y2="207.5" stroke="#a52a2a" stroke-width="0.68"/>
<path d="M160.45 205.95L162 208.59L158.9 208.59Z" fill="none" stroke="#a52a2a" stroke-width="0.7"/>
</g>
<text x="170.6" y="209.8" font-size="6.8" text-anchor="start" fill="#262626"  textLength="24" lengthAdjust="spacingAndGlyphs" >Event C1</text>
<g opacity="0.8">
<line x1="154.7" y1="216" x2="166.2" y2="216" stroke="#b8b8b8" stroke-width="0.51"/>
<circle cx="160.45" cy="216" r="1.3" fill="none" stroke="#9a9a9a" stroke-width="0.6"/>
</g>
<text x="170.6" y="218.3" font-size="6.8" text-anchor="start" fill="#262626"  textLength="24" lengthAdjust="spacingAndGlyphs" >1-24 July</text>
<g opacity="0.8">
<line x1="154.7" y1="224.4" x2="166.2" y2="224.4" stroke="#e070c4" stroke-width="0.68"/>
<path d="M159.17 223.12L161.73 225.68M159.17 225.68L161.73 223.12" stroke="#e070c4" stroke-width="0.78"/>
</g>
<text x="170.6" y="226.7" font-size="6.8" text-anchor="start" fill="#262626"  textLength="24.4" lengthAdjust="spacingAndGlyphs" >Event C2</text>
<g opacity="0.8">
<line x1="271.6" y1="215.9" x2="283.1" y2="215.9" stroke="#ff0000" stroke-width="0.68"/>
<rect x="276.07" y="214.62" width="2.56" height="2.56" fill="none" stroke="#ff0000" stroke-width="0.7"/>
</g>
<text x="287" y="218.2" font-size="6.8" text-anchor="start" fill="#262626"  textLength="24.3" lengthAdjust="spacingAndGlyphs" >Event C3</text>
<g opacity="0.8">
<line x1="271.6" y1="224.2" x2="283.1" y2="224.2" stroke="#b8b8b8" stroke-width="0.51"/>
<circle cx="277.35" cy="224.2" r="1.3" fill="none" stroke="#9a9a9a" stroke-width="0.6"/>
</g>
<text x="287" y="226.5" font-size="6.8" text-anchor="start" fill="#262626"  textLength="36.7" lengthAdjust="spacingAndGlyphs" >18-31 August</text>
<g opacity="0.8">
<line x1="431" y1="147.8" x2="442.5" y2="147.8" stroke="#b8b8b8" stroke-width="0.51"/>
<circle cx="436.75" cy="147.8" r="1.3" fill="none" stroke="#9a9a9a" stroke-width="0.6"/>
</g>
<text x="447" y="150.1" font-size="6.8" text-anchor="start" fill="#262626"  textLength="24.9" lengthAdjust="spacingAndGlyphs" >No event</text>
</svg></body></html>
